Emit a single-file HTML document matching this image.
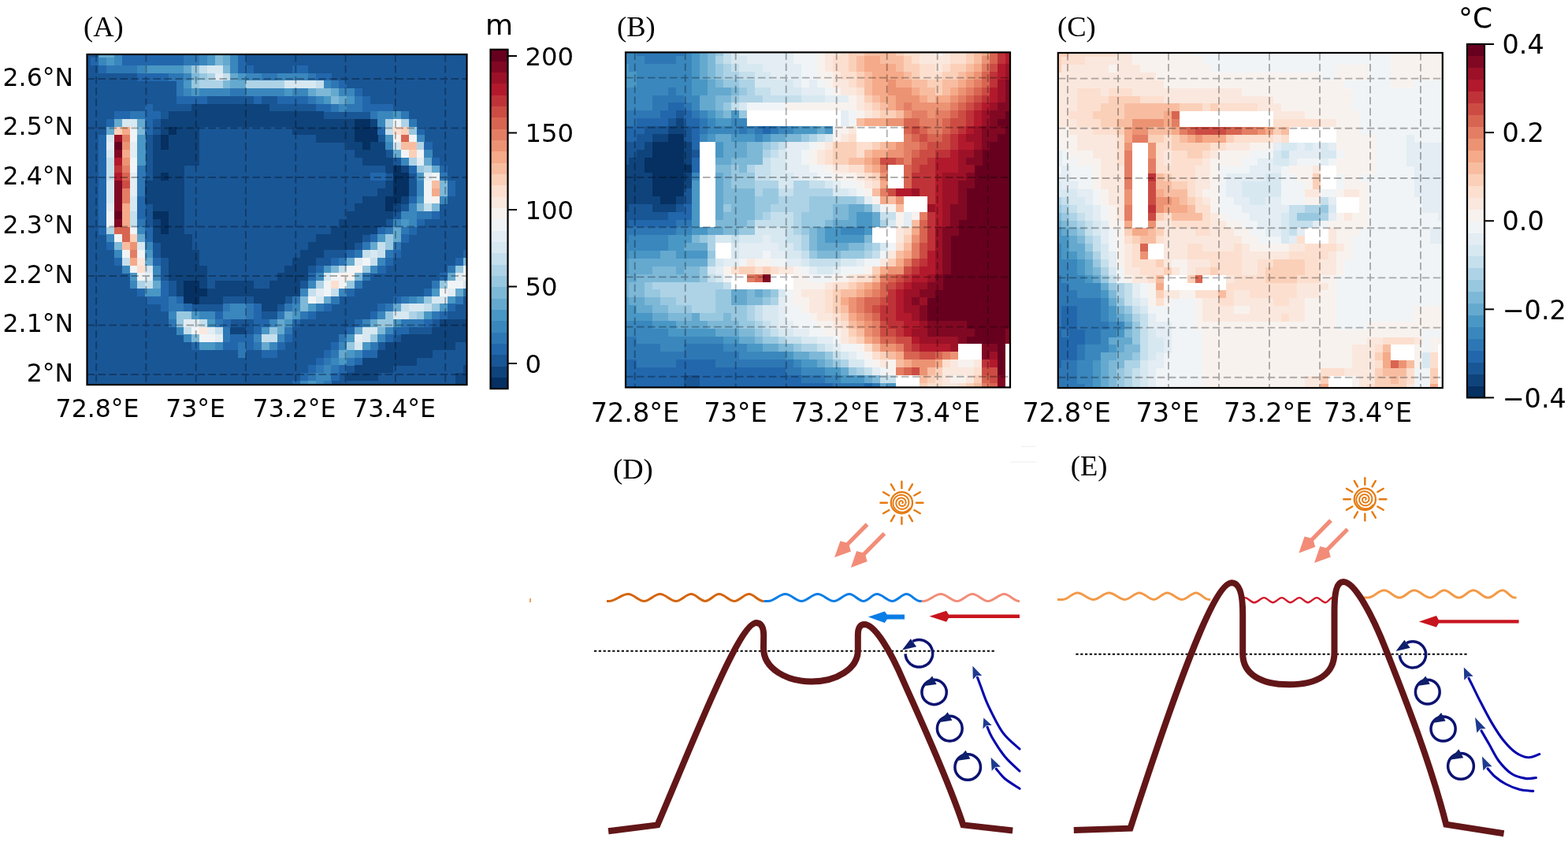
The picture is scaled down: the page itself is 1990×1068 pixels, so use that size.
<!DOCTYPE html><html><head><meta charset="utf-8"><title>Figure</title><style>html,body{margin:0;padding:0;background:#fff;}svg{display:block;}.t{font-family:"DejaVu Sans","Liberation Sans",sans-serif;font-size:31.5px;fill:#000;}.lab{font-family:"Liberation Serif",serif;font-size:36.5px;fill:#000;}</style></head><body>
<svg width="1990" height="1068" viewBox="0 0 1990 1068">
<rect width="1990" height="1068" fill="#fff"/>
<clipPath id="ca"><rect x="110.5" y="69" width="482" height="419"/></clipPath>
<g clip-path="url(#ca)" shape-rendering="crispEdges">
<rect x="110.5" y="69" width="482" height="419" fill="#195696"/>
<rect x="125.18" y="63.24" width="19.98" height="10.06" fill="#65a9cf"/>
<rect x="144.86" y="63.24" width="10.14" height="10.06" fill="#3a87bd"/>
<rect x="154.7" y="63.24" width="79.02" height="10.06" fill="#2267ac"/>
<rect x="233.42" y="63.24" width="19.98" height="10.06" fill="#2e77b5"/>
<rect x="253.1" y="63.24" width="10.14" height="10.06" fill="#3a87bd"/>
<rect x="262.94" y="63.24" width="10.14" height="10.06" fill="#4997c5"/>
<rect x="272.78" y="63.24" width="10.14" height="10.06" fill="#7eb8d7"/>
<rect x="282.62" y="63.24" width="10.14" height="10.06" fill="#65a9cf"/>
<rect x="292.46" y="63.24" width="10.14" height="10.06" fill="#3a87bd"/>
<rect x="302.3" y="63.24" width="10.14" height="10.06" fill="#2267ac"/>
<rect x="115.34" y="73" width="10.14" height="10.06" fill="#2267ac"/>
<rect x="125.18" y="73" width="10.14" height="10.06" fill="#3a87bd"/>
<rect x="135.02" y="73" width="10.14" height="10.06" fill="#4997c5"/>
<rect x="144.86" y="73" width="10.14" height="10.06" fill="#3a87bd"/>
<rect x="154.7" y="73" width="79.02" height="10.06" fill="#2267ac"/>
<rect x="233.42" y="73" width="19.98" height="10.06" fill="#2e77b5"/>
<rect x="253.1" y="73" width="10.14" height="10.06" fill="#3a87bd"/>
<rect x="262.94" y="73" width="10.14" height="10.06" fill="#4997c5"/>
<rect x="272.78" y="73" width="10.14" height="10.06" fill="#7eb8d7"/>
<rect x="282.62" y="73" width="10.14" height="10.06" fill="#65a9cf"/>
<rect x="292.46" y="73" width="10.14" height="10.06" fill="#3a87bd"/>
<rect x="302.3" y="73" width="10.14" height="10.06" fill="#2267ac"/>
<rect x="125.18" y="82.76" width="10.14" height="10.06" fill="#2267ac"/>
<rect x="135.02" y="82.76" width="39.66" height="10.06" fill="#2e77b5"/>
<rect x="174.38" y="82.76" width="10.14" height="10.06" fill="#3a87bd"/>
<rect x="184.22" y="82.76" width="49.5" height="10.06" fill="#4997c5"/>
<rect x="233.42" y="82.76" width="10.14" height="10.06" fill="#65a9cf"/>
<rect x="243.26" y="82.76" width="10.14" height="10.06" fill="#98c8e0"/>
<rect x="253.1" y="82.76" width="10.14" height="10.06" fill="#c5dfec"/>
<rect x="262.94" y="82.76" width="19.98" height="10.06" fill="#d7e8f1"/>
<rect x="282.62" y="82.76" width="10.14" height="10.06" fill="#7eb8d7"/>
<rect x="292.46" y="82.76" width="10.14" height="10.06" fill="#3a87bd"/>
<rect x="302.3" y="82.76" width="19.98" height="10.06" fill="#2267ac"/>
<rect x="371.18" y="82.76" width="19.98" height="10.06" fill="#2267ac"/>
<rect x="174.38" y="92.52" width="39.66" height="10.06" fill="#2267ac"/>
<rect x="213.74" y="92.52" width="19.98" height="10.06" fill="#2e77b5"/>
<rect x="233.42" y="92.52" width="10.14" height="10.06" fill="#3a87bd"/>
<rect x="243.26" y="92.52" width="10.14" height="10.06" fill="#7eb8d7"/>
<rect x="253.1" y="92.52" width="10.14" height="10.06" fill="#98c8e0"/>
<rect x="262.94" y="92.52" width="10.14" height="10.06" fill="#aed3e6"/>
<rect x="272.78" y="92.52" width="10.14" height="10.06" fill="#e3edf3"/>
<rect x="282.62" y="92.52" width="10.14" height="10.06" fill="#c5dfec"/>
<rect x="292.46" y="92.52" width="10.14" height="10.06" fill="#65a9cf"/>
<rect x="302.3" y="92.52" width="10.14" height="10.06" fill="#4997c5"/>
<rect x="312.14" y="92.52" width="19.98" height="10.06" fill="#3a87bd"/>
<rect x="331.82" y="92.52" width="19.98" height="10.06" fill="#2e77b5"/>
<rect x="351.5" y="92.52" width="39.66" height="10.06" fill="#3a87bd"/>
<rect x="390.86" y="92.52" width="10.14" height="10.06" fill="#2e77b5"/>
<rect x="400.7" y="92.52" width="19.98" height="10.06" fill="#2267ac"/>
<rect x="223.58" y="102.28" width="10.14" height="10.06" fill="#2e77b5"/>
<rect x="233.42" y="102.28" width="10.14" height="10.06" fill="#4997c5"/>
<rect x="243.26" y="102.28" width="10.14" height="10.06" fill="#98c8e0"/>
<rect x="253.1" y="102.28" width="29.82" height="10.06" fill="#aed3e6"/>
<rect x="282.62" y="102.28" width="10.14" height="10.06" fill="#7eb8d7"/>
<rect x="292.46" y="102.28" width="19.98" height="10.06" fill="#65a9cf"/>
<rect x="312.14" y="102.28" width="49.5" height="10.06" fill="#aed3e6"/>
<rect x="361.34" y="102.28" width="39.66" height="10.06" fill="#d7e8f1"/>
<rect x="400.7" y="102.28" width="10.14" height="10.06" fill="#c5dfec"/>
<rect x="410.54" y="102.28" width="10.14" height="10.06" fill="#3a87bd"/>
<rect x="420.38" y="102.28" width="10.14" height="10.06" fill="#2e77b5"/>
<rect x="430.22" y="102.28" width="10.14" height="10.06" fill="#2267ac"/>
<rect x="223.58" y="112.04" width="10.14" height="10.06" fill="#2e77b5"/>
<rect x="233.42" y="112.04" width="10.14" height="10.06" fill="#3a87bd"/>
<rect x="243.26" y="112.04" width="10.14" height="10.06" fill="#4997c5"/>
<rect x="253.1" y="112.04" width="39.66" height="10.06" fill="#3a87bd"/>
<rect x="292.46" y="112.04" width="19.98" height="10.06" fill="#2e77b5"/>
<rect x="312.14" y="112.04" width="49.5" height="10.06" fill="#3a87bd"/>
<rect x="361.34" y="112.04" width="10.14" height="10.06" fill="#4997c5"/>
<rect x="371.18" y="112.04" width="19.98" height="10.06" fill="#3a87bd"/>
<rect x="390.86" y="112.04" width="10.14" height="10.06" fill="#65a9cf"/>
<rect x="400.7" y="112.04" width="19.98" height="10.06" fill="#7eb8d7"/>
<rect x="420.38" y="112.04" width="10.14" height="10.06" fill="#65a9cf"/>
<rect x="430.22" y="112.04" width="19.98" height="10.06" fill="#3a87bd"/>
<rect x="449.9" y="112.04" width="10.14" height="10.06" fill="#2267ac"/>
<rect x="223.58" y="121.8" width="39.66" height="10.06" fill="#2267ac"/>
<rect x="321.98" y="121.8" width="10.14" height="10.06" fill="#2267ac"/>
<rect x="351.5" y="121.8" width="39.66" height="10.06" fill="#2267ac"/>
<rect x="390.86" y="121.8" width="10.14" height="10.06" fill="#2e77b5"/>
<rect x="400.7" y="121.8" width="10.14" height="10.06" fill="#3a87bd"/>
<rect x="410.54" y="121.8" width="10.14" height="10.06" fill="#4997c5"/>
<rect x="420.38" y="121.8" width="10.14" height="10.06" fill="#7eb8d7"/>
<rect x="430.22" y="121.8" width="10.14" height="10.06" fill="#65a9cf"/>
<rect x="440.06" y="121.8" width="10.14" height="10.06" fill="#4997c5"/>
<rect x="449.9" y="121.8" width="10.14" height="10.06" fill="#2e77b5"/>
<rect x="459.74" y="121.8" width="10.14" height="10.06" fill="#2267ac"/>
<rect x="184.22" y="131.56" width="10.14" height="10.06" fill="#2267ac"/>
<rect x="243.26" y="131.56" width="98.7" height="10.06" fill="#0f437b"/>
<rect x="400.7" y="131.56" width="19.98" height="10.06" fill="#2267ac"/>
<rect x="420.38" y="131.56" width="10.14" height="10.06" fill="#2e77b5"/>
<rect x="430.22" y="131.56" width="10.14" height="10.06" fill="#3a87bd"/>
<rect x="440.06" y="131.56" width="19.98" height="10.06" fill="#2e77b5"/>
<rect x="459.74" y="131.56" width="39.66" height="10.06" fill="#2267ac"/>
<rect x="144.86" y="141.32" width="19.98" height="10.06" fill="#2267ac"/>
<rect x="164.54" y="141.32" width="19.98" height="10.06" fill="#2e77b5"/>
<rect x="184.22" y="141.32" width="19.98" height="10.06" fill="#2267ac"/>
<rect x="213.74" y="141.32" width="197.1" height="10.06" fill="#0f437b"/>
<rect x="469.58" y="141.32" width="10.14" height="10.06" fill="#2e77b5"/>
<rect x="479.42" y="141.32" width="19.98" height="10.06" fill="#3a87bd"/>
<rect x="499.1" y="141.32" width="10.14" height="10.06" fill="#4997c5"/>
<rect x="508.94" y="141.32" width="10.14" height="10.06" fill="#2e77b5"/>
<rect x="135.02" y="151.08" width="10.14" height="10.06" fill="#2267ac"/>
<rect x="144.86" y="151.08" width="10.14" height="10.06" fill="#65a9cf"/>
<rect x="154.7" y="151.08" width="19.98" height="10.06" fill="#d7e8f1"/>
<rect x="174.38" y="151.08" width="10.14" height="10.06" fill="#65a9cf"/>
<rect x="184.22" y="151.08" width="10.14" height="10.06" fill="#2267ac"/>
<rect x="203.9" y="151.08" width="246.3" height="10.06" fill="#0f437b"/>
<rect x="449.9" y="151.08" width="19.98" height="10.06" fill="#053061"/>
<rect x="469.58" y="151.08" width="10.14" height="10.06" fill="#0f437b"/>
<rect x="479.42" y="151.08" width="10.14" height="10.06" fill="#3a87bd"/>
<rect x="489.26" y="151.08" width="10.14" height="10.06" fill="#aed3e6"/>
<rect x="499.1" y="151.08" width="10.14" height="10.06" fill="#f0f4f6"/>
<rect x="508.94" y="151.08" width="10.14" height="10.06" fill="#aed3e6"/>
<rect x="518.78" y="151.08" width="10.14" height="10.06" fill="#2e77b5"/>
<rect x="135.02" y="160.84" width="10.14" height="10.06" fill="#65a9cf"/>
<rect x="144.86" y="160.84" width="10.14" height="10.06" fill="#fbd0b9"/>
<rect x="154.7" y="160.84" width="10.14" height="10.06" fill="#f5aa89"/>
<rect x="164.54" y="160.84" width="10.14" height="10.06" fill="#f0f4f6"/>
<rect x="174.38" y="160.84" width="10.14" height="10.06" fill="#7eb8d7"/>
<rect x="184.22" y="160.84" width="10.14" height="10.06" fill="#2267ac"/>
<rect x="203.9" y="160.84" width="10.14" height="10.06" fill="#0f437b"/>
<rect x="213.74" y="160.84" width="10.14" height="10.06" fill="#053061"/>
<rect x="223.58" y="160.84" width="29.82" height="10.06" fill="#0f437b"/>
<rect x="371.18" y="160.84" width="79.02" height="10.06" fill="#0f437b"/>
<rect x="449.9" y="160.84" width="29.82" height="10.06" fill="#053061"/>
<rect x="479.42" y="160.84" width="10.14" height="10.06" fill="#2267ac"/>
<rect x="489.26" y="160.84" width="10.14" height="10.06" fill="#c5dfec"/>
<rect x="499.1" y="160.84" width="10.14" height="10.06" fill="#fcdfcf"/>
<rect x="508.94" y="160.84" width="10.14" height="10.06" fill="#fbd0b9"/>
<rect x="518.78" y="160.84" width="10.14" height="10.06" fill="#98c8e0"/>
<rect x="528.62" y="160.84" width="10.14" height="10.06" fill="#2267ac"/>
<rect x="125.18" y="170.6" width="10.14" height="10.06" fill="#2267ac"/>
<rect x="135.02" y="170.6" width="10.14" height="10.06" fill="#d7e8f1"/>
<rect x="144.86" y="170.6" width="10.14" height="10.06" fill="#9c1127"/>
<rect x="154.7" y="170.6" width="10.14" height="10.06" fill="#e37e64"/>
<rect x="164.54" y="170.6" width="10.14" height="10.06" fill="#f0f4f6"/>
<rect x="174.38" y="170.6" width="10.14" height="10.06" fill="#4997c5"/>
<rect x="194.06" y="170.6" width="10.14" height="10.06" fill="#0f437b"/>
<rect x="203.9" y="170.6" width="10.14" height="10.06" fill="#053061"/>
<rect x="213.74" y="170.6" width="39.66" height="10.06" fill="#0f437b"/>
<rect x="400.7" y="170.6" width="49.5" height="10.06" fill="#0f437b"/>
<rect x="449.9" y="170.6" width="29.82" height="10.06" fill="#053061"/>
<rect x="489.26" y="170.6" width="10.14" height="10.06" fill="#4997c5"/>
<rect x="499.1" y="170.6" width="10.14" height="10.06" fill="#f8f2ef"/>
<rect x="508.94" y="170.6" width="10.14" height="10.06" fill="#d86551"/>
<rect x="518.78" y="170.6" width="10.14" height="10.06" fill="#f0f4f6"/>
<rect x="528.62" y="170.6" width="10.14" height="10.06" fill="#3a87bd"/>
<rect x="125.18" y="180.36" width="10.14" height="10.06" fill="#2267ac"/>
<rect x="135.02" y="180.36" width="10.14" height="10.06" fill="#e3edf3"/>
<rect x="144.86" y="180.36" width="10.14" height="10.06" fill="#67001f"/>
<rect x="154.7" y="180.36" width="10.14" height="10.06" fill="#ec9374"/>
<rect x="164.54" y="180.36" width="10.14" height="10.06" fill="#e3edf3"/>
<rect x="174.38" y="180.36" width="10.14" height="10.06" fill="#4997c5"/>
<rect x="194.06" y="180.36" width="10.14" height="10.06" fill="#0f437b"/>
<rect x="203.9" y="180.36" width="10.14" height="10.06" fill="#053061"/>
<rect x="213.74" y="180.36" width="39.66" height="10.06" fill="#0f437b"/>
<rect x="440.06" y="180.36" width="19.98" height="10.06" fill="#0f437b"/>
<rect x="459.74" y="180.36" width="10.14" height="10.06" fill="#053061"/>
<rect x="469.58" y="180.36" width="19.98" height="10.06" fill="#0f437b"/>
<rect x="489.26" y="180.36" width="10.14" height="10.06" fill="#3a87bd"/>
<rect x="499.1" y="180.36" width="10.14" height="10.06" fill="#d7e8f1"/>
<rect x="508.94" y="180.36" width="19.98" height="10.06" fill="#f8bda1"/>
<rect x="528.62" y="180.36" width="10.14" height="10.06" fill="#aed3e6"/>
<rect x="538.46" y="180.36" width="10.14" height="10.06" fill="#2267ac"/>
<rect x="125.18" y="190.12" width="10.14" height="10.06" fill="#2267ac"/>
<rect x="135.02" y="190.12" width="10.14" height="10.06" fill="#d7e8f1"/>
<rect x="144.86" y="190.12" width="10.14" height="10.06" fill="#810823"/>
<rect x="154.7" y="190.12" width="10.14" height="10.06" fill="#f5aa89"/>
<rect x="164.54" y="190.12" width="10.14" height="10.06" fill="#e3edf3"/>
<rect x="174.38" y="190.12" width="10.14" height="10.06" fill="#4997c5"/>
<rect x="194.06" y="190.12" width="59.34" height="10.06" fill="#0f437b"/>
<rect x="449.9" y="190.12" width="39.66" height="10.06" fill="#0f437b"/>
<rect x="499.1" y="190.12" width="10.14" height="10.06" fill="#65a9cf"/>
<rect x="508.94" y="190.12" width="10.14" height="10.06" fill="#f0f4f6"/>
<rect x="518.78" y="190.12" width="10.14" height="10.06" fill="#fbd0b9"/>
<rect x="528.62" y="190.12" width="10.14" height="10.06" fill="#f0f4f6"/>
<rect x="538.46" y="190.12" width="10.14" height="10.06" fill="#3a87bd"/>
<rect x="125.18" y="199.88" width="10.14" height="10.06" fill="#2267ac"/>
<rect x="135.02" y="199.88" width="10.14" height="10.06" fill="#c5dfec"/>
<rect x="144.86" y="199.88" width="10.14" height="10.06" fill="#b3192c"/>
<rect x="154.7" y="199.88" width="10.14" height="10.06" fill="#ec9374"/>
<rect x="164.54" y="199.88" width="10.14" height="10.06" fill="#f0f4f6"/>
<rect x="174.38" y="199.88" width="10.14" height="10.06" fill="#4997c5"/>
<rect x="194.06" y="199.88" width="59.34" height="10.06" fill="#0f437b"/>
<rect x="459.74" y="199.88" width="39.66" height="10.06" fill="#0f437b"/>
<rect x="508.94" y="199.88" width="10.14" height="10.06" fill="#3a87bd"/>
<rect x="518.78" y="199.88" width="10.14" height="10.06" fill="#aed3e6"/>
<rect x="528.62" y="199.88" width="10.14" height="10.06" fill="#e3edf3"/>
<rect x="538.46" y="199.88" width="10.14" height="10.06" fill="#65a9cf"/>
<rect x="548.3" y="199.88" width="10.14" height="10.06" fill="#2267ac"/>
<rect x="125.18" y="209.64" width="10.14" height="10.06" fill="#2267ac"/>
<rect x="135.02" y="209.64" width="10.14" height="10.06" fill="#c5dfec"/>
<rect x="144.86" y="209.64" width="10.14" height="10.06" fill="#bf3338"/>
<rect x="154.7" y="209.64" width="10.14" height="10.06" fill="#e37e64"/>
<rect x="164.54" y="209.64" width="10.14" height="10.06" fill="#f0f4f6"/>
<rect x="174.38" y="209.64" width="10.14" height="10.06" fill="#2e77b5"/>
<rect x="194.06" y="209.64" width="39.66" height="10.06" fill="#0f437b"/>
<rect x="489.26" y="209.64" width="10.14" height="10.06" fill="#0f437b"/>
<rect x="499.1" y="209.64" width="10.14" height="10.06" fill="#053061"/>
<rect x="508.94" y="209.64" width="10.14" height="10.06" fill="#0f437b"/>
<rect x="518.78" y="209.64" width="10.14" height="10.06" fill="#2267ac"/>
<rect x="528.62" y="209.64" width="10.14" height="10.06" fill="#98c8e0"/>
<rect x="538.46" y="209.64" width="10.14" height="10.06" fill="#aed3e6"/>
<rect x="548.3" y="209.64" width="10.14" height="10.06" fill="#65a9cf"/>
<rect x="558.14" y="209.64" width="10.14" height="10.06" fill="#2267ac"/>
<rect x="125.18" y="219.4" width="10.14" height="10.06" fill="#2267ac"/>
<rect x="135.02" y="219.4" width="10.14" height="10.06" fill="#c5dfec"/>
<rect x="144.86" y="219.4" width="10.14" height="10.06" fill="#b3192c"/>
<rect x="154.7" y="219.4" width="10.14" height="10.06" fill="#d86551"/>
<rect x="164.54" y="219.4" width="10.14" height="10.06" fill="#e3edf3"/>
<rect x="174.38" y="219.4" width="10.14" height="10.06" fill="#2e77b5"/>
<rect x="194.06" y="219.4" width="10.14" height="10.06" fill="#0f437b"/>
<rect x="203.9" y="219.4" width="10.14" height="10.06" fill="#053061"/>
<rect x="213.74" y="219.4" width="19.98" height="10.06" fill="#0f437b"/>
<rect x="469.58" y="219.4" width="19.98" height="10.06" fill="#2267ac"/>
<rect x="499.1" y="219.4" width="19.98" height="10.06" fill="#053061"/>
<rect x="528.62" y="219.4" width="10.14" height="10.06" fill="#4997c5"/>
<rect x="538.46" y="219.4" width="10.14" height="10.06" fill="#e3edf3"/>
<rect x="548.3" y="219.4" width="10.14" height="10.06" fill="#f0f4f6"/>
<rect x="558.14" y="219.4" width="10.14" height="10.06" fill="#2e77b5"/>
<rect x="125.18" y="229.16" width="10.14" height="10.06" fill="#2267ac"/>
<rect x="135.02" y="229.16" width="10.14" height="10.06" fill="#d7e8f1"/>
<rect x="144.86" y="229.16" width="10.14" height="10.06" fill="#810823"/>
<rect x="154.7" y="229.16" width="10.14" height="10.06" fill="#cc4c44"/>
<rect x="164.54" y="229.16" width="10.14" height="10.06" fill="#e3edf3"/>
<rect x="174.38" y="229.16" width="10.14" height="10.06" fill="#2e77b5"/>
<rect x="184.22" y="229.16" width="49.5" height="10.06" fill="#0f437b"/>
<rect x="489.26" y="229.16" width="10.14" height="10.06" fill="#0f437b"/>
<rect x="499.1" y="229.16" width="19.98" height="10.06" fill="#053061"/>
<rect x="528.62" y="229.16" width="10.14" height="10.06" fill="#3a87bd"/>
<rect x="538.46" y="229.16" width="10.14" height="10.06" fill="#f0f4f6"/>
<rect x="548.3" y="229.16" width="10.14" height="10.06" fill="#f8bda1"/>
<rect x="558.14" y="229.16" width="10.14" height="10.06" fill="#7eb8d7"/>
<rect x="567.98" y="229.16" width="10.14" height="10.06" fill="#2267ac"/>
<rect x="125.18" y="238.92" width="10.14" height="10.06" fill="#2267ac"/>
<rect x="135.02" y="238.92" width="10.14" height="10.06" fill="#d7e8f1"/>
<rect x="144.86" y="238.92" width="10.14" height="10.06" fill="#810823"/>
<rect x="154.7" y="238.92" width="10.14" height="10.06" fill="#e37e64"/>
<rect x="164.54" y="238.92" width="10.14" height="10.06" fill="#e3edf3"/>
<rect x="174.38" y="238.92" width="10.14" height="10.06" fill="#2e77b5"/>
<rect x="184.22" y="238.92" width="49.5" height="10.06" fill="#0f437b"/>
<rect x="479.42" y="238.92" width="19.98" height="10.06" fill="#0f437b"/>
<rect x="499.1" y="238.92" width="19.98" height="10.06" fill="#053061"/>
<rect x="528.62" y="238.92" width="10.14" height="10.06" fill="#3a87bd"/>
<rect x="538.46" y="238.92" width="10.14" height="10.06" fill="#f0f4f6"/>
<rect x="548.3" y="238.92" width="10.14" height="10.06" fill="#f5aa89"/>
<rect x="558.14" y="238.92" width="10.14" height="10.06" fill="#7eb8d7"/>
<rect x="567.98" y="238.92" width="10.14" height="10.06" fill="#2267ac"/>
<rect x="125.18" y="248.68" width="10.14" height="10.06" fill="#2267ac"/>
<rect x="135.02" y="248.68" width="10.14" height="10.06" fill="#d7e8f1"/>
<rect x="144.86" y="248.68" width="10.14" height="10.06" fill="#810823"/>
<rect x="154.7" y="248.68" width="10.14" height="10.06" fill="#e37e64"/>
<rect x="164.54" y="248.68" width="10.14" height="10.06" fill="#d7e8f1"/>
<rect x="174.38" y="248.68" width="10.14" height="10.06" fill="#2267ac"/>
<rect x="184.22" y="248.68" width="49.5" height="10.06" fill="#0f437b"/>
<rect x="459.74" y="248.68" width="29.82" height="10.06" fill="#0f437b"/>
<rect x="489.26" y="248.68" width="19.98" height="10.06" fill="#053061"/>
<rect x="508.94" y="248.68" width="10.14" height="10.06" fill="#0f437b"/>
<rect x="518.78" y="248.68" width="10.14" height="10.06" fill="#2267ac"/>
<rect x="528.62" y="248.68" width="10.14" height="10.06" fill="#4997c5"/>
<rect x="538.46" y="248.68" width="10.14" height="10.06" fill="#f0f4f6"/>
<rect x="548.3" y="248.68" width="10.14" height="10.06" fill="#f8f2ef"/>
<rect x="558.14" y="248.68" width="10.14" height="10.06" fill="#3a87bd"/>
<rect x="125.18" y="258.44" width="10.14" height="10.06" fill="#2267ac"/>
<rect x="135.02" y="258.44" width="10.14" height="10.06" fill="#e3edf3"/>
<rect x="144.86" y="258.44" width="10.14" height="10.06" fill="#810823"/>
<rect x="154.7" y="258.44" width="10.14" height="10.06" fill="#f5aa89"/>
<rect x="164.54" y="258.44" width="10.14" height="10.06" fill="#d7e8f1"/>
<rect x="174.38" y="258.44" width="10.14" height="10.06" fill="#2267ac"/>
<rect x="194.06" y="258.44" width="39.66" height="10.06" fill="#0f437b"/>
<rect x="449.9" y="258.44" width="39.66" height="10.06" fill="#0f437b"/>
<rect x="489.26" y="258.44" width="10.14" height="10.06" fill="#053061"/>
<rect x="499.1" y="258.44" width="10.14" height="10.06" fill="#0f437b"/>
<rect x="518.78" y="258.44" width="10.14" height="10.06" fill="#3a87bd"/>
<rect x="528.62" y="258.44" width="10.14" height="10.06" fill="#7eb8d7"/>
<rect x="538.46" y="258.44" width="10.14" height="10.06" fill="#c5dfec"/>
<rect x="548.3" y="258.44" width="10.14" height="10.06" fill="#7eb8d7"/>
<rect x="125.18" y="268.2" width="10.14" height="10.06" fill="#2267ac"/>
<rect x="135.02" y="268.2" width="10.14" height="10.06" fill="#f0f4f6"/>
<rect x="144.86" y="268.2" width="10.14" height="10.06" fill="#67001f"/>
<rect x="154.7" y="268.2" width="10.14" height="10.06" fill="#f5aa89"/>
<rect x="164.54" y="268.2" width="10.14" height="10.06" fill="#c5dfec"/>
<rect x="174.38" y="268.2" width="10.14" height="10.06" fill="#2267ac"/>
<rect x="194.06" y="268.2" width="19.98" height="10.06" fill="#053061"/>
<rect x="213.74" y="268.2" width="19.98" height="10.06" fill="#0f437b"/>
<rect x="440.06" y="268.2" width="59.34" height="10.06" fill="#0f437b"/>
<rect x="508.94" y="268.2" width="19.98" height="10.06" fill="#3a87bd"/>
<rect x="528.62" y="268.2" width="19.98" height="10.06" fill="#2e77b5"/>
<rect x="548.3" y="268.2" width="10.14" height="10.06" fill="#2267ac"/>
<rect x="125.18" y="277.96" width="10.14" height="10.06" fill="#2267ac"/>
<rect x="135.02" y="277.96" width="10.14" height="10.06" fill="#f0f4f6"/>
<rect x="144.86" y="277.96" width="10.14" height="10.06" fill="#810823"/>
<rect x="154.7" y="277.96" width="10.14" height="10.06" fill="#f5aa89"/>
<rect x="164.54" y="277.96" width="10.14" height="10.06" fill="#c5dfec"/>
<rect x="174.38" y="277.96" width="10.14" height="10.06" fill="#2e77b5"/>
<rect x="194.06" y="277.96" width="10.14" height="10.06" fill="#0f437b"/>
<rect x="203.9" y="277.96" width="10.14" height="10.06" fill="#053061"/>
<rect x="213.74" y="277.96" width="19.98" height="10.06" fill="#0f437b"/>
<rect x="430.22" y="277.96" width="59.34" height="10.06" fill="#0f437b"/>
<rect x="499.1" y="277.96" width="10.14" height="10.06" fill="#3a87bd"/>
<rect x="508.94" y="277.96" width="10.14" height="10.06" fill="#4997c5"/>
<rect x="518.78" y="277.96" width="10.14" height="10.06" fill="#3a87bd"/>
<rect x="528.62" y="277.96" width="10.14" height="10.06" fill="#2267ac"/>
<rect x="125.18" y="287.72" width="10.14" height="10.06" fill="#2267ac"/>
<rect x="135.02" y="287.72" width="10.14" height="10.06" fill="#aed3e6"/>
<rect x="144.86" y="287.72" width="19.98" height="10.06" fill="#d86551"/>
<rect x="164.54" y="287.72" width="10.14" height="10.06" fill="#f0f4f6"/>
<rect x="174.38" y="287.72" width="10.14" height="10.06" fill="#3a87bd"/>
<rect x="184.22" y="287.72" width="10.14" height="10.06" fill="#2267ac"/>
<rect x="194.06" y="287.72" width="10.14" height="10.06" fill="#0f437b"/>
<rect x="203.9" y="287.72" width="10.14" height="10.06" fill="#053061"/>
<rect x="213.74" y="287.72" width="19.98" height="10.06" fill="#0f437b"/>
<rect x="420.38" y="287.72" width="59.34" height="10.06" fill="#0f437b"/>
<rect x="479.42" y="287.72" width="10.14" height="10.06" fill="#2267ac"/>
<rect x="489.26" y="287.72" width="10.14" height="10.06" fill="#2e77b5"/>
<rect x="499.1" y="287.72" width="10.14" height="10.06" fill="#65a9cf"/>
<rect x="508.94" y="287.72" width="10.14" height="10.06" fill="#2e77b5"/>
<rect x="518.78" y="287.72" width="10.14" height="10.06" fill="#2267ac"/>
<rect x="135.02" y="297.48" width="10.14" height="10.06" fill="#3a87bd"/>
<rect x="144.86" y="297.48" width="10.14" height="10.06" fill="#f0f4f6"/>
<rect x="154.7" y="297.48" width="10.14" height="10.06" fill="#d86551"/>
<rect x="164.54" y="297.48" width="10.14" height="10.06" fill="#fbd0b9"/>
<rect x="174.38" y="297.48" width="10.14" height="10.06" fill="#65a9cf"/>
<rect x="184.22" y="297.48" width="10.14" height="10.06" fill="#2267ac"/>
<rect x="194.06" y="297.48" width="49.5" height="10.06" fill="#0f437b"/>
<rect x="400.7" y="297.48" width="59.34" height="10.06" fill="#0f437b"/>
<rect x="469.58" y="297.48" width="10.14" height="10.06" fill="#2267ac"/>
<rect x="479.42" y="297.48" width="10.14" height="10.06" fill="#4997c5"/>
<rect x="489.26" y="297.48" width="10.14" height="10.06" fill="#98c8e0"/>
<rect x="499.1" y="297.48" width="10.14" height="10.06" fill="#65a9cf"/>
<rect x="508.94" y="297.48" width="10.14" height="10.06" fill="#2267ac"/>
<rect x="135.02" y="307.24" width="10.14" height="10.06" fill="#2267ac"/>
<rect x="144.86" y="307.24" width="10.14" height="10.06" fill="#7eb8d7"/>
<rect x="154.7" y="307.24" width="10.14" height="10.06" fill="#f8bda1"/>
<rect x="164.54" y="307.24" width="10.14" height="10.06" fill="#ec9374"/>
<rect x="174.38" y="307.24" width="10.14" height="10.06" fill="#d7e8f1"/>
<rect x="184.22" y="307.24" width="10.14" height="10.06" fill="#3a87bd"/>
<rect x="203.9" y="307.24" width="39.66" height="10.06" fill="#0f437b"/>
<rect x="390.86" y="307.24" width="59.34" height="10.06" fill="#0f437b"/>
<rect x="459.74" y="307.24" width="10.14" height="10.06" fill="#2e77b5"/>
<rect x="469.58" y="307.24" width="10.14" height="10.06" fill="#65a9cf"/>
<rect x="479.42" y="307.24" width="10.14" height="10.06" fill="#c5dfec"/>
<rect x="489.26" y="307.24" width="10.14" height="10.06" fill="#98c8e0"/>
<rect x="499.1" y="307.24" width="10.14" height="10.06" fill="#2e77b5"/>
<rect x="144.86" y="317" width="10.14" height="10.06" fill="#3a87bd"/>
<rect x="154.7" y="317" width="10.14" height="10.06" fill="#f0f4f6"/>
<rect x="164.54" y="317" width="10.14" height="10.06" fill="#e37e64"/>
<rect x="174.38" y="317" width="10.14" height="10.06" fill="#f0f4f6"/>
<rect x="184.22" y="317" width="10.14" height="10.06" fill="#4997c5"/>
<rect x="203.9" y="317" width="49.5" height="10.06" fill="#0f437b"/>
<rect x="381.02" y="317" width="29.82" height="10.06" fill="#0f437b"/>
<rect x="440.06" y="317" width="10.14" height="10.06" fill="#2267ac"/>
<rect x="449.9" y="317" width="10.14" height="10.06" fill="#2e77b5"/>
<rect x="459.74" y="317" width="10.14" height="10.06" fill="#c5dfec"/>
<rect x="469.58" y="317" width="10.14" height="10.06" fill="#d7e8f1"/>
<rect x="479.42" y="317" width="10.14" height="10.06" fill="#c5dfec"/>
<rect x="489.26" y="317" width="10.14" height="10.06" fill="#2e77b5"/>
<rect x="499.1" y="317" width="10.14" height="10.06" fill="#2267ac"/>
<rect x="587.66" y="317" width="10.14" height="10.06" fill="#2267ac"/>
<rect x="144.86" y="326.76" width="10.14" height="10.06" fill="#2267ac"/>
<rect x="154.7" y="326.76" width="10.14" height="10.06" fill="#c5dfec"/>
<rect x="164.54" y="326.76" width="10.14" height="10.06" fill="#f5aa89"/>
<rect x="174.38" y="326.76" width="10.14" height="10.06" fill="#fae8de"/>
<rect x="184.22" y="326.76" width="10.14" height="10.06" fill="#65a9cf"/>
<rect x="194.06" y="326.76" width="10.14" height="10.06" fill="#2267ac"/>
<rect x="213.74" y="326.76" width="39.66" height="10.06" fill="#0f437b"/>
<rect x="371.18" y="326.76" width="29.82" height="10.06" fill="#0f437b"/>
<rect x="420.38" y="326.76" width="10.14" height="10.06" fill="#2267ac"/>
<rect x="430.22" y="326.76" width="10.14" height="10.06" fill="#2e77b5"/>
<rect x="440.06" y="326.76" width="10.14" height="10.06" fill="#65a9cf"/>
<rect x="449.9" y="326.76" width="10.14" height="10.06" fill="#e3edf3"/>
<rect x="459.74" y="326.76" width="10.14" height="10.06" fill="#f0f4f6"/>
<rect x="469.58" y="326.76" width="10.14" height="10.06" fill="#c5dfec"/>
<rect x="479.42" y="326.76" width="10.14" height="10.06" fill="#3a87bd"/>
<rect x="489.26" y="326.76" width="10.14" height="10.06" fill="#2267ac"/>
<rect x="577.82" y="326.76" width="10.14" height="10.06" fill="#2267ac"/>
<rect x="587.66" y="326.76" width="10.14" height="10.06" fill="#7eb8d7"/>
<rect x="154.7" y="336.52" width="10.14" height="10.06" fill="#3a87bd"/>
<rect x="164.54" y="336.52" width="10.14" height="10.06" fill="#f0f4f6"/>
<rect x="174.38" y="336.52" width="10.14" height="10.06" fill="#fcdfcf"/>
<rect x="184.22" y="336.52" width="10.14" height="10.06" fill="#d7e8f1"/>
<rect x="194.06" y="336.52" width="10.14" height="10.06" fill="#3a87bd"/>
<rect x="213.74" y="336.52" width="49.5" height="10.06" fill="#0f437b"/>
<rect x="361.34" y="336.52" width="29.82" height="10.06" fill="#0f437b"/>
<rect x="400.7" y="336.52" width="10.14" height="10.06" fill="#2267ac"/>
<rect x="410.54" y="336.52" width="10.14" height="10.06" fill="#4997c5"/>
<rect x="420.38" y="336.52" width="10.14" height="10.06" fill="#7eb8d7"/>
<rect x="430.22" y="336.52" width="10.14" height="10.06" fill="#c5dfec"/>
<rect x="440.06" y="336.52" width="10.14" height="10.06" fill="#f0f4f6"/>
<rect x="449.9" y="336.52" width="10.14" height="10.06" fill="#f8f2ef"/>
<rect x="459.74" y="336.52" width="10.14" height="10.06" fill="#98c8e0"/>
<rect x="469.58" y="336.52" width="10.14" height="10.06" fill="#3a87bd"/>
<rect x="479.42" y="336.52" width="10.14" height="10.06" fill="#2267ac"/>
<rect x="567.98" y="336.52" width="10.14" height="10.06" fill="#2e77b5"/>
<rect x="577.82" y="336.52" width="10.14" height="10.06" fill="#98c8e0"/>
<rect x="587.66" y="336.52" width="10.14" height="10.06" fill="#f0f4f6"/>
<rect x="164.54" y="346.28" width="10.14" height="10.06" fill="#4997c5"/>
<rect x="174.38" y="346.28" width="10.14" height="10.06" fill="#f0f4f6"/>
<rect x="184.22" y="346.28" width="10.14" height="10.06" fill="#e3edf3"/>
<rect x="194.06" y="346.28" width="10.14" height="10.06" fill="#3a87bd"/>
<rect x="213.74" y="346.28" width="49.5" height="10.06" fill="#0f437b"/>
<rect x="351.5" y="346.28" width="39.66" height="10.06" fill="#0f437b"/>
<rect x="390.86" y="346.28" width="10.14" height="10.06" fill="#2267ac"/>
<rect x="400.7" y="346.28" width="10.14" height="10.06" fill="#3a87bd"/>
<rect x="410.54" y="346.28" width="10.14" height="10.06" fill="#d7e8f1"/>
<rect x="420.38" y="346.28" width="10.14" height="10.06" fill="#f0f4f6"/>
<rect x="430.22" y="346.28" width="19.98" height="10.06" fill="#f8f2ef"/>
<rect x="449.9" y="346.28" width="10.14" height="10.06" fill="#7eb8d7"/>
<rect x="459.74" y="346.28" width="10.14" height="10.06" fill="#2e77b5"/>
<rect x="558.14" y="346.28" width="10.14" height="10.06" fill="#2267ac"/>
<rect x="567.98" y="346.28" width="10.14" height="10.06" fill="#65a9cf"/>
<rect x="577.82" y="346.28" width="10.14" height="10.06" fill="#e3edf3"/>
<rect x="587.66" y="346.28" width="10.14" height="10.06" fill="#f8f2ef"/>
<rect x="164.54" y="356.04" width="10.14" height="10.06" fill="#3a87bd"/>
<rect x="174.38" y="356.04" width="10.14" height="10.06" fill="#aed3e6"/>
<rect x="184.22" y="356.04" width="10.14" height="10.06" fill="#c5dfec"/>
<rect x="194.06" y="356.04" width="10.14" height="10.06" fill="#65a9cf"/>
<rect x="203.9" y="356.04" width="10.14" height="10.06" fill="#2267ac"/>
<rect x="223.58" y="356.04" width="10.14" height="10.06" fill="#0f437b"/>
<rect x="233.42" y="356.04" width="19.98" height="10.06" fill="#053061"/>
<rect x="253.1" y="356.04" width="10.14" height="10.06" fill="#0f437b"/>
<rect x="272.78" y="356.04" width="49.5" height="10.06" fill="#0f437b"/>
<rect x="341.66" y="356.04" width="39.66" height="10.06" fill="#0f437b"/>
<rect x="390.86" y="356.04" width="10.14" height="10.06" fill="#3a87bd"/>
<rect x="400.7" y="356.04" width="10.14" height="10.06" fill="#aed3e6"/>
<rect x="410.54" y="356.04" width="10.14" height="10.06" fill="#f0f4f6"/>
<rect x="420.38" y="356.04" width="10.14" height="10.06" fill="#fcdfcf"/>
<rect x="430.22" y="356.04" width="10.14" height="10.06" fill="#f0f4f6"/>
<rect x="440.06" y="356.04" width="10.14" height="10.06" fill="#98c8e0"/>
<rect x="449.9" y="356.04" width="10.14" height="10.06" fill="#2e77b5"/>
<rect x="548.3" y="356.04" width="10.14" height="10.06" fill="#2e77b5"/>
<rect x="558.14" y="356.04" width="10.14" height="10.06" fill="#98c8e0"/>
<rect x="567.98" y="356.04" width="19.98" height="10.06" fill="#f0f4f6"/>
<rect x="587.66" y="356.04" width="10.14" height="10.06" fill="#d7e8f1"/>
<rect x="174.38" y="365.8" width="10.14" height="10.06" fill="#2267ac"/>
<rect x="184.22" y="365.8" width="19.98" height="10.06" fill="#4997c5"/>
<rect x="203.9" y="365.8" width="10.14" height="10.06" fill="#2267ac"/>
<rect x="223.58" y="365.8" width="10.14" height="10.06" fill="#0f437b"/>
<rect x="233.42" y="365.8" width="29.82" height="10.06" fill="#053061"/>
<rect x="262.94" y="365.8" width="118.38" height="10.06" fill="#0f437b"/>
<rect x="381.02" y="365.8" width="10.14" height="10.06" fill="#3a87bd"/>
<rect x="390.86" y="365.8" width="10.14" height="10.06" fill="#c5dfec"/>
<rect x="400.7" y="365.8" width="10.14" height="10.06" fill="#e3edf3"/>
<rect x="410.54" y="365.8" width="10.14" height="10.06" fill="#f0f4f6"/>
<rect x="420.38" y="365.8" width="10.14" height="10.06" fill="#c5dfec"/>
<rect x="430.22" y="365.8" width="10.14" height="10.06" fill="#3a87bd"/>
<rect x="440.06" y="365.8" width="10.14" height="10.06" fill="#2267ac"/>
<rect x="538.46" y="365.8" width="10.14" height="10.06" fill="#2267ac"/>
<rect x="548.3" y="365.8" width="10.14" height="10.06" fill="#4997c5"/>
<rect x="558.14" y="365.8" width="10.14" height="10.06" fill="#f0f4f6"/>
<rect x="567.98" y="365.8" width="10.14" height="10.06" fill="#e3edf3"/>
<rect x="577.82" y="365.8" width="10.14" height="10.06" fill="#65a9cf"/>
<rect x="587.66" y="365.8" width="10.14" height="10.06" fill="#2e77b5"/>
<rect x="184.22" y="375.56" width="29.82" height="10.06" fill="#2267ac"/>
<rect x="213.74" y="375.56" width="10.14" height="10.06" fill="#2e77b5"/>
<rect x="223.58" y="375.56" width="10.14" height="10.06" fill="#2267ac"/>
<rect x="233.42" y="375.56" width="19.98" height="10.06" fill="#053061"/>
<rect x="253.1" y="375.56" width="29.82" height="10.06" fill="#0f437b"/>
<rect x="321.98" y="375.56" width="39.66" height="10.06" fill="#0f437b"/>
<rect x="371.18" y="375.56" width="10.14" height="10.06" fill="#2e77b5"/>
<rect x="381.02" y="375.56" width="10.14" height="10.06" fill="#7eb8d7"/>
<rect x="390.86" y="375.56" width="10.14" height="10.06" fill="#f0f4f6"/>
<rect x="400.7" y="375.56" width="10.14" height="10.06" fill="#d7e8f1"/>
<rect x="410.54" y="375.56" width="10.14" height="10.06" fill="#65a9cf"/>
<rect x="420.38" y="375.56" width="10.14" height="10.06" fill="#2e77b5"/>
<rect x="499.1" y="375.56" width="10.14" height="10.06" fill="#2267ac"/>
<rect x="508.94" y="375.56" width="10.14" height="10.06" fill="#2e77b5"/>
<rect x="518.78" y="375.56" width="10.14" height="10.06" fill="#3a87bd"/>
<rect x="528.62" y="375.56" width="10.14" height="10.06" fill="#4997c5"/>
<rect x="538.46" y="375.56" width="10.14" height="10.06" fill="#98c8e0"/>
<rect x="548.3" y="375.56" width="19.98" height="10.06" fill="#d7e8f1"/>
<rect x="567.98" y="375.56" width="10.14" height="10.06" fill="#4997c5"/>
<rect x="577.82" y="375.56" width="10.14" height="10.06" fill="#2e77b5"/>
<rect x="203.9" y="385.32" width="10.14" height="10.06" fill="#2267ac"/>
<rect x="213.74" y="385.32" width="19.98" height="10.06" fill="#2e77b5"/>
<rect x="233.42" y="385.32" width="10.14" height="10.06" fill="#2267ac"/>
<rect x="282.62" y="385.32" width="10.14" height="10.06" fill="#2e77b5"/>
<rect x="292.46" y="385.32" width="19.98" height="10.06" fill="#3a87bd"/>
<rect x="312.14" y="385.32" width="10.14" height="10.06" fill="#2e77b5"/>
<rect x="321.98" y="385.32" width="10.14" height="10.06" fill="#2267ac"/>
<rect x="331.82" y="385.32" width="19.98" height="10.06" fill="#0f437b"/>
<rect x="361.34" y="385.32" width="10.14" height="10.06" fill="#2e77b5"/>
<rect x="371.18" y="385.32" width="10.14" height="10.06" fill="#3a87bd"/>
<rect x="381.02" y="385.32" width="10.14" height="10.06" fill="#7eb8d7"/>
<rect x="390.86" y="385.32" width="10.14" height="10.06" fill="#4997c5"/>
<rect x="400.7" y="385.32" width="10.14" height="10.06" fill="#2e77b5"/>
<rect x="410.54" y="385.32" width="10.14" height="10.06" fill="#2267ac"/>
<rect x="479.42" y="385.32" width="10.14" height="10.06" fill="#2267ac"/>
<rect x="489.26" y="385.32" width="10.14" height="10.06" fill="#2e77b5"/>
<rect x="499.1" y="385.32" width="10.14" height="10.06" fill="#65a9cf"/>
<rect x="508.94" y="385.32" width="10.14" height="10.06" fill="#c5dfec"/>
<rect x="518.78" y="385.32" width="19.98" height="10.06" fill="#d7e8f1"/>
<rect x="538.46" y="385.32" width="10.14" height="10.06" fill="#c5dfec"/>
<rect x="548.3" y="385.32" width="10.14" height="10.06" fill="#98c8e0"/>
<rect x="558.14" y="385.32" width="10.14" height="10.06" fill="#4997c5"/>
<rect x="567.98" y="385.32" width="10.14" height="10.06" fill="#2267ac"/>
<rect x="213.74" y="395.08" width="10.14" height="10.06" fill="#3a87bd"/>
<rect x="223.58" y="395.08" width="19.98" height="10.06" fill="#98c8e0"/>
<rect x="243.26" y="395.08" width="10.14" height="10.06" fill="#4997c5"/>
<rect x="253.1" y="395.08" width="19.98" height="10.06" fill="#3a87bd"/>
<rect x="272.78" y="395.08" width="10.14" height="10.06" fill="#2267ac"/>
<rect x="282.62" y="395.08" width="29.82" height="10.06" fill="#3a87bd"/>
<rect x="312.14" y="395.08" width="10.14" height="10.06" fill="#2e77b5"/>
<rect x="321.98" y="395.08" width="10.14" height="10.06" fill="#2267ac"/>
<rect x="351.5" y="395.08" width="10.14" height="10.06" fill="#2e77b5"/>
<rect x="361.34" y="395.08" width="10.14" height="10.06" fill="#65a9cf"/>
<rect x="371.18" y="395.08" width="10.14" height="10.06" fill="#4997c5"/>
<rect x="381.02" y="395.08" width="10.14" height="10.06" fill="#2e77b5"/>
<rect x="390.86" y="395.08" width="10.14" height="10.06" fill="#2267ac"/>
<rect x="469.58" y="395.08" width="10.14" height="10.06" fill="#2267ac"/>
<rect x="479.42" y="395.08" width="10.14" height="10.06" fill="#3a87bd"/>
<rect x="489.26" y="395.08" width="10.14" height="10.06" fill="#98c8e0"/>
<rect x="499.1" y="395.08" width="19.98" height="10.06" fill="#d7e8f1"/>
<rect x="518.78" y="395.08" width="10.14" height="10.06" fill="#aed3e6"/>
<rect x="528.62" y="395.08" width="10.14" height="10.06" fill="#98c8e0"/>
<rect x="538.46" y="395.08" width="10.14" height="10.06" fill="#4997c5"/>
<rect x="548.3" y="395.08" width="10.14" height="10.06" fill="#2e77b5"/>
<rect x="558.14" y="395.08" width="10.14" height="10.06" fill="#2267ac"/>
<rect x="213.74" y="404.84" width="10.14" height="10.06" fill="#2e77b5"/>
<rect x="223.58" y="404.84" width="10.14" height="10.06" fill="#98c8e0"/>
<rect x="233.42" y="404.84" width="19.98" height="10.06" fill="#e3edf3"/>
<rect x="253.1" y="404.84" width="10.14" height="10.06" fill="#c5dfec"/>
<rect x="262.94" y="404.84" width="10.14" height="10.06" fill="#4997c5"/>
<rect x="272.78" y="404.84" width="10.14" height="10.06" fill="#2e77b5"/>
<rect x="282.62" y="404.84" width="10.14" height="10.06" fill="#2267ac"/>
<rect x="321.98" y="404.84" width="19.98" height="10.06" fill="#2267ac"/>
<rect x="341.66" y="404.84" width="10.14" height="10.06" fill="#3a87bd"/>
<rect x="351.5" y="404.84" width="10.14" height="10.06" fill="#65a9cf"/>
<rect x="361.34" y="404.84" width="10.14" height="10.06" fill="#4997c5"/>
<rect x="371.18" y="404.84" width="10.14" height="10.06" fill="#2267ac"/>
<rect x="449.9" y="404.84" width="10.14" height="10.06" fill="#2267ac"/>
<rect x="459.74" y="404.84" width="10.14" height="10.06" fill="#3a87bd"/>
<rect x="469.58" y="404.84" width="10.14" height="10.06" fill="#65a9cf"/>
<rect x="479.42" y="404.84" width="19.98" height="10.06" fill="#98c8e0"/>
<rect x="499.1" y="404.84" width="10.14" height="10.06" fill="#4997c5"/>
<rect x="508.94" y="404.84" width="29.82" height="10.06" fill="#2e77b5"/>
<rect x="538.46" y="404.84" width="10.14" height="10.06" fill="#2267ac"/>
<rect x="558.14" y="404.84" width="39.66" height="10.06" fill="#0f437b"/>
<rect x="223.58" y="414.6" width="10.14" height="10.06" fill="#3a87bd"/>
<rect x="233.42" y="414.6" width="10.14" height="10.06" fill="#c5dfec"/>
<rect x="243.26" y="414.6" width="10.14" height="10.06" fill="#f0f4f6"/>
<rect x="253.1" y="414.6" width="10.14" height="10.06" fill="#fae8de"/>
<rect x="262.94" y="414.6" width="10.14" height="10.06" fill="#e3edf3"/>
<rect x="272.78" y="414.6" width="10.14" height="10.06" fill="#c5dfec"/>
<rect x="282.62" y="414.6" width="10.14" height="10.06" fill="#2e77b5"/>
<rect x="292.46" y="414.6" width="19.98" height="10.06" fill="#0f437b"/>
<rect x="321.98" y="414.6" width="10.14" height="10.06" fill="#2267ac"/>
<rect x="331.82" y="414.6" width="10.14" height="10.06" fill="#4997c5"/>
<rect x="341.66" y="414.6" width="10.14" height="10.06" fill="#98c8e0"/>
<rect x="351.5" y="414.6" width="10.14" height="10.06" fill="#65a9cf"/>
<rect x="361.34" y="414.6" width="10.14" height="10.06" fill="#2e77b5"/>
<rect x="440.06" y="414.6" width="10.14" height="10.06" fill="#2267ac"/>
<rect x="449.9" y="414.6" width="10.14" height="10.06" fill="#65a9cf"/>
<rect x="459.74" y="414.6" width="19.98" height="10.06" fill="#d7e8f1"/>
<rect x="479.42" y="414.6" width="10.14" height="10.06" fill="#7eb8d7"/>
<rect x="489.26" y="414.6" width="10.14" height="10.06" fill="#3a87bd"/>
<rect x="499.1" y="414.6" width="19.98" height="10.06" fill="#2267ac"/>
<rect x="548.3" y="414.6" width="49.5" height="10.06" fill="#0f437b"/>
<rect x="233.42" y="424.36" width="10.14" height="10.06" fill="#3a87bd"/>
<rect x="243.26" y="424.36" width="10.14" height="10.06" fill="#7eb8d7"/>
<rect x="253.1" y="424.36" width="19.98" height="10.06" fill="#f0f4f6"/>
<rect x="272.78" y="424.36" width="10.14" height="10.06" fill="#e3edf3"/>
<rect x="282.62" y="424.36" width="10.14" height="10.06" fill="#2e77b5"/>
<rect x="292.46" y="424.36" width="29.82" height="10.06" fill="#2267ac"/>
<rect x="321.98" y="424.36" width="10.14" height="10.06" fill="#3a87bd"/>
<rect x="331.82" y="424.36" width="19.98" height="10.06" fill="#c5dfec"/>
<rect x="351.5" y="424.36" width="10.14" height="10.06" fill="#3a87bd"/>
<rect x="361.34" y="424.36" width="10.14" height="10.06" fill="#2267ac"/>
<rect x="430.22" y="424.36" width="10.14" height="10.06" fill="#2e77b5"/>
<rect x="440.06" y="424.36" width="10.14" height="10.06" fill="#4997c5"/>
<rect x="449.9" y="424.36" width="10.14" height="10.06" fill="#e3edf3"/>
<rect x="459.74" y="424.36" width="10.14" height="10.06" fill="#d7e8f1"/>
<rect x="469.58" y="424.36" width="10.14" height="10.06" fill="#98c8e0"/>
<rect x="479.42" y="424.36" width="10.14" height="10.06" fill="#3a87bd"/>
<rect x="489.26" y="424.36" width="10.14" height="10.06" fill="#2267ac"/>
<rect x="508.94" y="424.36" width="88.86" height="10.06" fill="#0f437b"/>
<rect x="243.26" y="434.12" width="10.14" height="10.06" fill="#2267ac"/>
<rect x="253.1" y="434.12" width="19.98" height="10.06" fill="#4997c5"/>
<rect x="272.78" y="434.12" width="10.14" height="10.06" fill="#3a87bd"/>
<rect x="282.62" y="434.12" width="19.98" height="10.06" fill="#2267ac"/>
<rect x="302.3" y="434.12" width="10.14" height="10.06" fill="#2e77b5"/>
<rect x="312.14" y="434.12" width="10.14" height="10.06" fill="#2267ac"/>
<rect x="321.98" y="434.12" width="10.14" height="10.06" fill="#2e77b5"/>
<rect x="331.82" y="434.12" width="10.14" height="10.06" fill="#65a9cf"/>
<rect x="341.66" y="434.12" width="10.14" height="10.06" fill="#3a87bd"/>
<rect x="351.5" y="434.12" width="10.14" height="10.06" fill="#2267ac"/>
<rect x="420.38" y="434.12" width="10.14" height="10.06" fill="#2267ac"/>
<rect x="430.22" y="434.12" width="10.14" height="10.06" fill="#3a87bd"/>
<rect x="440.06" y="434.12" width="10.14" height="10.06" fill="#98c8e0"/>
<rect x="449.9" y="434.12" width="10.14" height="10.06" fill="#d7e8f1"/>
<rect x="459.74" y="434.12" width="10.14" height="10.06" fill="#4997c5"/>
<rect x="469.58" y="434.12" width="10.14" height="10.06" fill="#2e77b5"/>
<rect x="489.26" y="434.12" width="88.86" height="10.06" fill="#0f437b"/>
<rect x="302.3" y="443.88" width="10.14" height="10.06" fill="#2e77b5"/>
<rect x="331.82" y="443.88" width="19.98" height="10.06" fill="#2267ac"/>
<rect x="410.54" y="443.88" width="10.14" height="10.06" fill="#2267ac"/>
<rect x="420.38" y="443.88" width="10.14" height="10.06" fill="#2e77b5"/>
<rect x="430.22" y="443.88" width="10.14" height="10.06" fill="#65a9cf"/>
<rect x="440.06" y="443.88" width="10.14" height="10.06" fill="#4997c5"/>
<rect x="449.9" y="443.88" width="10.14" height="10.06" fill="#3a87bd"/>
<rect x="459.74" y="443.88" width="19.98" height="10.06" fill="#2267ac"/>
<rect x="479.42" y="443.88" width="69.18" height="10.06" fill="#0f437b"/>
<rect x="400.7" y="453.64" width="10.14" height="10.06" fill="#2267ac"/>
<rect x="410.54" y="453.64" width="10.14" height="10.06" fill="#2e77b5"/>
<rect x="420.38" y="453.64" width="10.14" height="10.06" fill="#3a87bd"/>
<rect x="430.22" y="453.64" width="10.14" height="10.06" fill="#4997c5"/>
<rect x="440.06" y="453.64" width="10.14" height="10.06" fill="#2e77b5"/>
<rect x="449.9" y="453.64" width="10.14" height="10.06" fill="#2267ac"/>
<rect x="459.74" y="453.64" width="69.18" height="10.06" fill="#0f437b"/>
<rect x="390.86" y="463.4" width="10.14" height="10.06" fill="#2267ac"/>
<rect x="400.7" y="463.4" width="10.14" height="10.06" fill="#2e77b5"/>
<rect x="410.54" y="463.4" width="10.14" height="10.06" fill="#3a87bd"/>
<rect x="420.38" y="463.4" width="10.14" height="10.06" fill="#2e77b5"/>
<rect x="430.22" y="463.4" width="10.14" height="10.06" fill="#2267ac"/>
<rect x="449.9" y="463.4" width="49.5" height="10.06" fill="#0f437b"/>
<rect x="587.66" y="463.4" width="10.14" height="10.06" fill="#0f437b"/>
<rect x="381.02" y="473.16" width="10.14" height="10.06" fill="#2267ac"/>
<rect x="390.86" y="473.16" width="10.14" height="10.06" fill="#2e77b5"/>
<rect x="400.7" y="473.16" width="19.98" height="10.06" fill="#3a87bd"/>
<rect x="420.38" y="473.16" width="10.14" height="10.06" fill="#2267ac"/>
<rect x="440.06" y="473.16" width="39.66" height="10.06" fill="#0f437b"/>
<rect x="577.82" y="473.16" width="19.98" height="10.06" fill="#0f437b"/>
<rect x="371.18" y="482.92" width="10.14" height="10.06" fill="#2267ac"/>
<rect x="381.02" y="482.92" width="10.14" height="10.06" fill="#3a87bd"/>
<rect x="390.86" y="482.92" width="10.14" height="10.06" fill="#4997c5"/>
<rect x="400.7" y="482.92" width="10.14" height="10.06" fill="#3a87bd"/>
<rect x="410.54" y="482.92" width="10.14" height="10.06" fill="#2e77b5"/>
<rect x="577.82" y="482.92" width="19.98" height="10.06" fill="#0f437b"/>
</g>
<g stroke="#000" stroke-width="1.9" stroke-dasharray="9.5,4.5" fill="none" opacity="0.3">
<line x1="122.1" y1="69" x2="122.1" y2="488"/>
<line x1="185.4" y1="69" x2="185.4" y2="488"/>
<line x1="248.7" y1="69" x2="248.7" y2="488"/>
<line x1="312" y1="69" x2="312" y2="488"/>
<line x1="375.3" y1="69" x2="375.3" y2="488"/>
<line x1="438.6" y1="69" x2="438.6" y2="488"/>
<line x1="501.9" y1="69" x2="501.9" y2="488"/>
<line x1="565.2" y1="69" x2="565.2" y2="488"/>
<line x1="110.5" y1="100" x2="592.5" y2="100"/>
<line x1="110.5" y1="162.5" x2="592.5" y2="162.5"/>
<line x1="110.5" y1="225" x2="592.5" y2="225"/>
<line x1="110.5" y1="287.5" x2="592.5" y2="287.5"/>
<line x1="110.5" y1="350" x2="592.5" y2="350"/>
<line x1="110.5" y1="412.5" x2="592.5" y2="412.5"/>
<line x1="110.5" y1="475" x2="592.5" y2="475"/>
</g>
<rect x="110.5" y="69" width="482" height="419" fill="none" stroke="#000" stroke-width="2.2"/>
<text class="t" x="93" y="108.5" text-anchor="end">2.6°N</text>
<text class="t" x="93" y="171" text-anchor="end">2.5°N</text>
<text class="t" x="93" y="233.5" text-anchor="end">2.4°N</text>
<text class="t" x="93" y="296" text-anchor="end">2.3°N</text>
<text class="t" x="93" y="358.5" text-anchor="end">2.2°N</text>
<text class="t" x="93" y="421" text-anchor="end">2.1°N</text>
<text class="t" x="93" y="483.5" text-anchor="end">2°N</text>
<text class="t" x="123.5" y="529" text-anchor="middle">72.8°E</text>
<text class="t" x="248" y="529" text-anchor="middle">73°E</text>
<text class="t" x="373.5" y="529" text-anchor="middle">73.2°E</text>
<text class="t" x="500" y="529" text-anchor="middle">73.4°E</text>
<g shape-rendering="crispEdges">
<rect x="622.5" y="478.66" width="22" height="14.74" fill="#053061"/>
<rect x="622.5" y="464.32" width="22" height="14.74" fill="#0f437b"/>
<rect x="622.5" y="449.98" width="22" height="14.74" fill="#195696"/>
<rect x="622.5" y="435.64" width="22" height="14.74" fill="#2267ac"/>
<rect x="622.5" y="421.3" width="22" height="14.74" fill="#2e77b5"/>
<rect x="622.5" y="406.96" width="22" height="14.74" fill="#3a87bd"/>
<rect x="622.5" y="392.62" width="22" height="14.74" fill="#4997c5"/>
<rect x="622.5" y="378.28" width="22" height="14.74" fill="#65a9cf"/>
<rect x="622.5" y="363.94" width="22" height="14.74" fill="#7eb8d7"/>
<rect x="622.5" y="349.6" width="22" height="14.74" fill="#98c8e0"/>
<rect x="622.5" y="335.26" width="22" height="14.74" fill="#aed3e6"/>
<rect x="622.5" y="320.92" width="22" height="14.74" fill="#c5dfec"/>
<rect x="622.5" y="306.58" width="22" height="14.74" fill="#d7e8f1"/>
<rect x="622.5" y="292.24" width="22" height="14.74" fill="#e3edf3"/>
<rect x="622.5" y="277.9" width="22" height="14.74" fill="#f0f4f6"/>
<rect x="622.5" y="263.56" width="22" height="14.74" fill="#f8f2ef"/>
<rect x="622.5" y="249.22" width="22" height="14.74" fill="#fae8de"/>
<rect x="622.5" y="234.88" width="22" height="14.74" fill="#fcdfcf"/>
<rect x="622.5" y="220.54" width="22" height="14.74" fill="#fbd0b9"/>
<rect x="622.5" y="206.2" width="22" height="14.74" fill="#f8bda1"/>
<rect x="622.5" y="191.86" width="22" height="14.74" fill="#f5aa89"/>
<rect x="622.5" y="177.52" width="22" height="14.74" fill="#ec9374"/>
<rect x="622.5" y="163.18" width="22" height="14.74" fill="#e37e64"/>
<rect x="622.5" y="148.84" width="22" height="14.74" fill="#d86551"/>
<rect x="622.5" y="134.5" width="22" height="14.74" fill="#cc4c44"/>
<rect x="622.5" y="120.16" width="22" height="14.74" fill="#bf3338"/>
<rect x="622.5" y="105.82" width="22" height="14.74" fill="#b3192c"/>
<rect x="622.5" y="91.48" width="22" height="14.74" fill="#9c1127"/>
<rect x="622.5" y="77.14" width="22" height="14.74" fill="#810823"/>
<rect x="622.5" y="62.8" width="22" height="14.74" fill="#67001f"/>
</g>
<rect x="622.5" y="62.8" width="22" height="430.2" fill="none" stroke="#000" stroke-width="2.2"/>
<line x1="645" y1="71" x2="656" y2="71" stroke="#000" stroke-width="2"/>
<text class="t" x="666.5" y="82.8" style="font-size:32.3px">200</text>
<line x1="645" y1="168.5" x2="656" y2="168.5" stroke="#000" stroke-width="2"/>
<text class="t" x="666.5" y="180.3" style="font-size:32.3px">150</text>
<line x1="645" y1="266" x2="656" y2="266" stroke="#000" stroke-width="2"/>
<text class="t" x="666.5" y="277.8" style="font-size:32.3px">100</text>
<line x1="645" y1="363.5" x2="656" y2="363.5" stroke="#000" stroke-width="2"/>
<text class="t" x="666.5" y="375.3" style="font-size:32.3px">50</text>
<line x1="645" y1="461" x2="656" y2="461" stroke="#000" stroke-width="2"/>
<text class="t" x="666.5" y="472.8" style="font-size:32.3px">0</text>
<text class="t" x="616" y="44" style="font-size:36px">m</text>
<text class="lab" x="106" y="46">(A)</text>
<clipPath id="cb"><rect x="794" y="66.4" width="488" height="425"/></clipPath>
<g clip-path="url(#cb)" shape-rendering="crispEdges">
<rect x="794" y="66.4" width="488" height="425" fill="#67001f"/>
<rect x="788.5" y="61.4" width="20.2" height="10.17" fill="#3a87bd"/>
<rect x="808.4" y="61.4" width="60" height="10.17" fill="#2e77b5"/>
<rect x="868.1" y="61.4" width="10.25" height="10.17" fill="#3a87bd"/>
<rect x="878.05" y="61.4" width="10.25" height="10.17" fill="#4997c5"/>
<rect x="888" y="61.4" width="10.25" height="10.17" fill="#65a9cf"/>
<rect x="897.95" y="61.4" width="10.25" height="10.17" fill="#7eb8d7"/>
<rect x="907.9" y="61.4" width="10.25" height="10.17" fill="#98c8e0"/>
<rect x="917.85" y="61.4" width="10.25" height="10.17" fill="#c5dfec"/>
<rect x="927.8" y="61.4" width="10.25" height="10.17" fill="#d7e8f1"/>
<rect x="937.75" y="61.4" width="69.95" height="10.17" fill="#e3edf3"/>
<rect x="1007.4" y="61.4" width="30.15" height="10.17" fill="#f0f4f6"/>
<rect x="1037.25" y="61.4" width="10.25" height="10.17" fill="#f8f2ef"/>
<rect x="1047.2" y="61.4" width="20.2" height="10.17" fill="#fae8de"/>
<rect x="1067.1" y="61.4" width="10.25" height="10.17" fill="#fcdfcf"/>
<rect x="1077.05" y="61.4" width="20.2" height="10.17" fill="#fbd0b9"/>
<rect x="1096.95" y="61.4" width="40.1" height="10.17" fill="#f8bda1"/>
<rect x="1136.75" y="61.4" width="10.25" height="10.17" fill="#fbd0b9"/>
<rect x="1146.7" y="61.4" width="20.2" height="10.17" fill="#fcdfcf"/>
<rect x="1166.6" y="61.4" width="20.2" height="10.17" fill="#fae8de"/>
<rect x="1186.5" y="61.4" width="10.25" height="10.17" fill="#f8f2ef"/>
<rect x="1196.45" y="61.4" width="10.25" height="10.17" fill="#fae8de"/>
<rect x="1206.4" y="61.4" width="20.2" height="10.17" fill="#fcdfcf"/>
<rect x="1226.3" y="61.4" width="10.25" height="10.17" fill="#fbd0b9"/>
<rect x="1236.25" y="61.4" width="10.25" height="10.17" fill="#f8bda1"/>
<rect x="1246.2" y="61.4" width="10.25" height="10.17" fill="#f5aa89"/>
<rect x="1256.15" y="61.4" width="10.25" height="10.17" fill="#d86551"/>
<rect x="1266.1" y="61.4" width="10.25" height="10.17" fill="#bf3338"/>
<rect x="1276.05" y="61.4" width="10.25" height="10.17" fill="#b3192c"/>
<rect x="788.5" y="71.27" width="30.15" height="10.17" fill="#3a87bd"/>
<rect x="818.35" y="71.27" width="40.1" height="10.17" fill="#2e77b5"/>
<rect x="858.15" y="71.27" width="20.2" height="10.17" fill="#3a87bd"/>
<rect x="878.05" y="71.27" width="10.25" height="10.17" fill="#4997c5"/>
<rect x="888" y="71.27" width="10.25" height="10.17" fill="#65a9cf"/>
<rect x="897.95" y="71.27" width="10.25" height="10.17" fill="#7eb8d7"/>
<rect x="907.9" y="71.27" width="10.25" height="10.17" fill="#aed3e6"/>
<rect x="917.85" y="71.27" width="10.25" height="10.17" fill="#c5dfec"/>
<rect x="927.8" y="71.27" width="20.2" height="10.17" fill="#d7e8f1"/>
<rect x="947.7" y="71.27" width="60" height="10.17" fill="#e3edf3"/>
<rect x="1007.4" y="71.27" width="30.15" height="10.17" fill="#f0f4f6"/>
<rect x="1037.25" y="71.27" width="10.25" height="10.17" fill="#f8f2ef"/>
<rect x="1047.2" y="71.27" width="10.25" height="10.17" fill="#fae8de"/>
<rect x="1057.15" y="71.27" width="20.2" height="10.17" fill="#fcdfcf"/>
<rect x="1077.05" y="71.27" width="10.25" height="10.17" fill="#fbd0b9"/>
<rect x="1087" y="71.27" width="10.25" height="10.17" fill="#f8bda1"/>
<rect x="1096.95" y="71.27" width="20.2" height="10.17" fill="#f5aa89"/>
<rect x="1116.85" y="71.27" width="30.15" height="10.17" fill="#f8bda1"/>
<rect x="1146.7" y="71.27" width="10.25" height="10.17" fill="#fbd0b9"/>
<rect x="1156.65" y="71.27" width="10.25" height="10.17" fill="#fcdfcf"/>
<rect x="1166.6" y="71.27" width="40.1" height="10.17" fill="#fae8de"/>
<rect x="1206.4" y="71.27" width="20.2" height="10.17" fill="#fcdfcf"/>
<rect x="1226.3" y="71.27" width="10.25" height="10.17" fill="#fbd0b9"/>
<rect x="1236.25" y="71.27" width="10.25" height="10.17" fill="#f8bda1"/>
<rect x="1246.2" y="71.27" width="10.25" height="10.17" fill="#ec9374"/>
<rect x="1256.15" y="71.27" width="10.25" height="10.17" fill="#d86551"/>
<rect x="1266.1" y="71.27" width="10.25" height="10.17" fill="#bf3338"/>
<rect x="1276.05" y="71.27" width="10.25" height="10.17" fill="#b3192c"/>
<rect x="788.5" y="81.14" width="10.25" height="10.17" fill="#4997c5"/>
<rect x="798.45" y="81.14" width="79.9" height="10.17" fill="#3a87bd"/>
<rect x="878.05" y="81.14" width="10.25" height="10.17" fill="#4997c5"/>
<rect x="888" y="81.14" width="10.25" height="10.17" fill="#65a9cf"/>
<rect x="897.95" y="81.14" width="10.25" height="10.17" fill="#7eb8d7"/>
<rect x="907.9" y="81.14" width="10.25" height="10.17" fill="#98c8e0"/>
<rect x="917.85" y="81.14" width="10.25" height="10.17" fill="#aed3e6"/>
<rect x="927.8" y="81.14" width="10.25" height="10.17" fill="#c5dfec"/>
<rect x="937.75" y="81.14" width="30.15" height="10.17" fill="#d7e8f1"/>
<rect x="967.6" y="81.14" width="50.05" height="10.17" fill="#e3edf3"/>
<rect x="1017.35" y="81.14" width="20.2" height="10.17" fill="#f0f4f6"/>
<rect x="1037.25" y="81.14" width="10.25" height="10.17" fill="#f8f2ef"/>
<rect x="1047.2" y="81.14" width="10.25" height="10.17" fill="#fae8de"/>
<rect x="1057.15" y="81.14" width="20.2" height="10.17" fill="#fcdfcf"/>
<rect x="1077.05" y="81.14" width="10.25" height="10.17" fill="#fbd0b9"/>
<rect x="1087" y="81.14" width="10.25" height="10.17" fill="#f8bda1"/>
<rect x="1096.95" y="81.14" width="40.1" height="10.17" fill="#f5aa89"/>
<rect x="1136.75" y="81.14" width="10.25" height="10.17" fill="#f8bda1"/>
<rect x="1146.7" y="81.14" width="20.2" height="10.17" fill="#fbd0b9"/>
<rect x="1166.6" y="81.14" width="20.2" height="10.17" fill="#fcdfcf"/>
<rect x="1186.5" y="81.14" width="10.25" height="10.17" fill="#fae8de"/>
<rect x="1196.45" y="81.14" width="10.25" height="10.17" fill="#fcdfcf"/>
<rect x="1206.4" y="81.14" width="20.2" height="10.17" fill="#fbd0b9"/>
<rect x="1226.3" y="81.14" width="10.25" height="10.17" fill="#f8bda1"/>
<rect x="1236.25" y="81.14" width="10.25" height="10.17" fill="#f5aa89"/>
<rect x="1246.2" y="81.14" width="10.25" height="10.17" fill="#e37e64"/>
<rect x="1256.15" y="81.14" width="10.25" height="10.17" fill="#cc4c44"/>
<rect x="1266.1" y="81.14" width="10.25" height="10.17" fill="#b3192c"/>
<rect x="1276.05" y="81.14" width="10.25" height="10.17" fill="#9c1127"/>
<rect x="788.5" y="91.01" width="20.2" height="10.17" fill="#4997c5"/>
<rect x="808.4" y="91.01" width="69.95" height="10.17" fill="#3a87bd"/>
<rect x="878.05" y="91.01" width="10.25" height="10.17" fill="#4997c5"/>
<rect x="888" y="91.01" width="10.25" height="10.17" fill="#65a9cf"/>
<rect x="897.95" y="91.01" width="10.25" height="10.17" fill="#7eb8d7"/>
<rect x="907.9" y="91.01" width="10.25" height="10.17" fill="#98c8e0"/>
<rect x="917.85" y="91.01" width="20.2" height="10.17" fill="#aed3e6"/>
<rect x="937.75" y="91.01" width="20.2" height="10.17" fill="#c5dfec"/>
<rect x="957.65" y="91.01" width="20.2" height="10.17" fill="#d7e8f1"/>
<rect x="977.55" y="91.01" width="40.1" height="10.17" fill="#e3edf3"/>
<rect x="1017.35" y="91.01" width="20.2" height="10.17" fill="#f0f4f6"/>
<rect x="1037.25" y="91.01" width="20.2" height="10.17" fill="#f8f2ef"/>
<rect x="1057.15" y="91.01" width="10.25" height="10.17" fill="#fae8de"/>
<rect x="1067.1" y="91.01" width="20.2" height="10.17" fill="#fcdfcf"/>
<rect x="1087" y="91.01" width="10.25" height="10.17" fill="#fbd0b9"/>
<rect x="1096.95" y="91.01" width="10.25" height="10.17" fill="#f8bda1"/>
<rect x="1106.9" y="91.01" width="40.1" height="10.17" fill="#f5aa89"/>
<rect x="1146.7" y="91.01" width="10.25" height="10.17" fill="#f8bda1"/>
<rect x="1156.65" y="91.01" width="10.25" height="10.17" fill="#fbd0b9"/>
<rect x="1166.6" y="91.01" width="30.15" height="10.17" fill="#fcdfcf"/>
<rect x="1196.45" y="91.01" width="20.2" height="10.17" fill="#fbd0b9"/>
<rect x="1216.35" y="91.01" width="10.25" height="10.17" fill="#f8bda1"/>
<rect x="1226.3" y="91.01" width="10.25" height="10.17" fill="#f5aa89"/>
<rect x="1236.25" y="91.01" width="10.25" height="10.17" fill="#ec9374"/>
<rect x="1246.2" y="91.01" width="10.25" height="10.17" fill="#d86551"/>
<rect x="1256.15" y="91.01" width="10.25" height="10.17" fill="#bf3338"/>
<rect x="1266.1" y="91.01" width="10.25" height="10.17" fill="#b3192c"/>
<rect x="1276.05" y="91.01" width="10.25" height="10.17" fill="#9c1127"/>
<rect x="788.5" y="100.88" width="20.2" height="10.17" fill="#4997c5"/>
<rect x="808.4" y="100.88" width="69.95" height="10.17" fill="#3a87bd"/>
<rect x="878.05" y="100.88" width="20.2" height="10.17" fill="#4997c5"/>
<rect x="897.95" y="100.88" width="10.25" height="10.17" fill="#65a9cf"/>
<rect x="907.9" y="100.88" width="10.25" height="10.17" fill="#7eb8d7"/>
<rect x="917.85" y="100.88" width="20.2" height="10.17" fill="#98c8e0"/>
<rect x="937.75" y="100.88" width="20.2" height="10.17" fill="#aed3e6"/>
<rect x="957.65" y="100.88" width="50.05" height="10.17" fill="#d7e8f1"/>
<rect x="1007.4" y="100.88" width="10.25" height="10.17" fill="#e3edf3"/>
<rect x="1017.35" y="100.88" width="10.25" height="10.17" fill="#f0f4f6"/>
<rect x="1027.3" y="100.88" width="10.25" height="10.17" fill="#e3edf3"/>
<rect x="1037.25" y="100.88" width="10.25" height="10.17" fill="#f0f4f6"/>
<rect x="1047.2" y="100.88" width="10.25" height="10.17" fill="#f8f2ef"/>
<rect x="1057.15" y="100.88" width="20.2" height="10.17" fill="#fae8de"/>
<rect x="1077.05" y="100.88" width="10.25" height="10.17" fill="#fcdfcf"/>
<rect x="1087" y="100.88" width="10.25" height="10.17" fill="#fbd0b9"/>
<rect x="1096.95" y="100.88" width="10.25" height="10.17" fill="#f8bda1"/>
<rect x="1106.9" y="100.88" width="20.2" height="10.17" fill="#f5aa89"/>
<rect x="1126.8" y="100.88" width="10.25" height="10.17" fill="#ec9374"/>
<rect x="1136.75" y="100.88" width="20.2" height="10.17" fill="#f5aa89"/>
<rect x="1156.65" y="100.88" width="20.2" height="10.17" fill="#f8bda1"/>
<rect x="1176.55" y="100.88" width="20.2" height="10.17" fill="#fbd0b9"/>
<rect x="1196.45" y="100.88" width="20.2" height="10.17" fill="#f8bda1"/>
<rect x="1216.35" y="100.88" width="10.25" height="10.17" fill="#f5aa89"/>
<rect x="1226.3" y="100.88" width="10.25" height="10.17" fill="#ec9374"/>
<rect x="1236.25" y="100.88" width="10.25" height="10.17" fill="#e37e64"/>
<rect x="1246.2" y="100.88" width="10.25" height="10.17" fill="#d86551"/>
<rect x="1256.15" y="100.88" width="10.25" height="10.17" fill="#bf3338"/>
<rect x="1266.1" y="100.88" width="10.25" height="10.17" fill="#9c1127"/>
<rect x="1276.05" y="100.88" width="10.25" height="10.17" fill="#810823"/>
<rect x="788.5" y="110.75" width="60" height="10.17" fill="#3a87bd"/>
<rect x="848.2" y="110.75" width="10.25" height="10.17" fill="#2e77b5"/>
<rect x="858.15" y="110.75" width="20.2" height="10.17" fill="#3a87bd"/>
<rect x="878.05" y="110.75" width="20.2" height="10.17" fill="#4997c5"/>
<rect x="897.95" y="110.75" width="30.15" height="10.17" fill="#65a9cf"/>
<rect x="927.8" y="110.75" width="10.25" height="10.17" fill="#7eb8d7"/>
<rect x="937.75" y="110.75" width="10.25" height="10.17" fill="#98c8e0"/>
<rect x="947.7" y="110.75" width="10.25" height="10.17" fill="#aed3e6"/>
<rect x="957.65" y="110.75" width="20.2" height="10.17" fill="#c5dfec"/>
<rect x="977.55" y="110.75" width="40.1" height="10.17" fill="#d7e8f1"/>
<rect x="1017.35" y="110.75" width="30.15" height="10.17" fill="#e3edf3"/>
<rect x="1047.2" y="110.75" width="10.25" height="10.17" fill="#f0f4f6"/>
<rect x="1057.15" y="110.75" width="10.25" height="10.17" fill="#f8f2ef"/>
<rect x="1067.1" y="110.75" width="20.2" height="10.17" fill="#fae8de"/>
<rect x="1087" y="110.75" width="10.25" height="10.17" fill="#fcdfcf"/>
<rect x="1096.95" y="110.75" width="10.25" height="10.17" fill="#f8bda1"/>
<rect x="1106.9" y="110.75" width="20.2" height="10.17" fill="#f5aa89"/>
<rect x="1126.8" y="110.75" width="30.15" height="10.17" fill="#ec9374"/>
<rect x="1156.65" y="110.75" width="10.25" height="10.17" fill="#f5aa89"/>
<rect x="1166.6" y="110.75" width="20.2" height="10.17" fill="#f8bda1"/>
<rect x="1186.5" y="110.75" width="10.25" height="10.17" fill="#fbd0b9"/>
<rect x="1196.45" y="110.75" width="10.25" height="10.17" fill="#f8bda1"/>
<rect x="1206.4" y="110.75" width="10.25" height="10.17" fill="#f5aa89"/>
<rect x="1216.35" y="110.75" width="10.25" height="10.17" fill="#ec9374"/>
<rect x="1226.3" y="110.75" width="10.25" height="10.17" fill="#e37e64"/>
<rect x="1236.25" y="110.75" width="10.25" height="10.17" fill="#d86551"/>
<rect x="1246.2" y="110.75" width="10.25" height="10.17" fill="#cc4c44"/>
<rect x="1256.15" y="110.75" width="10.25" height="10.17" fill="#b3192c"/>
<rect x="1266.1" y="110.75" width="10.25" height="10.17" fill="#9c1127"/>
<rect x="1276.05" y="110.75" width="10.25" height="10.17" fill="#810823"/>
<rect x="788.5" y="120.62" width="40.1" height="10.17" fill="#3a87bd"/>
<rect x="828.3" y="120.62" width="40.1" height="10.17" fill="#2e77b5"/>
<rect x="868.1" y="120.62" width="20.2" height="10.17" fill="#3a87bd"/>
<rect x="888" y="120.62" width="20.2" height="10.17" fill="#65a9cf"/>
<rect x="907.9" y="120.62" width="20.2" height="10.17" fill="#7eb8d7"/>
<rect x="927.8" y="120.62" width="10.25" height="10.17" fill="#98c8e0"/>
<rect x="937.75" y="120.62" width="30.15" height="10.17" fill="#aed3e6"/>
<rect x="967.6" y="120.62" width="50.05" height="10.17" fill="#c5dfec"/>
<rect x="1017.35" y="120.62" width="30.15" height="10.17" fill="#d7e8f1"/>
<rect x="1047.2" y="120.62" width="30.15" height="10.17" fill="#e3edf3"/>
<rect x="1077.05" y="120.62" width="10.25" height="10.17" fill="#f8f2ef"/>
<rect x="1087" y="120.62" width="10.25" height="10.17" fill="#fae8de"/>
<rect x="1096.95" y="120.62" width="10.25" height="10.17" fill="#fbd0b9"/>
<rect x="1106.9" y="120.62" width="10.25" height="10.17" fill="#f8bda1"/>
<rect x="1116.85" y="120.62" width="20.2" height="10.17" fill="#f5aa89"/>
<rect x="1136.75" y="120.62" width="30.15" height="10.17" fill="#ec9374"/>
<rect x="1166.6" y="120.62" width="10.25" height="10.17" fill="#f5aa89"/>
<rect x="1176.55" y="120.62" width="10.25" height="10.17" fill="#f8bda1"/>
<rect x="1186.5" y="120.62" width="20.2" height="10.17" fill="#f5aa89"/>
<rect x="1206.4" y="120.62" width="10.25" height="10.17" fill="#ec9374"/>
<rect x="1216.35" y="120.62" width="10.25" height="10.17" fill="#e37e64"/>
<rect x="1226.3" y="120.62" width="10.25" height="10.17" fill="#d86551"/>
<rect x="1236.25" y="120.62" width="10.25" height="10.17" fill="#cc4c44"/>
<rect x="1246.2" y="120.62" width="10.25" height="10.17" fill="#bf3338"/>
<rect x="1256.15" y="120.62" width="10.25" height="10.17" fill="#b3192c"/>
<rect x="1266.1" y="120.62" width="10.25" height="10.17" fill="#9c1127"/>
<rect x="1276.05" y="120.62" width="10.25" height="10.17" fill="#810823"/>
<rect x="788.5" y="130.49" width="40.1" height="10.17" fill="#3a87bd"/>
<rect x="828.3" y="130.49" width="20.2" height="10.17" fill="#2e77b5"/>
<rect x="848.2" y="130.49" width="20.2" height="10.17" fill="#2267ac"/>
<rect x="868.1" y="130.49" width="10.25" height="10.17" fill="#2e77b5"/>
<rect x="878.05" y="130.49" width="10.25" height="10.17" fill="#3a87bd"/>
<rect x="888" y="130.49" width="20.2" height="10.17" fill="#65a9cf"/>
<rect x="907.9" y="130.49" width="10.25" height="10.17" fill="#7eb8d7"/>
<rect x="917.85" y="130.49" width="10.25" height="10.17" fill="#98c8e0"/>
<rect x="927.8" y="130.49" width="10.25" height="10.17" fill="#c5dfec"/>
<rect x="937.75" y="130.49" width="10.25" height="10.17" fill="#d7e8f1"/>
<rect x="947.7" y="130.49" width="50.05" height="10.17" fill="#f0f4f6"/>
<rect x="997.45" y="130.49" width="89.85" height="10.17" fill="#f8f2ef"/>
<rect x="1087" y="130.49" width="10.25" height="10.17" fill="#fae8de"/>
<rect x="1096.95" y="130.49" width="10.25" height="10.17" fill="#fcdfcf"/>
<rect x="1106.9" y="130.49" width="10.25" height="10.17" fill="#fbd0b9"/>
<rect x="1116.85" y="130.49" width="10.25" height="10.17" fill="#f8bda1"/>
<rect x="1126.8" y="130.49" width="10.25" height="10.17" fill="#f5aa89"/>
<rect x="1136.75" y="130.49" width="10.25" height="10.17" fill="#ec9374"/>
<rect x="1146.7" y="130.49" width="10.25" height="10.17" fill="#e37e64"/>
<rect x="1156.65" y="130.49" width="50.05" height="10.17" fill="#ec9374"/>
<rect x="1206.4" y="130.49" width="10.25" height="10.17" fill="#e37e64"/>
<rect x="1216.35" y="130.49" width="10.25" height="10.17" fill="#d86551"/>
<rect x="1226.3" y="130.49" width="10.25" height="10.17" fill="#cc4c44"/>
<rect x="1236.25" y="130.49" width="10.25" height="10.17" fill="#bf3338"/>
<rect x="1246.2" y="130.49" width="10.25" height="10.17" fill="#b3192c"/>
<rect x="1256.15" y="130.49" width="10.25" height="10.17" fill="#9c1127"/>
<rect x="1266.1" y="130.49" width="20.2" height="10.17" fill="#810823"/>
<rect x="788.5" y="140.36" width="50.05" height="10.17" fill="#2e77b5"/>
<rect x="838.25" y="140.36" width="20.2" height="10.17" fill="#2267ac"/>
<rect x="858.15" y="140.36" width="10.25" height="10.17" fill="#195696"/>
<rect x="868.1" y="140.36" width="10.25" height="10.17" fill="#2267ac"/>
<rect x="878.05" y="140.36" width="10.25" height="10.17" fill="#2e77b5"/>
<rect x="888" y="140.36" width="10.25" height="10.17" fill="#3a87bd"/>
<rect x="897.95" y="140.36" width="10.25" height="10.17" fill="#4997c5"/>
<rect x="907.9" y="140.36" width="10.25" height="10.17" fill="#65a9cf"/>
<rect x="917.85" y="140.36" width="10.25" height="10.17" fill="#7eb8d7"/>
<rect x="927.8" y="140.36" width="10.25" height="10.17" fill="#4997c5"/>
<rect x="937.75" y="140.36" width="10.25" height="10.17" fill="#98c8e0"/>
<rect x="947.7" y="140.36" width="119.7" height="10.17" fill="#ffffff"/>
<rect x="1067.1" y="140.36" width="10.25" height="10.17" fill="#e3edf3"/>
<rect x="1077.05" y="140.36" width="10.25" height="10.17" fill="#f0f4f6"/>
<rect x="1087" y="140.36" width="10.25" height="10.17" fill="#f8f2ef"/>
<rect x="1096.95" y="140.36" width="10.25" height="10.17" fill="#fae8de"/>
<rect x="1106.9" y="140.36" width="10.25" height="10.17" fill="#fcdfcf"/>
<rect x="1116.85" y="140.36" width="20.2" height="10.17" fill="#fbd0b9"/>
<rect x="1136.75" y="140.36" width="10.25" height="10.17" fill="#f8bda1"/>
<rect x="1146.7" y="140.36" width="10.25" height="10.17" fill="#ec9374"/>
<rect x="1156.65" y="140.36" width="20.2" height="10.17" fill="#e37e64"/>
<rect x="1176.55" y="140.36" width="10.25" height="10.17" fill="#ec9374"/>
<rect x="1186.5" y="140.36" width="20.2" height="10.17" fill="#e37e64"/>
<rect x="1206.4" y="140.36" width="10.25" height="10.17" fill="#d86551"/>
<rect x="1216.35" y="140.36" width="10.25" height="10.17" fill="#cc4c44"/>
<rect x="1226.3" y="140.36" width="10.25" height="10.17" fill="#bf3338"/>
<rect x="1236.25" y="140.36" width="10.25" height="10.17" fill="#b3192c"/>
<rect x="1246.2" y="140.36" width="10.25" height="10.17" fill="#9c1127"/>
<rect x="1256.15" y="140.36" width="20.2" height="10.17" fill="#810823"/>
<rect x="788.5" y="150.23" width="20.2" height="10.17" fill="#2e77b5"/>
<rect x="808.4" y="150.23" width="40.1" height="10.17" fill="#2267ac"/>
<rect x="848.2" y="150.23" width="10.25" height="10.17" fill="#195696"/>
<rect x="858.15" y="150.23" width="10.25" height="10.17" fill="#0f437b"/>
<rect x="868.1" y="150.23" width="20.2" height="10.17" fill="#2267ac"/>
<rect x="888" y="150.23" width="10.25" height="10.17" fill="#2e77b5"/>
<rect x="897.95" y="150.23" width="10.25" height="10.17" fill="#3a87bd"/>
<rect x="907.9" y="150.23" width="20.2" height="10.17" fill="#4997c5"/>
<rect x="927.8" y="150.23" width="20.2" height="10.17" fill="#3a87bd"/>
<rect x="947.7" y="150.23" width="119.7" height="10.17" fill="#ffffff"/>
<rect x="1067.1" y="150.23" width="10.25" height="10.17" fill="#e3edf3"/>
<rect x="1077.05" y="150.23" width="10.25" height="10.17" fill="#f0f4f6"/>
<rect x="1087" y="150.23" width="10.25" height="10.17" fill="#f8bda1"/>
<rect x="1096.95" y="150.23" width="30.15" height="10.17" fill="#f5aa89"/>
<rect x="1126.8" y="150.23" width="20.2" height="10.17" fill="#ec9374"/>
<rect x="1146.7" y="150.23" width="20.2" height="10.17" fill="#d86551"/>
<rect x="1166.6" y="150.23" width="30.15" height="10.17" fill="#e37e64"/>
<rect x="1196.45" y="150.23" width="10.25" height="10.17" fill="#d86551"/>
<rect x="1206.4" y="150.23" width="20.2" height="10.17" fill="#cc4c44"/>
<rect x="1226.3" y="150.23" width="10.25" height="10.17" fill="#bf3338"/>
<rect x="1236.25" y="150.23" width="10.25" height="10.17" fill="#b3192c"/>
<rect x="1246.2" y="150.23" width="10.25" height="10.17" fill="#9c1127"/>
<rect x="1256.15" y="150.23" width="10.25" height="10.17" fill="#810823"/>
<rect x="788.5" y="160.1" width="30.15" height="10.17" fill="#2267ac"/>
<rect x="818.35" y="160.1" width="30.15" height="10.17" fill="#195696"/>
<rect x="848.2" y="160.1" width="20.2" height="10.17" fill="#0f437b"/>
<rect x="868.1" y="160.1" width="10.25" height="10.17" fill="#195696"/>
<rect x="878.05" y="160.1" width="10.25" height="10.17" fill="#2267ac"/>
<rect x="888" y="160.1" width="10.25" height="10.17" fill="#2e77b5"/>
<rect x="897.95" y="160.1" width="40.1" height="10.17" fill="#3a87bd"/>
<rect x="937.75" y="160.1" width="10.25" height="10.17" fill="#2e77b5"/>
<rect x="947.7" y="160.1" width="10.25" height="10.17" fill="#3a87bd"/>
<rect x="957.65" y="160.1" width="10.25" height="10.17" fill="#2e77b5"/>
<rect x="967.6" y="160.1" width="10.25" height="10.17" fill="#2267ac"/>
<rect x="977.55" y="160.1" width="10.25" height="10.17" fill="#2e77b5"/>
<rect x="987.5" y="160.1" width="20.2" height="10.17" fill="#3a87bd"/>
<rect x="1007.4" y="160.1" width="30.15" height="10.17" fill="#4997c5"/>
<rect x="1037.25" y="160.1" width="10.25" height="10.17" fill="#65a9cf"/>
<rect x="1047.2" y="160.1" width="10.25" height="10.17" fill="#4997c5"/>
<rect x="1057.15" y="160.1" width="20.2" height="10.17" fill="#f8f2ef"/>
<rect x="1077.05" y="160.1" width="10.25" height="10.17" fill="#fae8de"/>
<rect x="1087" y="160.1" width="60" height="10.17" fill="#ffffff"/>
<rect x="1146.7" y="160.1" width="10.25" height="10.17" fill="#d86551"/>
<rect x="1156.65" y="160.1" width="10.25" height="10.17" fill="#cc4c44"/>
<rect x="1166.6" y="160.1" width="10.25" height="10.17" fill="#d86551"/>
<rect x="1176.55" y="160.1" width="20.2" height="10.17" fill="#e37e64"/>
<rect x="1196.45" y="160.1" width="10.25" height="10.17" fill="#d86551"/>
<rect x="1206.4" y="160.1" width="10.25" height="10.17" fill="#cc4c44"/>
<rect x="1216.35" y="160.1" width="10.25" height="10.17" fill="#bf3338"/>
<rect x="1226.3" y="160.1" width="10.25" height="10.17" fill="#b3192c"/>
<rect x="1236.25" y="160.1" width="10.25" height="10.17" fill="#9c1127"/>
<rect x="1246.2" y="160.1" width="30.15" height="10.17" fill="#810823"/>
<rect x="788.5" y="169.97" width="20.2" height="10.17" fill="#2267ac"/>
<rect x="808.4" y="169.97" width="20.2" height="10.17" fill="#195696"/>
<rect x="828.3" y="169.97" width="20.2" height="10.17" fill="#0f437b"/>
<rect x="848.2" y="169.97" width="20.2" height="10.17" fill="#053061"/>
<rect x="868.1" y="169.97" width="10.25" height="10.17" fill="#195696"/>
<rect x="878.05" y="169.97" width="10.25" height="10.17" fill="#2267ac"/>
<rect x="888" y="169.97" width="10.25" height="10.17" fill="#3a87bd"/>
<rect x="897.95" y="169.97" width="10.25" height="10.17" fill="#4997c5"/>
<rect x="907.9" y="169.97" width="20.2" height="10.17" fill="#65a9cf"/>
<rect x="927.8" y="169.97" width="30.15" height="10.17" fill="#4997c5"/>
<rect x="957.65" y="169.97" width="10.25" height="10.17" fill="#3a87bd"/>
<rect x="967.6" y="169.97" width="10.25" height="10.17" fill="#4997c5"/>
<rect x="977.55" y="169.97" width="20.2" height="10.17" fill="#65a9cf"/>
<rect x="997.45" y="169.97" width="20.2" height="10.17" fill="#7eb8d7"/>
<rect x="1017.35" y="169.97" width="10.25" height="10.17" fill="#98c8e0"/>
<rect x="1027.3" y="169.97" width="10.25" height="10.17" fill="#aed3e6"/>
<rect x="1037.25" y="169.97" width="10.25" height="10.17" fill="#c5dfec"/>
<rect x="1047.2" y="169.97" width="10.25" height="10.17" fill="#d7e8f1"/>
<rect x="1057.15" y="169.97" width="10.25" height="10.17" fill="#f8f2ef"/>
<rect x="1067.1" y="169.97" width="10.25" height="10.17" fill="#fae8de"/>
<rect x="1077.05" y="169.97" width="10.25" height="10.17" fill="#fcdfcf"/>
<rect x="1087" y="169.97" width="60" height="10.17" fill="#ffffff"/>
<rect x="1146.7" y="169.97" width="10.25" height="10.17" fill="#e37e64"/>
<rect x="1156.65" y="169.97" width="10.25" height="10.17" fill="#d86551"/>
<rect x="1166.6" y="169.97" width="10.25" height="10.17" fill="#cc4c44"/>
<rect x="1176.55" y="169.97" width="20.2" height="10.17" fill="#d86551"/>
<rect x="1196.45" y="169.97" width="10.25" height="10.17" fill="#cc4c44"/>
<rect x="1206.4" y="169.97" width="10.25" height="10.17" fill="#bf3338"/>
<rect x="1216.35" y="169.97" width="10.25" height="10.17" fill="#b3192c"/>
<rect x="1226.3" y="169.97" width="20.2" height="10.17" fill="#9c1127"/>
<rect x="1246.2" y="169.97" width="20.2" height="10.17" fill="#810823"/>
<rect x="788.5" y="179.84" width="30.15" height="10.17" fill="#195696"/>
<rect x="818.35" y="179.84" width="10.25" height="10.17" fill="#0f437b"/>
<rect x="828.3" y="179.84" width="40.1" height="10.17" fill="#053061"/>
<rect x="868.1" y="179.84" width="10.25" height="10.17" fill="#0f437b"/>
<rect x="878.05" y="179.84" width="10.25" height="10.17" fill="#2267ac"/>
<rect x="888" y="179.84" width="20.2" height="10.17" fill="#ffffff"/>
<rect x="907.9" y="179.84" width="10.25" height="10.17" fill="#4997c5"/>
<rect x="917.85" y="179.84" width="30.15" height="10.17" fill="#65a9cf"/>
<rect x="947.7" y="179.84" width="20.2" height="10.17" fill="#7eb8d7"/>
<rect x="967.6" y="179.84" width="10.25" height="10.17" fill="#98c8e0"/>
<rect x="977.55" y="179.84" width="10.25" height="10.17" fill="#aed3e6"/>
<rect x="987.5" y="179.84" width="10.25" height="10.17" fill="#c5dfec"/>
<rect x="997.45" y="179.84" width="30.15" height="10.17" fill="#e3edf3"/>
<rect x="1027.3" y="179.84" width="10.25" height="10.17" fill="#f0f4f6"/>
<rect x="1037.25" y="179.84" width="10.25" height="10.17" fill="#f8f2ef"/>
<rect x="1047.2" y="179.84" width="10.25" height="10.17" fill="#fae8de"/>
<rect x="1057.15" y="179.84" width="30.15" height="10.17" fill="#fbd0b9"/>
<rect x="1087" y="179.84" width="20.2" height="10.17" fill="#fcdfcf"/>
<rect x="1106.9" y="179.84" width="10.25" height="10.17" fill="#fbd0b9"/>
<rect x="1116.85" y="179.84" width="10.25" height="10.17" fill="#f8bda1"/>
<rect x="1126.8" y="179.84" width="10.25" height="10.17" fill="#f5aa89"/>
<rect x="1136.75" y="179.84" width="10.25" height="10.17" fill="#ec9374"/>
<rect x="1146.7" y="179.84" width="20.2" height="10.17" fill="#e37e64"/>
<rect x="1166.6" y="179.84" width="10.25" height="10.17" fill="#d86551"/>
<rect x="1176.55" y="179.84" width="30.15" height="10.17" fill="#cc4c44"/>
<rect x="1206.4" y="179.84" width="10.25" height="10.17" fill="#bf3338"/>
<rect x="1216.35" y="179.84" width="20.2" height="10.17" fill="#b3192c"/>
<rect x="1236.25" y="179.84" width="10.25" height="10.17" fill="#9c1127"/>
<rect x="1246.2" y="179.84" width="10.25" height="10.17" fill="#810823"/>
<rect x="788.5" y="189.71" width="20.2" height="10.17" fill="#195696"/>
<rect x="808.4" y="189.71" width="20.2" height="10.17" fill="#0f437b"/>
<rect x="828.3" y="189.71" width="40.1" height="10.17" fill="#053061"/>
<rect x="868.1" y="189.71" width="10.25" height="10.17" fill="#0f437b"/>
<rect x="878.05" y="189.71" width="10.25" height="10.17" fill="#195696"/>
<rect x="888" y="189.71" width="20.2" height="10.17" fill="#ffffff"/>
<rect x="907.9" y="189.71" width="10.25" height="10.17" fill="#4997c5"/>
<rect x="917.85" y="189.71" width="30.15" height="10.17" fill="#65a9cf"/>
<rect x="947.7" y="189.71" width="20.2" height="10.17" fill="#7eb8d7"/>
<rect x="967.6" y="189.71" width="10.25" height="10.17" fill="#aed3e6"/>
<rect x="977.55" y="189.71" width="10.25" height="10.17" fill="#c5dfec"/>
<rect x="987.5" y="189.71" width="10.25" height="10.17" fill="#d7e8f1"/>
<rect x="997.45" y="189.71" width="20.2" height="10.17" fill="#e3edf3"/>
<rect x="1017.35" y="189.71" width="10.25" height="10.17" fill="#f0f4f6"/>
<rect x="1027.3" y="189.71" width="10.25" height="10.17" fill="#f8f2ef"/>
<rect x="1037.25" y="189.71" width="10.25" height="10.17" fill="#fae8de"/>
<rect x="1047.2" y="189.71" width="10.25" height="10.17" fill="#fcdfcf"/>
<rect x="1057.15" y="189.71" width="30.15" height="10.17" fill="#fbd0b9"/>
<rect x="1087" y="189.71" width="10.25" height="10.17" fill="#fcdfcf"/>
<rect x="1096.95" y="189.71" width="10.25" height="10.17" fill="#f8bda1"/>
<rect x="1106.9" y="189.71" width="20.2" height="10.17" fill="#f5aa89"/>
<rect x="1126.8" y="189.71" width="20.2" height="10.17" fill="#ec9374"/>
<rect x="1146.7" y="189.71" width="10.25" height="10.17" fill="#e37e64"/>
<rect x="1156.65" y="189.71" width="10.25" height="10.17" fill="#d86551"/>
<rect x="1166.6" y="189.71" width="20.2" height="10.17" fill="#cc4c44"/>
<rect x="1186.5" y="189.71" width="20.2" height="10.17" fill="#bf3338"/>
<rect x="1206.4" y="189.71" width="10.25" height="10.17" fill="#b3192c"/>
<rect x="1216.35" y="189.71" width="20.2" height="10.17" fill="#9c1127"/>
<rect x="1236.25" y="189.71" width="10.25" height="10.17" fill="#810823"/>
<rect x="788.5" y="199.58" width="10.25" height="10.17" fill="#195696"/>
<rect x="798.45" y="199.58" width="20.2" height="10.17" fill="#0f437b"/>
<rect x="818.35" y="199.58" width="50.05" height="10.17" fill="#053061"/>
<rect x="868.1" y="199.58" width="10.25" height="10.17" fill="#0f437b"/>
<rect x="878.05" y="199.58" width="10.25" height="10.17" fill="#2267ac"/>
<rect x="888" y="199.58" width="20.2" height="10.17" fill="#ffffff"/>
<rect x="907.9" y="199.58" width="20.2" height="10.17" fill="#65a9cf"/>
<rect x="927.8" y="199.58" width="40.1" height="10.17" fill="#7eb8d7"/>
<rect x="967.6" y="199.58" width="10.25" height="10.17" fill="#c5dfec"/>
<rect x="977.55" y="199.58" width="20.2" height="10.17" fill="#d7e8f1"/>
<rect x="997.45" y="199.58" width="20.2" height="10.17" fill="#e3edf3"/>
<rect x="1017.35" y="199.58" width="10.25" height="10.17" fill="#f0f4f6"/>
<rect x="1027.3" y="199.58" width="10.25" height="10.17" fill="#f8f2ef"/>
<rect x="1037.25" y="199.58" width="10.25" height="10.17" fill="#fae8de"/>
<rect x="1047.2" y="199.58" width="10.25" height="10.17" fill="#fcdfcf"/>
<rect x="1057.15" y="199.58" width="20.2" height="10.17" fill="#fbd0b9"/>
<rect x="1077.05" y="199.58" width="20.2" height="10.17" fill="#f8bda1"/>
<rect x="1096.95" y="199.58" width="10.25" height="10.17" fill="#f5aa89"/>
<rect x="1106.9" y="199.58" width="10.25" height="10.17" fill="#ec9374"/>
<rect x="1116.85" y="199.58" width="20.2" height="10.17" fill="#cc4c44"/>
<rect x="1136.75" y="199.58" width="10.25" height="10.17" fill="#d86551"/>
<rect x="1146.7" y="199.58" width="10.25" height="10.17" fill="#e37e64"/>
<rect x="1156.65" y="199.58" width="20.2" height="10.17" fill="#cc4c44"/>
<rect x="1176.55" y="199.58" width="10.25" height="10.17" fill="#bf3338"/>
<rect x="1186.5" y="199.58" width="30.15" height="10.17" fill="#b3192c"/>
<rect x="1216.35" y="199.58" width="10.25" height="10.17" fill="#9c1127"/>
<rect x="1226.3" y="199.58" width="20.2" height="10.17" fill="#810823"/>
<rect x="788.5" y="209.45" width="30.15" height="10.17" fill="#0f437b"/>
<rect x="818.35" y="209.45" width="60" height="10.17" fill="#053061"/>
<rect x="878.05" y="209.45" width="10.25" height="10.17" fill="#2267ac"/>
<rect x="888" y="209.45" width="20.2" height="10.17" fill="#ffffff"/>
<rect x="907.9" y="209.45" width="20.2" height="10.17" fill="#7eb8d7"/>
<rect x="927.8" y="209.45" width="10.25" height="10.17" fill="#98c8e0"/>
<rect x="937.75" y="209.45" width="10.25" height="10.17" fill="#7eb8d7"/>
<rect x="947.7" y="209.45" width="10.25" height="10.17" fill="#aed3e6"/>
<rect x="957.65" y="209.45" width="20.2" height="10.17" fill="#c5dfec"/>
<rect x="977.55" y="209.45" width="20.2" height="10.17" fill="#d7e8f1"/>
<rect x="997.45" y="209.45" width="30.15" height="10.17" fill="#e3edf3"/>
<rect x="1027.3" y="209.45" width="20.2" height="10.17" fill="#f0f4f6"/>
<rect x="1047.2" y="209.45" width="10.25" height="10.17" fill="#f8f2ef"/>
<rect x="1057.15" y="209.45" width="20.2" height="10.17" fill="#fae8de"/>
<rect x="1077.05" y="209.45" width="20.2" height="10.17" fill="#fcdfcf"/>
<rect x="1096.95" y="209.45" width="10.25" height="10.17" fill="#f8bda1"/>
<rect x="1106.9" y="209.45" width="10.25" height="10.17" fill="#f5aa89"/>
<rect x="1116.85" y="209.45" width="10.25" height="10.17" fill="#e37e64"/>
<rect x="1126.8" y="209.45" width="20.2" height="10.17" fill="#ffffff"/>
<rect x="1146.7" y="209.45" width="10.25" height="10.17" fill="#d86551"/>
<rect x="1156.65" y="209.45" width="10.25" height="10.17" fill="#cc4c44"/>
<rect x="1166.6" y="209.45" width="20.2" height="10.17" fill="#bf3338"/>
<rect x="1186.5" y="209.45" width="30.15" height="10.17" fill="#b3192c"/>
<rect x="1216.35" y="209.45" width="20.2" height="10.17" fill="#9c1127"/>
<rect x="788.5" y="219.32" width="40.1" height="10.17" fill="#0f437b"/>
<rect x="828.3" y="219.32" width="40.1" height="10.17" fill="#053061"/>
<rect x="868.1" y="219.32" width="10.25" height="10.17" fill="#0f437b"/>
<rect x="878.05" y="219.32" width="10.25" height="10.17" fill="#3a87bd"/>
<rect x="888" y="219.32" width="20.2" height="10.17" fill="#ffffff"/>
<rect x="907.9" y="219.32" width="10.25" height="10.17" fill="#65a9cf"/>
<rect x="917.85" y="219.32" width="10.25" height="10.17" fill="#7eb8d7"/>
<rect x="927.8" y="219.32" width="30.15" height="10.17" fill="#98c8e0"/>
<rect x="957.65" y="219.32" width="20.2" height="10.17" fill="#c5dfec"/>
<rect x="977.55" y="219.32" width="30.15" height="10.17" fill="#d7e8f1"/>
<rect x="1007.4" y="219.32" width="30.15" height="10.17" fill="#e3edf3"/>
<rect x="1037.25" y="219.32" width="20.2" height="10.17" fill="#f0f4f6"/>
<rect x="1057.15" y="219.32" width="30.15" height="10.17" fill="#f8f2ef"/>
<rect x="1087" y="219.32" width="10.25" height="10.17" fill="#fae8de"/>
<rect x="1096.95" y="219.32" width="10.25" height="10.17" fill="#fcdfcf"/>
<rect x="1106.9" y="219.32" width="10.25" height="10.17" fill="#fbd0b9"/>
<rect x="1116.85" y="219.32" width="10.25" height="10.17" fill="#ec9374"/>
<rect x="1126.8" y="219.32" width="20.2" height="10.17" fill="#ffffff"/>
<rect x="1146.7" y="219.32" width="10.25" height="10.17" fill="#d86551"/>
<rect x="1156.65" y="219.32" width="30.15" height="10.17" fill="#bf3338"/>
<rect x="1186.5" y="219.32" width="10.25" height="10.17" fill="#b3192c"/>
<rect x="1196.45" y="219.32" width="30.15" height="10.17" fill="#9c1127"/>
<rect x="1226.3" y="219.32" width="10.25" height="10.17" fill="#810823"/>
<rect x="788.5" y="229.19" width="40.1" height="10.17" fill="#0f437b"/>
<rect x="828.3" y="229.19" width="40.1" height="10.17" fill="#053061"/>
<rect x="868.1" y="229.19" width="10.25" height="10.17" fill="#0f437b"/>
<rect x="878.05" y="229.19" width="10.25" height="10.17" fill="#4997c5"/>
<rect x="888" y="229.19" width="20.2" height="10.17" fill="#ffffff"/>
<rect x="907.9" y="229.19" width="10.25" height="10.17" fill="#65a9cf"/>
<rect x="917.85" y="229.19" width="10.25" height="10.17" fill="#7eb8d7"/>
<rect x="927.8" y="229.19" width="30.15" height="10.17" fill="#98c8e0"/>
<rect x="957.65" y="229.19" width="30.15" height="10.17" fill="#aed3e6"/>
<rect x="987.5" y="229.19" width="20.2" height="10.17" fill="#d7e8f1"/>
<rect x="1007.4" y="229.19" width="20.2" height="10.17" fill="#aed3e6"/>
<rect x="1027.3" y="229.19" width="20.2" height="10.17" fill="#c5dfec"/>
<rect x="1047.2" y="229.19" width="10.25" height="10.17" fill="#d7e8f1"/>
<rect x="1057.15" y="229.19" width="10.25" height="10.17" fill="#e3edf3"/>
<rect x="1067.1" y="229.19" width="20.2" height="10.17" fill="#f0f4f6"/>
<rect x="1087" y="229.19" width="10.25" height="10.17" fill="#f8f2ef"/>
<rect x="1096.95" y="229.19" width="10.25" height="10.17" fill="#fae8de"/>
<rect x="1106.9" y="229.19" width="10.25" height="10.17" fill="#fcdfcf"/>
<rect x="1116.85" y="229.19" width="10.25" height="10.17" fill="#f5aa89"/>
<rect x="1126.8" y="229.19" width="20.2" height="10.17" fill="#ffffff"/>
<rect x="1146.7" y="229.19" width="10.25" height="10.17" fill="#d86551"/>
<rect x="1156.65" y="229.19" width="30.15" height="10.17" fill="#bf3338"/>
<rect x="1186.5" y="229.19" width="10.25" height="10.17" fill="#b3192c"/>
<rect x="1196.45" y="229.19" width="20.2" height="10.17" fill="#9c1127"/>
<rect x="1216.35" y="229.19" width="20.2" height="10.17" fill="#810823"/>
<rect x="788.5" y="239.06" width="40.1" height="10.17" fill="#0f437b"/>
<rect x="828.3" y="239.06" width="40.1" height="10.17" fill="#053061"/>
<rect x="868.1" y="239.06" width="10.25" height="10.17" fill="#195696"/>
<rect x="878.05" y="239.06" width="10.25" height="10.17" fill="#4997c5"/>
<rect x="888" y="239.06" width="20.2" height="10.17" fill="#ffffff"/>
<rect x="907.9" y="239.06" width="10.25" height="10.17" fill="#65a9cf"/>
<rect x="917.85" y="239.06" width="40.1" height="10.17" fill="#7eb8d7"/>
<rect x="957.65" y="239.06" width="10.25" height="10.17" fill="#aed3e6"/>
<rect x="967.6" y="239.06" width="20.2" height="10.17" fill="#98c8e0"/>
<rect x="987.5" y="239.06" width="20.2" height="10.17" fill="#c5dfec"/>
<rect x="1007.4" y="239.06" width="50.05" height="10.17" fill="#aed3e6"/>
<rect x="1057.15" y="239.06" width="20.2" height="10.17" fill="#d7e8f1"/>
<rect x="1077.05" y="239.06" width="10.25" height="10.17" fill="#e3edf3"/>
<rect x="1087" y="239.06" width="10.25" height="10.17" fill="#f0f4f6"/>
<rect x="1096.95" y="239.06" width="10.25" height="10.17" fill="#f8f2ef"/>
<rect x="1106.9" y="239.06" width="10.25" height="10.17" fill="#f8bda1"/>
<rect x="1116.85" y="239.06" width="10.25" height="10.17" fill="#e37e64"/>
<rect x="1126.8" y="239.06" width="10.25" height="10.17" fill="#cc4c44"/>
<rect x="1136.75" y="239.06" width="20.2" height="10.17" fill="#b3192c"/>
<rect x="1156.65" y="239.06" width="10.25" height="10.17" fill="#9c1127"/>
<rect x="1166.6" y="239.06" width="20.2" height="10.17" fill="#bf3338"/>
<rect x="1186.5" y="239.06" width="10.25" height="10.17" fill="#b3192c"/>
<rect x="1196.45" y="239.06" width="20.2" height="10.17" fill="#9c1127"/>
<rect x="1216.35" y="239.06" width="10.25" height="10.17" fill="#810823"/>
<rect x="788.5" y="248.93" width="50.05" height="10.17" fill="#0f437b"/>
<rect x="838.25" y="248.93" width="20.2" height="10.17" fill="#053061"/>
<rect x="858.15" y="248.93" width="10.25" height="10.17" fill="#0f437b"/>
<rect x="868.1" y="248.93" width="10.25" height="10.17" fill="#195696"/>
<rect x="878.05" y="248.93" width="10.25" height="10.17" fill="#4997c5"/>
<rect x="888" y="248.93" width="20.2" height="10.17" fill="#ffffff"/>
<rect x="907.9" y="248.93" width="10.25" height="10.17" fill="#65a9cf"/>
<rect x="917.85" y="248.93" width="40.1" height="10.17" fill="#7eb8d7"/>
<rect x="957.65" y="248.93" width="30.15" height="10.17" fill="#98c8e0"/>
<rect x="987.5" y="248.93" width="40.1" height="10.17" fill="#aed3e6"/>
<rect x="1027.3" y="248.93" width="60" height="10.17" fill="#98c8e0"/>
<rect x="1087" y="248.93" width="10.25" height="10.17" fill="#aed3e6"/>
<rect x="1096.95" y="248.93" width="10.25" height="10.17" fill="#e3edf3"/>
<rect x="1106.9" y="248.93" width="10.25" height="10.17" fill="#f8f2ef"/>
<rect x="1116.85" y="248.93" width="10.25" height="10.17" fill="#f5aa89"/>
<rect x="1126.8" y="248.93" width="10.25" height="10.17" fill="#f8bda1"/>
<rect x="1136.75" y="248.93" width="10.25" height="10.17" fill="#ec9374"/>
<rect x="1146.7" y="248.93" width="30.15" height="10.17" fill="#ffffff"/>
<rect x="1176.55" y="248.93" width="10.25" height="10.17" fill="#bf3338"/>
<rect x="1186.5" y="248.93" width="10.25" height="10.17" fill="#b3192c"/>
<rect x="1196.45" y="248.93" width="20.2" height="10.17" fill="#9c1127"/>
<rect x="1216.35" y="248.93" width="10.25" height="10.17" fill="#810823"/>
<rect x="788.5" y="258.8" width="10.25" height="10.17" fill="#0f437b"/>
<rect x="798.45" y="258.8" width="30.15" height="10.17" fill="#195696"/>
<rect x="828.3" y="258.8" width="30.15" height="10.17" fill="#0f437b"/>
<rect x="858.15" y="258.8" width="10.25" height="10.17" fill="#195696"/>
<rect x="868.1" y="258.8" width="10.25" height="10.17" fill="#2267ac"/>
<rect x="878.05" y="258.8" width="10.25" height="10.17" fill="#4997c5"/>
<rect x="888" y="258.8" width="20.2" height="10.17" fill="#ffffff"/>
<rect x="907.9" y="258.8" width="10.25" height="10.17" fill="#65a9cf"/>
<rect x="917.85" y="258.8" width="10.25" height="10.17" fill="#98c8e0"/>
<rect x="927.8" y="258.8" width="30.15" height="10.17" fill="#7eb8d7"/>
<rect x="957.65" y="258.8" width="20.2" height="10.17" fill="#98c8e0"/>
<rect x="977.55" y="258.8" width="50.05" height="10.17" fill="#aed3e6"/>
<rect x="1027.3" y="258.8" width="30.15" height="10.17" fill="#98c8e0"/>
<rect x="1057.15" y="258.8" width="20.2" height="10.17" fill="#7eb8d7"/>
<rect x="1077.05" y="258.8" width="20.2" height="10.17" fill="#65a9cf"/>
<rect x="1096.95" y="258.8" width="10.25" height="10.17" fill="#7eb8d7"/>
<rect x="1106.9" y="258.8" width="10.25" height="10.17" fill="#c5dfec"/>
<rect x="1116.85" y="258.8" width="10.25" height="10.17" fill="#f0f4f6"/>
<rect x="1126.8" y="258.8" width="10.25" height="10.17" fill="#f8f2ef"/>
<rect x="1136.75" y="258.8" width="10.25" height="10.17" fill="#f8bda1"/>
<rect x="1146.7" y="258.8" width="30.15" height="10.17" fill="#ffffff"/>
<rect x="1176.55" y="258.8" width="10.25" height="10.17" fill="#9c1127"/>
<rect x="1186.5" y="258.8" width="10.25" height="10.17" fill="#b3192c"/>
<rect x="1196.45" y="258.8" width="10.25" height="10.17" fill="#9c1127"/>
<rect x="1206.4" y="258.8" width="20.2" height="10.17" fill="#810823"/>
<rect x="788.5" y="268.67" width="60" height="10.17" fill="#195696"/>
<rect x="848.2" y="268.67" width="30.15" height="10.17" fill="#2267ac"/>
<rect x="878.05" y="268.67" width="10.25" height="10.17" fill="#4997c5"/>
<rect x="888" y="268.67" width="20.2" height="10.17" fill="#ffffff"/>
<rect x="907.9" y="268.67" width="10.25" height="10.17" fill="#65a9cf"/>
<rect x="917.85" y="268.67" width="40.1" height="10.17" fill="#7eb8d7"/>
<rect x="957.65" y="268.67" width="10.25" height="10.17" fill="#98c8e0"/>
<rect x="967.6" y="268.67" width="10.25" height="10.17" fill="#aed3e6"/>
<rect x="977.55" y="268.67" width="30.15" height="10.17" fill="#c5dfec"/>
<rect x="1007.4" y="268.67" width="10.25" height="10.17" fill="#aed3e6"/>
<rect x="1017.35" y="268.67" width="40.1" height="10.17" fill="#98c8e0"/>
<rect x="1057.15" y="268.67" width="20.2" height="10.17" fill="#7eb8d7"/>
<rect x="1077.05" y="268.67" width="10.25" height="10.17" fill="#65a9cf"/>
<rect x="1087" y="268.67" width="20.2" height="10.17" fill="#4997c5"/>
<rect x="1106.9" y="268.67" width="10.25" height="10.17" fill="#65a9cf"/>
<rect x="1116.85" y="268.67" width="20.2" height="10.17" fill="#c5dfec"/>
<rect x="1136.75" y="268.67" width="10.25" height="10.17" fill="#f8f2ef"/>
<rect x="1146.7" y="268.67" width="10.25" height="10.17" fill="#e3edf3"/>
<rect x="1156.65" y="268.67" width="10.25" height="10.17" fill="#f8f2ef"/>
<rect x="1166.6" y="268.67" width="10.25" height="10.17" fill="#e37e64"/>
<rect x="1176.55" y="268.67" width="10.25" height="10.17" fill="#bf3338"/>
<rect x="1186.5" y="268.67" width="10.25" height="10.17" fill="#b3192c"/>
<rect x="1196.45" y="268.67" width="10.25" height="10.17" fill="#9c1127"/>
<rect x="1206.4" y="268.67" width="20.2" height="10.17" fill="#810823"/>
<rect x="788.5" y="278.54" width="10.25" height="10.17" fill="#195696"/>
<rect x="798.45" y="278.54" width="60" height="10.17" fill="#2267ac"/>
<rect x="858.15" y="278.54" width="20.2" height="10.17" fill="#2e77b5"/>
<rect x="878.05" y="278.54" width="10.25" height="10.17" fill="#4997c5"/>
<rect x="888" y="278.54" width="20.2" height="10.17" fill="#ffffff"/>
<rect x="907.9" y="278.54" width="40.1" height="10.17" fill="#7eb8d7"/>
<rect x="947.7" y="278.54" width="10.25" height="10.17" fill="#98c8e0"/>
<rect x="957.65" y="278.54" width="50.05" height="10.17" fill="#c5dfec"/>
<rect x="1007.4" y="278.54" width="10.25" height="10.17" fill="#aed3e6"/>
<rect x="1017.35" y="278.54" width="30.15" height="10.17" fill="#98c8e0"/>
<rect x="1047.2" y="278.54" width="10.25" height="10.17" fill="#7eb8d7"/>
<rect x="1057.15" y="278.54" width="30.15" height="10.17" fill="#65a9cf"/>
<rect x="1087" y="278.54" width="20.2" height="10.17" fill="#4997c5"/>
<rect x="1106.9" y="278.54" width="10.25" height="10.17" fill="#65a9cf"/>
<rect x="1116.85" y="278.54" width="10.25" height="10.17" fill="#aed3e6"/>
<rect x="1126.8" y="278.54" width="10.25" height="10.17" fill="#d7e8f1"/>
<rect x="1136.75" y="278.54" width="10.25" height="10.17" fill="#f8f2ef"/>
<rect x="1146.7" y="278.54" width="10.25" height="10.17" fill="#e3edf3"/>
<rect x="1156.65" y="278.54" width="10.25" height="10.17" fill="#f8bda1"/>
<rect x="1166.6" y="278.54" width="10.25" height="10.17" fill="#d86551"/>
<rect x="1176.55" y="278.54" width="10.25" height="10.17" fill="#bf3338"/>
<rect x="1186.5" y="278.54" width="10.25" height="10.17" fill="#b3192c"/>
<rect x="1196.45" y="278.54" width="10.25" height="10.17" fill="#9c1127"/>
<rect x="1206.4" y="278.54" width="10.25" height="10.17" fill="#810823"/>
<rect x="788.5" y="288.41" width="69.95" height="10.17" fill="#2e77b5"/>
<rect x="858.15" y="288.41" width="20.2" height="10.17" fill="#3a87bd"/>
<rect x="878.05" y="288.41" width="20.2" height="10.17" fill="#4997c5"/>
<rect x="897.95" y="288.41" width="20.2" height="10.17" fill="#65a9cf"/>
<rect x="917.85" y="288.41" width="20.2" height="10.17" fill="#7eb8d7"/>
<rect x="937.75" y="288.41" width="20.2" height="10.17" fill="#98c8e0"/>
<rect x="957.65" y="288.41" width="40.1" height="10.17" fill="#d7e8f1"/>
<rect x="997.45" y="288.41" width="10.25" height="10.17" fill="#c5dfec"/>
<rect x="1007.4" y="288.41" width="10.25" height="10.17" fill="#aed3e6"/>
<rect x="1017.35" y="288.41" width="10.25" height="10.17" fill="#98c8e0"/>
<rect x="1027.3" y="288.41" width="10.25" height="10.17" fill="#7eb8d7"/>
<rect x="1037.25" y="288.41" width="10.25" height="10.17" fill="#65a9cf"/>
<rect x="1047.2" y="288.41" width="20.2" height="10.17" fill="#4997c5"/>
<rect x="1067.1" y="288.41" width="30.15" height="10.17" fill="#3a87bd"/>
<rect x="1096.95" y="288.41" width="10.25" height="10.17" fill="#4997c5"/>
<rect x="1106.9" y="288.41" width="30.15" height="10.17" fill="#ffffff"/>
<rect x="1136.75" y="288.41" width="10.25" height="10.17" fill="#fae8de"/>
<rect x="1146.7" y="288.41" width="10.25" height="10.17" fill="#fcdfcf"/>
<rect x="1156.65" y="288.41" width="10.25" height="10.17" fill="#f5aa89"/>
<rect x="1166.6" y="288.41" width="10.25" height="10.17" fill="#d86551"/>
<rect x="1176.55" y="288.41" width="10.25" height="10.17" fill="#bf3338"/>
<rect x="1186.5" y="288.41" width="10.25" height="10.17" fill="#9c1127"/>
<rect x="1196.45" y="288.41" width="20.2" height="10.17" fill="#810823"/>
<rect x="788.5" y="298.28" width="10.25" height="10.17" fill="#2e77b5"/>
<rect x="798.45" y="298.28" width="50.05" height="10.17" fill="#3a87bd"/>
<rect x="848.2" y="298.28" width="30.15" height="10.17" fill="#4997c5"/>
<rect x="878.05" y="298.28" width="10.25" height="10.17" fill="#7eb8d7"/>
<rect x="888" y="298.28" width="10.25" height="10.17" fill="#98c8e0"/>
<rect x="897.95" y="298.28" width="10.25" height="10.17" fill="#aed3e6"/>
<rect x="907.9" y="298.28" width="20.2" height="10.17" fill="#d7e8f1"/>
<rect x="927.8" y="298.28" width="10.25" height="10.17" fill="#c5dfec"/>
<rect x="937.75" y="298.28" width="30.15" height="10.17" fill="#d7e8f1"/>
<rect x="967.6" y="298.28" width="10.25" height="10.17" fill="#e3edf3"/>
<rect x="977.55" y="298.28" width="20.2" height="10.17" fill="#d7e8f1"/>
<rect x="997.45" y="298.28" width="20.2" height="10.17" fill="#c5dfec"/>
<rect x="1017.35" y="298.28" width="10.25" height="10.17" fill="#aed3e6"/>
<rect x="1027.3" y="298.28" width="10.25" height="10.17" fill="#7eb8d7"/>
<rect x="1037.25" y="298.28" width="10.25" height="10.17" fill="#65a9cf"/>
<rect x="1047.2" y="298.28" width="50.05" height="10.17" fill="#4997c5"/>
<rect x="1096.95" y="298.28" width="10.25" height="10.17" fill="#7eb8d7"/>
<rect x="1106.9" y="298.28" width="30.15" height="10.17" fill="#ffffff"/>
<rect x="1136.75" y="298.28" width="10.25" height="10.17" fill="#fae8de"/>
<rect x="1146.7" y="298.28" width="10.25" height="10.17" fill="#fbd0b9"/>
<rect x="1156.65" y="298.28" width="10.25" height="10.17" fill="#ec9374"/>
<rect x="1166.6" y="298.28" width="10.25" height="10.17" fill="#d86551"/>
<rect x="1176.55" y="298.28" width="10.25" height="10.17" fill="#bf3338"/>
<rect x="1186.5" y="298.28" width="10.25" height="10.17" fill="#9c1127"/>
<rect x="1196.45" y="298.28" width="10.25" height="10.17" fill="#810823"/>
<rect x="788.5" y="308.15" width="60" height="10.17" fill="#3a87bd"/>
<rect x="848.2" y="308.15" width="20.2" height="10.17" fill="#4997c5"/>
<rect x="868.1" y="308.15" width="30.15" height="10.17" fill="#65a9cf"/>
<rect x="897.95" y="308.15" width="10.25" height="10.17" fill="#aed3e6"/>
<rect x="907.9" y="308.15" width="20.2" height="10.17" fill="#ffffff"/>
<rect x="927.8" y="308.15" width="10.25" height="10.17" fill="#d7e8f1"/>
<rect x="937.75" y="308.15" width="50.05" height="10.17" fill="#e3edf3"/>
<rect x="987.5" y="308.15" width="20.2" height="10.17" fill="#d7e8f1"/>
<rect x="1007.4" y="308.15" width="10.25" height="10.17" fill="#c5dfec"/>
<rect x="1017.35" y="308.15" width="10.25" height="10.17" fill="#aed3e6"/>
<rect x="1027.3" y="308.15" width="10.25" height="10.17" fill="#7eb8d7"/>
<rect x="1037.25" y="308.15" width="40.1" height="10.17" fill="#65a9cf"/>
<rect x="1077.05" y="308.15" width="20.2" height="10.17" fill="#7eb8d7"/>
<rect x="1096.95" y="308.15" width="10.25" height="10.17" fill="#98c8e0"/>
<rect x="1106.9" y="308.15" width="10.25" height="10.17" fill="#aed3e6"/>
<rect x="1116.85" y="308.15" width="10.25" height="10.17" fill="#d7e8f1"/>
<rect x="1126.8" y="308.15" width="10.25" height="10.17" fill="#f0f4f6"/>
<rect x="1136.75" y="308.15" width="10.25" height="10.17" fill="#fcdfcf"/>
<rect x="1146.7" y="308.15" width="10.25" height="10.17" fill="#f8bda1"/>
<rect x="1156.65" y="308.15" width="10.25" height="10.17" fill="#e37e64"/>
<rect x="1166.6" y="308.15" width="10.25" height="10.17" fill="#cc4c44"/>
<rect x="1176.55" y="308.15" width="10.25" height="10.17" fill="#bf3338"/>
<rect x="1186.5" y="308.15" width="10.25" height="10.17" fill="#9c1127"/>
<rect x="1196.45" y="308.15" width="10.25" height="10.17" fill="#810823"/>
<rect x="788.5" y="318.02" width="10.25" height="10.17" fill="#3a87bd"/>
<rect x="798.45" y="318.02" width="40.1" height="10.17" fill="#4997c5"/>
<rect x="838.25" y="318.02" width="20.2" height="10.17" fill="#65a9cf"/>
<rect x="858.15" y="318.02" width="40.1" height="10.17" fill="#4997c5"/>
<rect x="897.95" y="318.02" width="10.25" height="10.17" fill="#98c8e0"/>
<rect x="907.9" y="318.02" width="20.2" height="10.17" fill="#ffffff"/>
<rect x="927.8" y="318.02" width="10.25" height="10.17" fill="#d7e8f1"/>
<rect x="937.75" y="318.02" width="30.15" height="10.17" fill="#e3edf3"/>
<rect x="967.6" y="318.02" width="10.25" height="10.17" fill="#f0f4f6"/>
<rect x="977.55" y="318.02" width="20.2" height="10.17" fill="#e3edf3"/>
<rect x="997.45" y="318.02" width="20.2" height="10.17" fill="#d7e8f1"/>
<rect x="1017.35" y="318.02" width="10.25" height="10.17" fill="#c5dfec"/>
<rect x="1027.3" y="318.02" width="10.25" height="10.17" fill="#98c8e0"/>
<rect x="1037.25" y="318.02" width="30.15" height="10.17" fill="#7eb8d7"/>
<rect x="1067.1" y="318.02" width="30.15" height="10.17" fill="#98c8e0"/>
<rect x="1096.95" y="318.02" width="10.25" height="10.17" fill="#aed3e6"/>
<rect x="1106.9" y="318.02" width="10.25" height="10.17" fill="#c5dfec"/>
<rect x="1116.85" y="318.02" width="10.25" height="10.17" fill="#f0f4f6"/>
<rect x="1126.8" y="318.02" width="10.25" height="10.17" fill="#fae8de"/>
<rect x="1136.75" y="318.02" width="10.25" height="10.17" fill="#f8bda1"/>
<rect x="1146.7" y="318.02" width="10.25" height="10.17" fill="#f5aa89"/>
<rect x="1156.65" y="318.02" width="10.25" height="10.17" fill="#e37e64"/>
<rect x="1166.6" y="318.02" width="10.25" height="10.17" fill="#cc4c44"/>
<rect x="1176.55" y="318.02" width="10.25" height="10.17" fill="#b3192c"/>
<rect x="1186.5" y="318.02" width="10.25" height="10.17" fill="#9c1127"/>
<rect x="1196.45" y="318.02" width="10.25" height="10.17" fill="#810823"/>
<rect x="788.5" y="327.89" width="10.25" height="10.17" fill="#4997c5"/>
<rect x="798.45" y="327.89" width="99.8" height="10.17" fill="#65a9cf"/>
<rect x="897.95" y="327.89" width="10.25" height="10.17" fill="#aed3e6"/>
<rect x="907.9" y="327.89" width="10.25" height="10.17" fill="#d7e8f1"/>
<rect x="917.85" y="327.89" width="20.2" height="10.17" fill="#e3edf3"/>
<rect x="937.75" y="327.89" width="10.25" height="10.17" fill="#f0f4f6"/>
<rect x="947.7" y="327.89" width="10.25" height="10.17" fill="#fae8de"/>
<rect x="957.65" y="327.89" width="20.2" height="10.17" fill="#f8f2ef"/>
<rect x="977.55" y="327.89" width="20.2" height="10.17" fill="#f0f4f6"/>
<rect x="997.45" y="327.89" width="20.2" height="10.17" fill="#e3edf3"/>
<rect x="1017.35" y="327.89" width="10.25" height="10.17" fill="#d7e8f1"/>
<rect x="1027.3" y="327.89" width="40.1" height="10.17" fill="#c5dfec"/>
<rect x="1067.1" y="327.89" width="20.2" height="10.17" fill="#d7e8f1"/>
<rect x="1087" y="327.89" width="10.25" height="10.17" fill="#e3edf3"/>
<rect x="1096.95" y="327.89" width="20.2" height="10.17" fill="#f0f4f6"/>
<rect x="1116.85" y="327.89" width="10.25" height="10.17" fill="#fae8de"/>
<rect x="1126.8" y="327.89" width="10.25" height="10.17" fill="#fbd0b9"/>
<rect x="1136.75" y="327.89" width="10.25" height="10.17" fill="#f5aa89"/>
<rect x="1146.7" y="327.89" width="10.25" height="10.17" fill="#e37e64"/>
<rect x="1156.65" y="327.89" width="10.25" height="10.17" fill="#cc4c44"/>
<rect x="1166.6" y="327.89" width="10.25" height="10.17" fill="#bf3338"/>
<rect x="1176.55" y="327.89" width="10.25" height="10.17" fill="#b3192c"/>
<rect x="1186.5" y="327.89" width="10.25" height="10.17" fill="#9c1127"/>
<rect x="1196.45" y="327.89" width="10.25" height="10.17" fill="#810823"/>
<rect x="788.5" y="337.76" width="10.25" height="10.17" fill="#4997c5"/>
<rect x="798.45" y="337.76" width="30.15" height="10.17" fill="#65a9cf"/>
<rect x="828.3" y="337.76" width="30.15" height="10.17" fill="#7eb8d7"/>
<rect x="858.15" y="337.76" width="10.25" height="10.17" fill="#65a9cf"/>
<rect x="868.1" y="337.76" width="20.2" height="10.17" fill="#7eb8d7"/>
<rect x="888" y="337.76" width="10.25" height="10.17" fill="#98c8e0"/>
<rect x="897.95" y="337.76" width="10.25" height="10.17" fill="#d7e8f1"/>
<rect x="907.9" y="337.76" width="10.25" height="10.17" fill="#e3edf3"/>
<rect x="917.85" y="337.76" width="10.25" height="10.17" fill="#f8f2ef"/>
<rect x="927.8" y="337.76" width="10.25" height="10.17" fill="#fcdfcf"/>
<rect x="937.75" y="337.76" width="20.2" height="10.17" fill="#fbd0b9"/>
<rect x="957.65" y="337.76" width="10.25" height="10.17" fill="#fcdfcf"/>
<rect x="967.6" y="337.76" width="10.25" height="10.17" fill="#fbd0b9"/>
<rect x="977.55" y="337.76" width="10.25" height="10.17" fill="#fcdfcf"/>
<rect x="987.5" y="337.76" width="20.2" height="10.17" fill="#fae8de"/>
<rect x="1007.4" y="337.76" width="10.25" height="10.17" fill="#f8f2ef"/>
<rect x="1017.35" y="337.76" width="10.25" height="10.17" fill="#f0f4f6"/>
<rect x="1027.3" y="337.76" width="10.25" height="10.17" fill="#e3edf3"/>
<rect x="1037.25" y="337.76" width="20.2" height="10.17" fill="#d7e8f1"/>
<rect x="1057.15" y="337.76" width="10.25" height="10.17" fill="#e3edf3"/>
<rect x="1067.1" y="337.76" width="30.15" height="10.17" fill="#f0f4f6"/>
<rect x="1096.95" y="337.76" width="10.25" height="10.17" fill="#f8f2ef"/>
<rect x="1106.9" y="337.76" width="10.25" height="10.17" fill="#fbd0b9"/>
<rect x="1116.85" y="337.76" width="10.25" height="10.17" fill="#f5aa89"/>
<rect x="1126.8" y="337.76" width="20.2" height="10.17" fill="#ec9374"/>
<rect x="1146.7" y="337.76" width="10.25" height="10.17" fill="#cc4c44"/>
<rect x="1156.65" y="337.76" width="10.25" height="10.17" fill="#bf3338"/>
<rect x="1166.6" y="337.76" width="20.2" height="10.17" fill="#b3192c"/>
<rect x="1186.5" y="337.76" width="10.25" height="10.17" fill="#9c1127"/>
<rect x="1196.45" y="337.76" width="10.25" height="10.17" fill="#810823"/>
<rect x="788.5" y="347.63" width="20.2" height="10.17" fill="#65a9cf"/>
<rect x="808.4" y="347.63" width="79.9" height="10.17" fill="#7eb8d7"/>
<rect x="888" y="347.63" width="10.25" height="10.17" fill="#98c8e0"/>
<rect x="897.95" y="347.63" width="10.25" height="10.17" fill="#c5dfec"/>
<rect x="907.9" y="347.63" width="10.25" height="10.17" fill="#d7e8f1"/>
<rect x="917.85" y="347.63" width="10.25" height="10.17" fill="#f0f4f6"/>
<rect x="927.8" y="347.63" width="20.2" height="10.17" fill="#ffffff"/>
<rect x="947.7" y="347.63" width="10.25" height="10.17" fill="#e37e64"/>
<rect x="957.65" y="347.63" width="10.25" height="10.17" fill="#d86551"/>
<rect x="967.6" y="347.63" width="10.25" height="10.17" fill="#810823"/>
<rect x="977.55" y="347.63" width="30.15" height="10.17" fill="#ffffff"/>
<rect x="1007.4" y="347.63" width="20.2" height="10.17" fill="#f8f2ef"/>
<rect x="1027.3" y="347.63" width="30.15" height="10.17" fill="#f0f4f6"/>
<rect x="1057.15" y="347.63" width="20.2" height="10.17" fill="#f8f2ef"/>
<rect x="1077.05" y="347.63" width="10.25" height="10.17" fill="#fae8de"/>
<rect x="1087" y="347.63" width="20.2" height="10.17" fill="#fcdfcf"/>
<rect x="1106.9" y="347.63" width="10.25" height="10.17" fill="#f8bda1"/>
<rect x="1116.85" y="347.63" width="10.25" height="10.17" fill="#e37e64"/>
<rect x="1126.8" y="347.63" width="10.25" height="10.17" fill="#d86551"/>
<rect x="1136.75" y="347.63" width="10.25" height="10.17" fill="#cc4c44"/>
<rect x="1146.7" y="347.63" width="10.25" height="10.17" fill="#bf3338"/>
<rect x="1156.65" y="347.63" width="20.2" height="10.17" fill="#b3192c"/>
<rect x="1176.55" y="347.63" width="10.25" height="10.17" fill="#9c1127"/>
<rect x="1186.5" y="347.63" width="10.25" height="10.17" fill="#810823"/>
<rect x="788.5" y="357.5" width="10.25" height="10.17" fill="#65a9cf"/>
<rect x="798.45" y="357.5" width="20.2" height="10.17" fill="#7eb8d7"/>
<rect x="818.35" y="357.5" width="10.25" height="10.17" fill="#98c8e0"/>
<rect x="828.3" y="357.5" width="89.85" height="10.17" fill="#aed3e6"/>
<rect x="917.85" y="357.5" width="10.25" height="10.17" fill="#c5dfec"/>
<rect x="927.8" y="357.5" width="79.9" height="10.17" fill="#ffffff"/>
<rect x="1007.4" y="357.5" width="40.1" height="10.17" fill="#f8f2ef"/>
<rect x="1047.2" y="357.5" width="10.25" height="10.17" fill="#fae8de"/>
<rect x="1057.15" y="357.5" width="20.2" height="10.17" fill="#fcdfcf"/>
<rect x="1077.05" y="357.5" width="10.25" height="10.17" fill="#fbd0b9"/>
<rect x="1087" y="357.5" width="10.25" height="10.17" fill="#f8bda1"/>
<rect x="1096.95" y="357.5" width="10.25" height="10.17" fill="#f5aa89"/>
<rect x="1106.9" y="357.5" width="10.25" height="10.17" fill="#ec9374"/>
<rect x="1116.85" y="357.5" width="10.25" height="10.17" fill="#d86551"/>
<rect x="1126.8" y="357.5" width="10.25" height="10.17" fill="#cc4c44"/>
<rect x="1136.75" y="357.5" width="10.25" height="10.17" fill="#bf3338"/>
<rect x="1146.7" y="357.5" width="10.25" height="10.17" fill="#b3192c"/>
<rect x="1156.65" y="357.5" width="20.2" height="10.17" fill="#9c1127"/>
<rect x="1176.55" y="357.5" width="20.2" height="10.17" fill="#810823"/>
<rect x="788.5" y="367.37" width="10.25" height="10.17" fill="#65a9cf"/>
<rect x="798.45" y="367.37" width="20.2" height="10.17" fill="#7eb8d7"/>
<rect x="818.35" y="367.37" width="20.2" height="10.17" fill="#98c8e0"/>
<rect x="838.25" y="367.37" width="69.95" height="10.17" fill="#aed3e6"/>
<rect x="907.9" y="367.37" width="20.2" height="10.17" fill="#98c8e0"/>
<rect x="927.8" y="367.37" width="20.2" height="10.17" fill="#65a9cf"/>
<rect x="947.7" y="367.37" width="10.25" height="10.17" fill="#7eb8d7"/>
<rect x="957.65" y="367.37" width="10.25" height="10.17" fill="#65a9cf"/>
<rect x="967.6" y="367.37" width="10.25" height="10.17" fill="#7eb8d7"/>
<rect x="977.55" y="367.37" width="10.25" height="10.17" fill="#98c8e0"/>
<rect x="987.5" y="367.37" width="10.25" height="10.17" fill="#d7e8f1"/>
<rect x="997.45" y="367.37" width="10.25" height="10.17" fill="#f0f4f6"/>
<rect x="1007.4" y="367.37" width="10.25" height="10.17" fill="#f8f2ef"/>
<rect x="1017.35" y="367.37" width="30.15" height="10.17" fill="#fae8de"/>
<rect x="1047.2" y="367.37" width="10.25" height="10.17" fill="#fcdfcf"/>
<rect x="1057.15" y="367.37" width="10.25" height="10.17" fill="#fbd0b9"/>
<rect x="1067.1" y="367.37" width="20.2" height="10.17" fill="#f8bda1"/>
<rect x="1087" y="367.37" width="10.25" height="10.17" fill="#f5aa89"/>
<rect x="1096.95" y="367.37" width="10.25" height="10.17" fill="#ec9374"/>
<rect x="1106.9" y="367.37" width="10.25" height="10.17" fill="#e37e64"/>
<rect x="1116.85" y="367.37" width="10.25" height="10.17" fill="#d86551"/>
<rect x="1126.8" y="367.37" width="10.25" height="10.17" fill="#bf3338"/>
<rect x="1136.75" y="367.37" width="10.25" height="10.17" fill="#b3192c"/>
<rect x="1146.7" y="367.37" width="20.2" height="10.17" fill="#9c1127"/>
<rect x="1166.6" y="367.37" width="20.2" height="10.17" fill="#810823"/>
<rect x="788.5" y="377.24" width="10.25" height="10.17" fill="#4997c5"/>
<rect x="798.45" y="377.24" width="20.2" height="10.17" fill="#65a9cf"/>
<rect x="818.35" y="377.24" width="20.2" height="10.17" fill="#7eb8d7"/>
<rect x="838.25" y="377.24" width="20.2" height="10.17" fill="#98c8e0"/>
<rect x="858.15" y="377.24" width="50.05" height="10.17" fill="#aed3e6"/>
<rect x="907.9" y="377.24" width="20.2" height="10.17" fill="#98c8e0"/>
<rect x="927.8" y="377.24" width="20.2" height="10.17" fill="#65a9cf"/>
<rect x="947.7" y="377.24" width="20.2" height="10.17" fill="#7eb8d7"/>
<rect x="967.6" y="377.24" width="10.25" height="10.17" fill="#98c8e0"/>
<rect x="977.55" y="377.24" width="10.25" height="10.17" fill="#aed3e6"/>
<rect x="987.5" y="377.24" width="10.25" height="10.17" fill="#e3edf3"/>
<rect x="997.45" y="377.24" width="10.25" height="10.17" fill="#f0f4f6"/>
<rect x="1007.4" y="377.24" width="20.2" height="10.17" fill="#f8f2ef"/>
<rect x="1027.3" y="377.24" width="20.2" height="10.17" fill="#fae8de"/>
<rect x="1047.2" y="377.24" width="10.25" height="10.17" fill="#fcdfcf"/>
<rect x="1057.15" y="377.24" width="10.25" height="10.17" fill="#fbd0b9"/>
<rect x="1067.1" y="377.24" width="10.25" height="10.17" fill="#f5aa89"/>
<rect x="1077.05" y="377.24" width="10.25" height="10.17" fill="#ec9374"/>
<rect x="1087" y="377.24" width="10.25" height="10.17" fill="#e37e64"/>
<rect x="1096.95" y="377.24" width="20.2" height="10.17" fill="#d86551"/>
<rect x="1116.85" y="377.24" width="10.25" height="10.17" fill="#cc4c44"/>
<rect x="1126.8" y="377.24" width="10.25" height="10.17" fill="#bf3338"/>
<rect x="1136.75" y="377.24" width="10.25" height="10.17" fill="#b3192c"/>
<rect x="1146.7" y="377.24" width="10.25" height="10.17" fill="#9c1127"/>
<rect x="1156.65" y="377.24" width="10.25" height="10.17" fill="#810823"/>
<rect x="1166.6" y="377.24" width="10.25" height="10.17" fill="#9c1127"/>
<rect x="788.5" y="387.11" width="20.2" height="10.17" fill="#4997c5"/>
<rect x="808.4" y="387.11" width="20.2" height="10.17" fill="#65a9cf"/>
<rect x="828.3" y="387.11" width="20.2" height="10.17" fill="#7eb8d7"/>
<rect x="848.2" y="387.11" width="30.15" height="10.17" fill="#98c8e0"/>
<rect x="878.05" y="387.11" width="30.15" height="10.17" fill="#aed3e6"/>
<rect x="907.9" y="387.11" width="40.1" height="10.17" fill="#98c8e0"/>
<rect x="947.7" y="387.11" width="10.25" height="10.17" fill="#aed3e6"/>
<rect x="957.65" y="387.11" width="10.25" height="10.17" fill="#c5dfec"/>
<rect x="967.6" y="387.11" width="20.2" height="10.17" fill="#d7e8f1"/>
<rect x="987.5" y="387.11" width="10.25" height="10.17" fill="#e3edf3"/>
<rect x="997.45" y="387.11" width="20.2" height="10.17" fill="#f0f4f6"/>
<rect x="1017.35" y="387.11" width="10.25" height="10.17" fill="#f8f2ef"/>
<rect x="1027.3" y="387.11" width="20.2" height="10.17" fill="#fae8de"/>
<rect x="1047.2" y="387.11" width="10.25" height="10.17" fill="#fcdfcf"/>
<rect x="1057.15" y="387.11" width="10.25" height="10.17" fill="#fbd0b9"/>
<rect x="1067.1" y="387.11" width="10.25" height="10.17" fill="#f8bda1"/>
<rect x="1077.05" y="387.11" width="10.25" height="10.17" fill="#ec9374"/>
<rect x="1087" y="387.11" width="10.25" height="10.17" fill="#e37e64"/>
<rect x="1096.95" y="387.11" width="10.25" height="10.17" fill="#d86551"/>
<rect x="1106.9" y="387.11" width="10.25" height="10.17" fill="#cc4c44"/>
<rect x="1116.85" y="387.11" width="20.2" height="10.17" fill="#bf3338"/>
<rect x="1136.75" y="387.11" width="10.25" height="10.17" fill="#b3192c"/>
<rect x="1146.7" y="387.11" width="20.2" height="10.17" fill="#9c1127"/>
<rect x="1166.6" y="387.11" width="10.25" height="10.17" fill="#810823"/>
<rect x="788.5" y="396.98" width="40.1" height="10.17" fill="#4997c5"/>
<rect x="828.3" y="396.98" width="20.2" height="10.17" fill="#65a9cf"/>
<rect x="848.2" y="396.98" width="30.15" height="10.17" fill="#7eb8d7"/>
<rect x="878.05" y="396.98" width="10.25" height="10.17" fill="#65a9cf"/>
<rect x="888" y="396.98" width="30.15" height="10.17" fill="#98c8e0"/>
<rect x="917.85" y="396.98" width="10.25" height="10.17" fill="#7eb8d7"/>
<rect x="927.8" y="396.98" width="20.2" height="10.17" fill="#98c8e0"/>
<rect x="947.7" y="396.98" width="10.25" height="10.17" fill="#aed3e6"/>
<rect x="957.65" y="396.98" width="10.25" height="10.17" fill="#c5dfec"/>
<rect x="967.6" y="396.98" width="20.2" height="10.17" fill="#d7e8f1"/>
<rect x="987.5" y="396.98" width="10.25" height="10.17" fill="#e3edf3"/>
<rect x="997.45" y="396.98" width="30.15" height="10.17" fill="#f0f4f6"/>
<rect x="1027.3" y="396.98" width="10.25" height="10.17" fill="#f8f2ef"/>
<rect x="1037.25" y="396.98" width="20.2" height="10.17" fill="#fae8de"/>
<rect x="1057.15" y="396.98" width="10.25" height="10.17" fill="#fcdfcf"/>
<rect x="1067.1" y="396.98" width="10.25" height="10.17" fill="#fbd0b9"/>
<rect x="1077.05" y="396.98" width="10.25" height="10.17" fill="#f5aa89"/>
<rect x="1087" y="396.98" width="10.25" height="10.17" fill="#ec9374"/>
<rect x="1096.95" y="396.98" width="10.25" height="10.17" fill="#e37e64"/>
<rect x="1106.9" y="396.98" width="10.25" height="10.17" fill="#d86551"/>
<rect x="1116.85" y="396.98" width="20.2" height="10.17" fill="#bf3338"/>
<rect x="1136.75" y="396.98" width="20.2" height="10.17" fill="#b3192c"/>
<rect x="1156.65" y="396.98" width="10.25" height="10.17" fill="#9c1127"/>
<rect x="1166.6" y="396.98" width="10.25" height="10.17" fill="#810823"/>
<rect x="788.5" y="406.85" width="40.1" height="10.17" fill="#3a87bd"/>
<rect x="828.3" y="406.85" width="30.15" height="10.17" fill="#4997c5"/>
<rect x="858.15" y="406.85" width="40.1" height="10.17" fill="#65a9cf"/>
<rect x="897.95" y="406.85" width="40.1" height="10.17" fill="#7eb8d7"/>
<rect x="937.75" y="406.85" width="20.2" height="10.17" fill="#98c8e0"/>
<rect x="957.65" y="406.85" width="10.25" height="10.17" fill="#aed3e6"/>
<rect x="967.6" y="406.85" width="10.25" height="10.17" fill="#c5dfec"/>
<rect x="977.55" y="406.85" width="10.25" height="10.17" fill="#d7e8f1"/>
<rect x="987.5" y="406.85" width="20.2" height="10.17" fill="#e3edf3"/>
<rect x="1007.4" y="406.85" width="30.15" height="10.17" fill="#f0f4f6"/>
<rect x="1037.25" y="406.85" width="20.2" height="10.17" fill="#f8f2ef"/>
<rect x="1057.15" y="406.85" width="10.25" height="10.17" fill="#fae8de"/>
<rect x="1067.1" y="406.85" width="10.25" height="10.17" fill="#fcdfcf"/>
<rect x="1077.05" y="406.85" width="10.25" height="10.17" fill="#f8bda1"/>
<rect x="1087" y="406.85" width="10.25" height="10.17" fill="#f5aa89"/>
<rect x="1096.95" y="406.85" width="10.25" height="10.17" fill="#ec9374"/>
<rect x="1106.9" y="406.85" width="10.25" height="10.17" fill="#e37e64"/>
<rect x="1116.85" y="406.85" width="10.25" height="10.17" fill="#cc4c44"/>
<rect x="1126.8" y="406.85" width="20.2" height="10.17" fill="#bf3338"/>
<rect x="1146.7" y="406.85" width="20.2" height="10.17" fill="#b3192c"/>
<rect x="1166.6" y="406.85" width="10.25" height="10.17" fill="#9c1127"/>
<rect x="1176.55" y="406.85" width="50.05" height="10.17" fill="#810823"/>
<rect x="788.5" y="416.72" width="60" height="10.17" fill="#3a87bd"/>
<rect x="848.2" y="416.72" width="60" height="10.17" fill="#4997c5"/>
<rect x="907.9" y="416.72" width="30.15" height="10.17" fill="#65a9cf"/>
<rect x="937.75" y="416.72" width="20.2" height="10.17" fill="#7eb8d7"/>
<rect x="957.65" y="416.72" width="10.25" height="10.17" fill="#98c8e0"/>
<rect x="967.6" y="416.72" width="10.25" height="10.17" fill="#aed3e6"/>
<rect x="977.55" y="416.72" width="10.25" height="10.17" fill="#c5dfec"/>
<rect x="987.5" y="416.72" width="20.2" height="10.17" fill="#d7e8f1"/>
<rect x="1007.4" y="416.72" width="20.2" height="10.17" fill="#e3edf3"/>
<rect x="1027.3" y="416.72" width="20.2" height="10.17" fill="#f0f4f6"/>
<rect x="1047.2" y="416.72" width="20.2" height="10.17" fill="#f8f2ef"/>
<rect x="1067.1" y="416.72" width="10.25" height="10.17" fill="#fae8de"/>
<rect x="1077.05" y="416.72" width="10.25" height="10.17" fill="#fbd0b9"/>
<rect x="1087" y="416.72" width="10.25" height="10.17" fill="#f8bda1"/>
<rect x="1096.95" y="416.72" width="10.25" height="10.17" fill="#ec9374"/>
<rect x="1106.9" y="416.72" width="10.25" height="10.17" fill="#e37e64"/>
<rect x="1116.85" y="416.72" width="20.2" height="10.17" fill="#cc4c44"/>
<rect x="1136.75" y="416.72" width="10.25" height="10.17" fill="#bf3338"/>
<rect x="1146.7" y="416.72" width="10.25" height="10.17" fill="#b3192c"/>
<rect x="1156.65" y="416.72" width="20.2" height="10.17" fill="#9c1127"/>
<rect x="1176.55" y="416.72" width="60" height="10.17" fill="#810823"/>
<rect x="1276.05" y="416.72" width="10.25" height="10.17" fill="#810823"/>
<rect x="788.5" y="426.59" width="20.2" height="10.17" fill="#2e77b5"/>
<rect x="808.4" y="426.59" width="109.75" height="10.17" fill="#3a87bd"/>
<rect x="917.85" y="426.59" width="20.2" height="10.17" fill="#4997c5"/>
<rect x="937.75" y="426.59" width="20.2" height="10.17" fill="#65a9cf"/>
<rect x="957.65" y="426.59" width="10.25" height="10.17" fill="#7eb8d7"/>
<rect x="967.6" y="426.59" width="20.2" height="10.17" fill="#98c8e0"/>
<rect x="987.5" y="426.59" width="10.25" height="10.17" fill="#aed3e6"/>
<rect x="997.45" y="426.59" width="20.2" height="10.17" fill="#c5dfec"/>
<rect x="1017.35" y="426.59" width="20.2" height="10.17" fill="#d7e8f1"/>
<rect x="1037.25" y="426.59" width="20.2" height="10.17" fill="#e3edf3"/>
<rect x="1057.15" y="426.59" width="10.25" height="10.17" fill="#f0f4f6"/>
<rect x="1067.1" y="426.59" width="10.25" height="10.17" fill="#fae8de"/>
<rect x="1077.05" y="426.59" width="10.25" height="10.17" fill="#fcdfcf"/>
<rect x="1087" y="426.59" width="10.25" height="10.17" fill="#fbd0b9"/>
<rect x="1096.95" y="426.59" width="10.25" height="10.17" fill="#f5aa89"/>
<rect x="1106.9" y="426.59" width="10.25" height="10.17" fill="#ec9374"/>
<rect x="1116.85" y="426.59" width="20.2" height="10.17" fill="#d86551"/>
<rect x="1136.75" y="426.59" width="20.2" height="10.17" fill="#cc4c44"/>
<rect x="1156.65" y="426.59" width="10.25" height="10.17" fill="#b3192c"/>
<rect x="1166.6" y="426.59" width="50.05" height="10.17" fill="#9c1127"/>
<rect x="1216.35" y="426.59" width="10.25" height="10.17" fill="#810823"/>
<rect x="1276.05" y="426.59" width="10.25" height="10.17" fill="#810823"/>
<rect x="788.5" y="436.46" width="50.05" height="10.17" fill="#2e77b5"/>
<rect x="838.25" y="436.46" width="30.15" height="10.17" fill="#3a87bd"/>
<rect x="868.1" y="436.46" width="50.05" height="10.17" fill="#2e77b5"/>
<rect x="917.85" y="436.46" width="30.15" height="10.17" fill="#3a87bd"/>
<rect x="947.7" y="436.46" width="20.2" height="10.17" fill="#4997c5"/>
<rect x="967.6" y="436.46" width="20.2" height="10.17" fill="#65a9cf"/>
<rect x="987.5" y="436.46" width="20.2" height="10.17" fill="#7eb8d7"/>
<rect x="1007.4" y="436.46" width="10.25" height="10.17" fill="#98c8e0"/>
<rect x="1017.35" y="436.46" width="20.2" height="10.17" fill="#aed3e6"/>
<rect x="1037.25" y="436.46" width="10.25" height="10.17" fill="#c5dfec"/>
<rect x="1047.2" y="436.46" width="10.25" height="10.17" fill="#d7e8f1"/>
<rect x="1057.15" y="436.46" width="10.25" height="10.17" fill="#e3edf3"/>
<rect x="1067.1" y="436.46" width="20.2" height="10.17" fill="#f0f4f6"/>
<rect x="1087" y="436.46" width="10.25" height="10.17" fill="#f8f2ef"/>
<rect x="1096.95" y="436.46" width="10.25" height="10.17" fill="#fcdfcf"/>
<rect x="1106.9" y="436.46" width="10.25" height="10.17" fill="#f8bda1"/>
<rect x="1116.85" y="436.46" width="20.2" height="10.17" fill="#ec9374"/>
<rect x="1136.75" y="436.46" width="10.25" height="10.17" fill="#e37e64"/>
<rect x="1146.7" y="436.46" width="10.25" height="10.17" fill="#cc4c44"/>
<rect x="1156.65" y="436.46" width="10.25" height="10.17" fill="#bf3338"/>
<rect x="1166.6" y="436.46" width="40.1" height="10.17" fill="#b3192c"/>
<rect x="1206.4" y="436.46" width="10.25" height="10.17" fill="#9c1127"/>
<rect x="1216.35" y="436.46" width="30.15" height="10.17" fill="#ffffff"/>
<rect x="1246.2" y="436.46" width="20.2" height="10.17" fill="#810823"/>
<rect x="1276.05" y="436.46" width="10.25" height="10.17" fill="#ffffff"/>
<rect x="788.5" y="446.33" width="149.55" height="10.17" fill="#2e77b5"/>
<rect x="937.75" y="446.33" width="60" height="10.17" fill="#3a87bd"/>
<rect x="997.45" y="446.33" width="10.25" height="10.17" fill="#4997c5"/>
<rect x="1007.4" y="446.33" width="20.2" height="10.17" fill="#65a9cf"/>
<rect x="1027.3" y="446.33" width="20.2" height="10.17" fill="#7eb8d7"/>
<rect x="1047.2" y="446.33" width="10.25" height="10.17" fill="#98c8e0"/>
<rect x="1057.15" y="446.33" width="10.25" height="10.17" fill="#c5dfec"/>
<rect x="1067.1" y="446.33" width="10.25" height="10.17" fill="#d7e8f1"/>
<rect x="1077.05" y="446.33" width="10.25" height="10.17" fill="#e3edf3"/>
<rect x="1087" y="446.33" width="10.25" height="10.17" fill="#f0f4f6"/>
<rect x="1096.95" y="446.33" width="10.25" height="10.17" fill="#f8f2ef"/>
<rect x="1106.9" y="446.33" width="10.25" height="10.17" fill="#fcdfcf"/>
<rect x="1116.85" y="446.33" width="10.25" height="10.17" fill="#fbd0b9"/>
<rect x="1126.8" y="446.33" width="10.25" height="10.17" fill="#f8bda1"/>
<rect x="1136.75" y="446.33" width="10.25" height="10.17" fill="#f5aa89"/>
<rect x="1146.7" y="446.33" width="20.2" height="10.17" fill="#d86551"/>
<rect x="1166.6" y="446.33" width="20.2" height="10.17" fill="#cc4c44"/>
<rect x="1186.5" y="446.33" width="10.25" height="10.17" fill="#d86551"/>
<rect x="1196.45" y="446.33" width="10.25" height="10.17" fill="#e37e64"/>
<rect x="1206.4" y="446.33" width="10.25" height="10.17" fill="#ec9374"/>
<rect x="1216.35" y="446.33" width="30.15" height="10.17" fill="#ffffff"/>
<rect x="1246.2" y="446.33" width="10.25" height="10.17" fill="#810823"/>
<rect x="1256.15" y="446.33" width="10.25" height="10.17" fill="#9c1127"/>
<rect x="1276.05" y="446.33" width="10.25" height="10.17" fill="#ffffff"/>
<rect x="788.5" y="456.2" width="20.2" height="10.17" fill="#2267ac"/>
<rect x="808.4" y="456.2" width="50.05" height="10.17" fill="#2e77b5"/>
<rect x="858.15" y="456.2" width="50.05" height="10.17" fill="#2267ac"/>
<rect x="907.9" y="456.2" width="99.8" height="10.17" fill="#2e77b5"/>
<rect x="1007.4" y="456.2" width="10.25" height="10.17" fill="#3a87bd"/>
<rect x="1017.35" y="456.2" width="20.2" height="10.17" fill="#4997c5"/>
<rect x="1037.25" y="456.2" width="10.25" height="10.17" fill="#65a9cf"/>
<rect x="1047.2" y="456.2" width="10.25" height="10.17" fill="#7eb8d7"/>
<rect x="1057.15" y="456.2" width="10.25" height="10.17" fill="#98c8e0"/>
<rect x="1067.1" y="456.2" width="10.25" height="10.17" fill="#aed3e6"/>
<rect x="1077.05" y="456.2" width="20.2" height="10.17" fill="#d7e8f1"/>
<rect x="1096.95" y="456.2" width="10.25" height="10.17" fill="#f0f4f6"/>
<rect x="1106.9" y="456.2" width="10.25" height="10.17" fill="#f8f2ef"/>
<rect x="1116.85" y="456.2" width="10.25" height="10.17" fill="#fae8de"/>
<rect x="1126.8" y="456.2" width="10.25" height="10.17" fill="#f8f2ef"/>
<rect x="1136.75" y="456.2" width="10.25" height="10.17" fill="#f8bda1"/>
<rect x="1146.7" y="456.2" width="10.25" height="10.17" fill="#f5aa89"/>
<rect x="1156.65" y="456.2" width="30.15" height="10.17" fill="#ec9374"/>
<rect x="1186.5" y="456.2" width="10.25" height="10.17" fill="#f5aa89"/>
<rect x="1196.45" y="456.2" width="10.25" height="10.17" fill="#fcdfcf"/>
<rect x="1206.4" y="456.2" width="10.25" height="10.17" fill="#fae8de"/>
<rect x="1216.35" y="456.2" width="20.2" height="10.17" fill="#f8f2ef"/>
<rect x="1236.25" y="456.2" width="10.25" height="10.17" fill="#fae8de"/>
<rect x="1246.2" y="456.2" width="10.25" height="10.17" fill="#bf3338"/>
<rect x="1256.15" y="456.2" width="10.25" height="10.17" fill="#b3192c"/>
<rect x="1276.05" y="456.2" width="10.25" height="10.17" fill="#ffffff"/>
<rect x="788.5" y="466.07" width="209.25" height="10.17" fill="#2267ac"/>
<rect x="997.45" y="466.07" width="20.2" height="10.17" fill="#2e77b5"/>
<rect x="1017.35" y="466.07" width="30.15" height="10.17" fill="#3a87bd"/>
<rect x="1047.2" y="466.07" width="20.2" height="10.17" fill="#4997c5"/>
<rect x="1067.1" y="466.07" width="10.25" height="10.17" fill="#65a9cf"/>
<rect x="1077.05" y="466.07" width="10.25" height="10.17" fill="#98c8e0"/>
<rect x="1087" y="466.07" width="10.25" height="10.17" fill="#aed3e6"/>
<rect x="1096.95" y="466.07" width="10.25" height="10.17" fill="#c5dfec"/>
<rect x="1106.9" y="466.07" width="10.25" height="10.17" fill="#e3edf3"/>
<rect x="1116.85" y="466.07" width="10.25" height="10.17" fill="#f0f4f6"/>
<rect x="1126.8" y="466.07" width="10.25" height="10.17" fill="#f8f2ef"/>
<rect x="1136.75" y="466.07" width="10.25" height="10.17" fill="#e37e64"/>
<rect x="1146.7" y="466.07" width="10.25" height="10.17" fill="#d86551"/>
<rect x="1156.65" y="466.07" width="10.25" height="10.17" fill="#cc4c44"/>
<rect x="1166.6" y="466.07" width="10.25" height="10.17" fill="#ec9374"/>
<rect x="1176.55" y="466.07" width="10.25" height="10.17" fill="#f8bda1"/>
<rect x="1186.5" y="466.07" width="10.25" height="10.17" fill="#fbd0b9"/>
<rect x="1196.45" y="466.07" width="40.1" height="10.17" fill="#fae8de"/>
<rect x="1236.25" y="466.07" width="10.25" height="10.17" fill="#fcdfcf"/>
<rect x="1246.2" y="466.07" width="20.2" height="10.17" fill="#cc4c44"/>
<rect x="1276.05" y="466.07" width="10.25" height="10.17" fill="#ffffff"/>
<rect x="788.5" y="475.94" width="79.9" height="10.17" fill="#2267ac"/>
<rect x="868.1" y="475.94" width="20.2" height="10.17" fill="#195696"/>
<rect x="888" y="475.94" width="129.65" height="10.17" fill="#2267ac"/>
<rect x="1017.35" y="475.94" width="30.15" height="10.17" fill="#2e77b5"/>
<rect x="1047.2" y="475.94" width="20.2" height="10.17" fill="#3a87bd"/>
<rect x="1067.1" y="475.94" width="30.15" height="10.17" fill="#4997c5"/>
<rect x="1096.95" y="475.94" width="10.25" height="10.17" fill="#65a9cf"/>
<rect x="1106.9" y="475.94" width="10.25" height="10.17" fill="#7eb8d7"/>
<rect x="1116.85" y="475.94" width="20.2" height="10.17" fill="#c5dfec"/>
<rect x="1136.75" y="475.94" width="30.15" height="10.17" fill="#ffffff"/>
<rect x="1166.6" y="475.94" width="10.25" height="10.17" fill="#f8bda1"/>
<rect x="1176.55" y="475.94" width="10.25" height="10.17" fill="#fbd0b9"/>
<rect x="1186.5" y="475.94" width="10.25" height="10.17" fill="#fcdfcf"/>
<rect x="1196.45" y="475.94" width="10.25" height="10.17" fill="#fae8de"/>
<rect x="1206.4" y="475.94" width="20.2" height="10.17" fill="#f8f2ef"/>
<rect x="1226.3" y="475.94" width="10.25" height="10.17" fill="#fae8de"/>
<rect x="1236.25" y="475.94" width="10.25" height="10.17" fill="#fbd0b9"/>
<rect x="1246.2" y="475.94" width="10.25" height="10.17" fill="#d86551"/>
<rect x="1256.15" y="475.94" width="10.25" height="10.17" fill="#cc4c44"/>
<rect x="1266.1" y="475.94" width="10.25" height="10.17" fill="#810823"/>
<rect x="1276.05" y="475.94" width="10.25" height="10.17" fill="#ffffff"/>
<rect x="788.5" y="485.81" width="79.9" height="10.17" fill="#2267ac"/>
<rect x="868.1" y="485.81" width="20.2" height="10.17" fill="#195696"/>
<rect x="888" y="485.81" width="169.45" height="10.17" fill="#2267ac"/>
<rect x="1057.15" y="485.81" width="40.1" height="10.17" fill="#2e77b5"/>
<rect x="1096.95" y="485.81" width="10.25" height="10.17" fill="#2267ac"/>
<rect x="1106.9" y="485.81" width="10.25" height="10.17" fill="#2e77b5"/>
<rect x="1116.85" y="485.81" width="10.25" height="10.17" fill="#65a9cf"/>
<rect x="1126.8" y="485.81" width="10.25" height="10.17" fill="#4997c5"/>
<rect x="1136.75" y="485.81" width="30.15" height="10.17" fill="#ffffff"/>
<rect x="1166.6" y="485.81" width="10.25" height="10.17" fill="#fbd0b9"/>
<rect x="1176.55" y="485.81" width="20.2" height="10.17" fill="#fcdfcf"/>
<rect x="1196.45" y="485.81" width="20.2" height="10.17" fill="#fae8de"/>
<rect x="1216.35" y="485.81" width="10.25" height="10.17" fill="#fcdfcf"/>
<rect x="1226.3" y="485.81" width="10.25" height="10.17" fill="#fbd0b9"/>
<rect x="1236.25" y="485.81" width="10.25" height="10.17" fill="#f8bda1"/>
<rect x="1246.2" y="485.81" width="10.25" height="10.17" fill="#e37e64"/>
<rect x="1256.15" y="485.81" width="10.25" height="10.17" fill="#d86551"/>
<rect x="1266.1" y="485.81" width="10.25" height="10.17" fill="#810823"/>
<rect x="1276.05" y="485.81" width="10.25" height="10.17" fill="#ffffff"/>
</g>
<g stroke="#000" stroke-width="1.9" stroke-dasharray="9.5,4.5" fill="none" opacity="0.3">
<line x1="805.7" y1="66.4" x2="805.7" y2="491.4"/>
<line x1="869.7" y1="66.4" x2="869.7" y2="491.4"/>
<line x1="933.7" y1="66.4" x2="933.7" y2="491.4"/>
<line x1="997.7" y1="66.4" x2="997.7" y2="491.4"/>
<line x1="1061.7" y1="66.4" x2="1061.7" y2="491.4"/>
<line x1="1125.7" y1="66.4" x2="1125.7" y2="491.4"/>
<line x1="1189.7" y1="66.4" x2="1189.7" y2="491.4"/>
<line x1="1253.7" y1="66.4" x2="1253.7" y2="491.4"/>
<line x1="794" y1="98.6" x2="1282" y2="98.6"/>
<line x1="794" y1="161.8" x2="1282" y2="161.8"/>
<line x1="794" y1="225" x2="1282" y2="225"/>
<line x1="794" y1="288.2" x2="1282" y2="288.2"/>
<line x1="794" y1="351.4" x2="1282" y2="351.4"/>
<line x1="794" y1="414.6" x2="1282" y2="414.6"/>
<line x1="794" y1="477.8" x2="1282" y2="477.8"/>
</g>
<rect x="794" y="66.4" width="488" height="425" fill="none" stroke="#000" stroke-width="2.2"/>
<text class="t" x="806" y="534.5" text-anchor="middle" style="font-size:33.5px">72.8°E</text>
<text class="t" x="933.4" y="534.5" text-anchor="middle" style="font-size:33.5px">73°E</text>
<text class="t" x="1060.3" y="534.5" text-anchor="middle" style="font-size:33.5px">73.2°E</text>
<text class="t" x="1187.7" y="534.5" text-anchor="middle" style="font-size:33.5px">73.4°E</text>
<text class="lab" x="783" y="46">(B)</text>
<clipPath id="cc"><rect x="1342.8" y="67" width="488" height="425"/></clipPath>
<g clip-path="url(#cc)" shape-rendering="crispEdges">
<rect x="1342.8" y="67" width="488" height="425" fill="#f0f4f6"/>
<rect x="1337.4" y="62.4" width="20.2" height="10.17" fill="#fbd0b9"/>
<rect x="1357.3" y="62.4" width="60" height="10.17" fill="#fcdfcf"/>
<rect x="1417" y="62.4" width="20.2" height="10.17" fill="#fae8de"/>
<rect x="1436.9" y="62.4" width="79.9" height="10.17" fill="#f8f2ef"/>
<rect x="1765.25" y="62.4" width="69.95" height="10.17" fill="#f8f2ef"/>
<rect x="1337.4" y="72.27" width="10.25" height="10.17" fill="#fbd0b9"/>
<rect x="1347.35" y="72.27" width="30.15" height="10.17" fill="#fcdfcf"/>
<rect x="1377.2" y="72.27" width="60" height="10.17" fill="#fae8de"/>
<rect x="1436.9" y="72.27" width="89.85" height="10.17" fill="#f8f2ef"/>
<rect x="1765.25" y="72.27" width="69.95" height="10.17" fill="#f8f2ef"/>
<rect x="1337.4" y="82.14" width="10.25" height="10.17" fill="#fbd0b9"/>
<rect x="1347.35" y="82.14" width="60" height="10.17" fill="#fae8de"/>
<rect x="1407.05" y="82.14" width="10.25" height="10.17" fill="#f8f2ef"/>
<rect x="1417" y="82.14" width="30.15" height="10.17" fill="#fae8de"/>
<rect x="1446.85" y="82.14" width="89.85" height="10.17" fill="#f8f2ef"/>
<rect x="1695.6" y="82.14" width="40.1" height="10.17" fill="#f8f2ef"/>
<rect x="1765.25" y="82.14" width="69.95" height="10.17" fill="#f8f2ef"/>
<rect x="1337.4" y="92.01" width="129.65" height="10.17" fill="#fae8de"/>
<rect x="1466.75" y="92.01" width="209.25" height="10.17" fill="#f8f2ef"/>
<rect x="1695.6" y="92.01" width="40.1" height="10.17" fill="#f8f2ef"/>
<rect x="1765.25" y="92.01" width="69.95" height="10.17" fill="#f8f2ef"/>
<rect x="1337.4" y="101.88" width="139.6" height="10.17" fill="#fae8de"/>
<rect x="1476.7" y="101.88" width="229.15" height="10.17" fill="#f8f2ef"/>
<rect x="1765.25" y="101.88" width="30.15" height="10.17" fill="#f8f2ef"/>
<rect x="1337.4" y="111.75" width="30.15" height="10.17" fill="#fae8de"/>
<rect x="1367.25" y="111.75" width="30.15" height="10.17" fill="#fcdfcf"/>
<rect x="1397.1" y="111.75" width="10.25" height="10.17" fill="#fae8de"/>
<rect x="1407.05" y="111.75" width="30.15" height="10.17" fill="#fcdfcf"/>
<rect x="1436.9" y="111.75" width="139.6" height="10.17" fill="#fae8de"/>
<rect x="1576.2" y="111.75" width="139.6" height="10.17" fill="#f8f2ef"/>
<rect x="1337.4" y="121.62" width="30.15" height="10.17" fill="#fae8de"/>
<rect x="1367.25" y="121.62" width="40.1" height="10.17" fill="#fcdfcf"/>
<rect x="1407.05" y="121.62" width="40.1" height="10.17" fill="#fbd0b9"/>
<rect x="1446.85" y="121.62" width="30.15" height="10.17" fill="#fcdfcf"/>
<rect x="1476.7" y="121.62" width="139.6" height="10.17" fill="#fae8de"/>
<rect x="1616" y="121.62" width="99.8" height="10.17" fill="#f8f2ef"/>
<rect x="1337.4" y="131.49" width="30.15" height="10.17" fill="#fae8de"/>
<rect x="1367.25" y="131.49" width="30.15" height="10.17" fill="#fcdfcf"/>
<rect x="1397.1" y="131.49" width="30.15" height="10.17" fill="#fbd0b9"/>
<rect x="1426.95" y="131.49" width="69.95" height="10.17" fill="#f8bda1"/>
<rect x="1496.6" y="131.49" width="30.15" height="10.17" fill="#fbd0b9"/>
<rect x="1526.45" y="131.49" width="10.25" height="10.17" fill="#fcdfcf"/>
<rect x="1536.4" y="131.49" width="10.25" height="10.17" fill="#fbd0b9"/>
<rect x="1546.35" y="131.49" width="50.05" height="10.17" fill="#fcdfcf"/>
<rect x="1596.1" y="131.49" width="30.15" height="10.17" fill="#fae8de"/>
<rect x="1625.95" y="131.49" width="89.85" height="10.17" fill="#f8f2ef"/>
<rect x="1337.4" y="141.36" width="20.2" height="10.17" fill="#fae8de"/>
<rect x="1357.3" y="141.36" width="30.15" height="10.17" fill="#fcdfcf"/>
<rect x="1387.15" y="141.36" width="40.1" height="10.17" fill="#fbd0b9"/>
<rect x="1426.95" y="141.36" width="50.05" height="10.17" fill="#f8bda1"/>
<rect x="1476.7" y="141.36" width="10.25" height="10.17" fill="#f5aa89"/>
<rect x="1486.65" y="141.36" width="10.25" height="10.17" fill="#d86551"/>
<rect x="1496.6" y="141.36" width="119.7" height="10.17" fill="#ffffff"/>
<rect x="1616" y="141.36" width="40.1" height="10.17" fill="#fae8de"/>
<rect x="1655.8" y="141.36" width="69.95" height="10.17" fill="#f8f2ef"/>
<rect x="1337.4" y="151.23" width="30.15" height="10.17" fill="#fae8de"/>
<rect x="1367.25" y="151.23" width="30.15" height="10.17" fill="#fcdfcf"/>
<rect x="1397.1" y="151.23" width="20.2" height="10.17" fill="#fbd0b9"/>
<rect x="1417" y="151.23" width="20.2" height="10.17" fill="#f8bda1"/>
<rect x="1436.9" y="151.23" width="40.1" height="10.17" fill="#ec9374"/>
<rect x="1476.7" y="151.23" width="10.25" height="10.17" fill="#f5aa89"/>
<rect x="1486.65" y="151.23" width="10.25" height="10.17" fill="#e37e64"/>
<rect x="1496.6" y="151.23" width="119.7" height="10.17" fill="#ffffff"/>
<rect x="1616" y="151.23" width="60" height="10.17" fill="#fcdfcf"/>
<rect x="1675.7" y="151.23" width="20.2" height="10.17" fill="#fae8de"/>
<rect x="1695.6" y="151.23" width="30.15" height="10.17" fill="#f8f2ef"/>
<rect x="1337.4" y="161.1" width="20.2" height="10.17" fill="#f8f2ef"/>
<rect x="1357.3" y="161.1" width="30.15" height="10.17" fill="#fae8de"/>
<rect x="1387.15" y="161.1" width="30.15" height="10.17" fill="#fcdfcf"/>
<rect x="1417" y="161.1" width="10.25" height="10.17" fill="#fbd0b9"/>
<rect x="1426.95" y="161.1" width="10.25" height="10.17" fill="#f5aa89"/>
<rect x="1436.9" y="161.1" width="20.2" height="10.17" fill="#ec9374"/>
<rect x="1456.8" y="161.1" width="30.15" height="10.17" fill="#f8bda1"/>
<rect x="1486.65" y="161.1" width="10.25" height="10.17" fill="#f5aa89"/>
<rect x="1496.6" y="161.1" width="10.25" height="10.17" fill="#e37e64"/>
<rect x="1506.55" y="161.1" width="10.25" height="10.17" fill="#d86551"/>
<rect x="1516.5" y="161.1" width="40.1" height="10.17" fill="#cc4c44"/>
<rect x="1556.3" y="161.1" width="20.2" height="10.17" fill="#d86551"/>
<rect x="1576.2" y="161.1" width="20.2" height="10.17" fill="#e37e64"/>
<rect x="1596.1" y="161.1" width="10.25" height="10.17" fill="#ec9374"/>
<rect x="1606.05" y="161.1" width="10.25" height="10.17" fill="#f5aa89"/>
<rect x="1616" y="161.1" width="10.25" height="10.17" fill="#fbd0b9"/>
<rect x="1625.95" y="161.1" width="10.25" height="10.17" fill="#f8bda1"/>
<rect x="1635.9" y="161.1" width="60" height="10.17" fill="#ffffff"/>
<rect x="1695.6" y="161.1" width="30.15" height="10.17" fill="#f8f2ef"/>
<rect x="1337.4" y="170.97" width="30.15" height="10.17" fill="#f8f2ef"/>
<rect x="1367.25" y="170.97" width="50.05" height="10.17" fill="#fae8de"/>
<rect x="1417" y="170.97" width="10.25" height="10.17" fill="#fcdfcf"/>
<rect x="1426.95" y="170.97" width="10.25" height="10.17" fill="#f5aa89"/>
<rect x="1436.9" y="170.97" width="20.2" height="10.17" fill="#e37e64"/>
<rect x="1456.8" y="170.97" width="20.2" height="10.17" fill="#fbd0b9"/>
<rect x="1476.7" y="170.97" width="10.25" height="10.17" fill="#fcdfcf"/>
<rect x="1486.65" y="170.97" width="10.25" height="10.17" fill="#fbd0b9"/>
<rect x="1496.6" y="170.97" width="10.25" height="10.17" fill="#f8bda1"/>
<rect x="1506.55" y="170.97" width="10.25" height="10.17" fill="#f5aa89"/>
<rect x="1516.5" y="170.97" width="10.25" height="10.17" fill="#ec9374"/>
<rect x="1526.45" y="170.97" width="30.15" height="10.17" fill="#f5aa89"/>
<rect x="1556.3" y="170.97" width="10.25" height="10.17" fill="#fbd0b9"/>
<rect x="1566.25" y="170.97" width="50.05" height="10.17" fill="#fcdfcf"/>
<rect x="1616" y="170.97" width="10.25" height="10.17" fill="#fae8de"/>
<rect x="1625.95" y="170.97" width="10.25" height="10.17" fill="#fcdfcf"/>
<rect x="1635.9" y="170.97" width="60" height="10.17" fill="#ffffff"/>
<rect x="1695.6" y="170.97" width="50.05" height="10.17" fill="#f8f2ef"/>
<rect x="1785.15" y="170.97" width="10.25" height="10.17" fill="#e3edf3"/>
<rect x="1347.35" y="180.84" width="20.2" height="10.17" fill="#f8f2ef"/>
<rect x="1367.25" y="180.84" width="50.05" height="10.17" fill="#fae8de"/>
<rect x="1417" y="180.84" width="10.25" height="10.17" fill="#fcdfcf"/>
<rect x="1426.95" y="180.84" width="10.25" height="10.17" fill="#ec9374"/>
<rect x="1436.9" y="180.84" width="20.2" height="10.17" fill="#ffffff"/>
<rect x="1456.8" y="180.84" width="10.25" height="10.17" fill="#ec9374"/>
<rect x="1466.75" y="180.84" width="20.2" height="10.17" fill="#fcdfcf"/>
<rect x="1486.65" y="180.84" width="50.05" height="10.17" fill="#fbd0b9"/>
<rect x="1536.4" y="180.84" width="20.2" height="10.17" fill="#fcdfcf"/>
<rect x="1556.3" y="180.84" width="30.15" height="10.17" fill="#fae8de"/>
<rect x="1586.15" y="180.84" width="30.15" height="10.17" fill="#f8f2ef"/>
<rect x="1616" y="180.84" width="10.25" height="10.17" fill="#e3edf3"/>
<rect x="1625.95" y="180.84" width="20.2" height="10.17" fill="#d7e8f1"/>
<rect x="1645.85" y="180.84" width="10.25" height="10.17" fill="#e3edf3"/>
<rect x="1655.8" y="180.84" width="10.25" height="10.17" fill="#d7e8f1"/>
<rect x="1665.75" y="180.84" width="10.25" height="10.17" fill="#e3edf3"/>
<rect x="1675.7" y="180.84" width="10.25" height="10.17" fill="#d7e8f1"/>
<rect x="1685.65" y="180.84" width="10.25" height="10.17" fill="#e3edf3"/>
<rect x="1695.6" y="180.84" width="50.05" height="10.17" fill="#f8f2ef"/>
<rect x="1785.15" y="180.84" width="50.05" height="10.17" fill="#e3edf3"/>
<rect x="1337.4" y="190.71" width="10.25" height="10.17" fill="#e3edf3"/>
<rect x="1357.3" y="190.71" width="30.15" height="10.17" fill="#f8f2ef"/>
<rect x="1387.15" y="190.71" width="30.15" height="10.17" fill="#fae8de"/>
<rect x="1417" y="190.71" width="10.25" height="10.17" fill="#fcdfcf"/>
<rect x="1426.95" y="190.71" width="10.25" height="10.17" fill="#e37e64"/>
<rect x="1436.9" y="190.71" width="20.2" height="10.17" fill="#ffffff"/>
<rect x="1456.8" y="190.71" width="10.25" height="10.17" fill="#ec9374"/>
<rect x="1466.75" y="190.71" width="10.25" height="10.17" fill="#fcdfcf"/>
<rect x="1476.7" y="190.71" width="10.25" height="10.17" fill="#fae8de"/>
<rect x="1486.65" y="190.71" width="20.2" height="10.17" fill="#fcdfcf"/>
<rect x="1506.55" y="190.71" width="20.2" height="10.17" fill="#fbd0b9"/>
<rect x="1526.45" y="190.71" width="10.25" height="10.17" fill="#fcdfcf"/>
<rect x="1536.4" y="190.71" width="10.25" height="10.17" fill="#fae8de"/>
<rect x="1546.35" y="190.71" width="40.1" height="10.17" fill="#f8f2ef"/>
<rect x="1616" y="190.71" width="10.25" height="10.17" fill="#d7e8f1"/>
<rect x="1625.95" y="190.71" width="10.25" height="10.17" fill="#c5dfec"/>
<rect x="1635.9" y="190.71" width="40.1" height="10.17" fill="#e3edf3"/>
<rect x="1675.7" y="190.71" width="20.2" height="10.17" fill="#d7e8f1"/>
<rect x="1705.55" y="190.71" width="40.1" height="10.17" fill="#f8f2ef"/>
<rect x="1785.15" y="190.71" width="50.05" height="10.17" fill="#e3edf3"/>
<rect x="1337.4" y="200.58" width="10.25" height="10.17" fill="#e3edf3"/>
<rect x="1367.25" y="200.58" width="30.15" height="10.17" fill="#f8f2ef"/>
<rect x="1397.1" y="200.58" width="20.2" height="10.17" fill="#fae8de"/>
<rect x="1417" y="200.58" width="10.25" height="10.17" fill="#fcdfcf"/>
<rect x="1426.95" y="200.58" width="10.25" height="10.17" fill="#e37e64"/>
<rect x="1436.9" y="200.58" width="20.2" height="10.17" fill="#ffffff"/>
<rect x="1456.8" y="200.58" width="10.25" height="10.17" fill="#e37e64"/>
<rect x="1466.75" y="200.58" width="10.25" height="10.17" fill="#fcdfcf"/>
<rect x="1476.7" y="200.58" width="10.25" height="10.17" fill="#fae8de"/>
<rect x="1486.65" y="200.58" width="40.1" height="10.17" fill="#fcdfcf"/>
<rect x="1526.45" y="200.58" width="10.25" height="10.17" fill="#fae8de"/>
<rect x="1536.4" y="200.58" width="40.1" height="10.17" fill="#f8f2ef"/>
<rect x="1596.1" y="200.58" width="20.2" height="10.17" fill="#e3edf3"/>
<rect x="1616" y="200.58" width="20.2" height="10.17" fill="#d7e8f1"/>
<rect x="1635.9" y="200.58" width="10.25" height="10.17" fill="#e3edf3"/>
<rect x="1675.7" y="200.58" width="10.25" height="10.17" fill="#e3edf3"/>
<rect x="1695.6" y="200.58" width="50.05" height="10.17" fill="#f8f2ef"/>
<rect x="1785.15" y="200.58" width="50.05" height="10.17" fill="#e3edf3"/>
<rect x="1347.35" y="210.45" width="10.25" height="10.17" fill="#e3edf3"/>
<rect x="1387.15" y="210.45" width="10.25" height="10.17" fill="#f8f2ef"/>
<rect x="1397.1" y="210.45" width="30.15" height="10.17" fill="#fae8de"/>
<rect x="1426.95" y="210.45" width="10.25" height="10.17" fill="#e37e64"/>
<rect x="1436.9" y="210.45" width="20.2" height="10.17" fill="#ffffff"/>
<rect x="1456.8" y="210.45" width="10.25" height="10.17" fill="#e37e64"/>
<rect x="1466.75" y="210.45" width="50.05" height="10.17" fill="#fcdfcf"/>
<rect x="1516.5" y="210.45" width="20.2" height="10.17" fill="#fae8de"/>
<rect x="1536.4" y="210.45" width="10.25" height="10.17" fill="#f8f2ef"/>
<rect x="1586.15" y="210.45" width="40.1" height="10.17" fill="#e3edf3"/>
<rect x="1635.9" y="210.45" width="30.15" height="10.17" fill="#f8f2ef"/>
<rect x="1665.75" y="210.45" width="10.25" height="10.17" fill="#fae8de"/>
<rect x="1675.7" y="210.45" width="20.2" height="10.17" fill="#ffffff"/>
<rect x="1695.6" y="210.45" width="50.05" height="10.17" fill="#f8f2ef"/>
<rect x="1795.1" y="210.45" width="40.1" height="10.17" fill="#e3edf3"/>
<rect x="1337.4" y="220.32" width="20.2" height="10.17" fill="#e3edf3"/>
<rect x="1387.15" y="220.32" width="10.25" height="10.17" fill="#f8f2ef"/>
<rect x="1397.1" y="220.32" width="30.15" height="10.17" fill="#fae8de"/>
<rect x="1426.95" y="220.32" width="10.25" height="10.17" fill="#e37e64"/>
<rect x="1436.9" y="220.32" width="20.2" height="10.17" fill="#ffffff"/>
<rect x="1456.8" y="220.32" width="10.25" height="10.17" fill="#bf3338"/>
<rect x="1466.75" y="220.32" width="10.25" height="10.17" fill="#f8bda1"/>
<rect x="1476.7" y="220.32" width="10.25" height="10.17" fill="#fbd0b9"/>
<rect x="1486.65" y="220.32" width="30.15" height="10.17" fill="#fcdfcf"/>
<rect x="1516.5" y="220.32" width="20.2" height="10.17" fill="#fae8de"/>
<rect x="1536.4" y="220.32" width="10.25" height="10.17" fill="#f8f2ef"/>
<rect x="1556.3" y="220.32" width="50.05" height="10.17" fill="#e3edf3"/>
<rect x="1606.05" y="220.32" width="20.2" height="10.17" fill="#d7e8f1"/>
<rect x="1645.85" y="220.32" width="20.2" height="10.17" fill="#f8f2ef"/>
<rect x="1665.75" y="220.32" width="10.25" height="10.17" fill="#fbd0b9"/>
<rect x="1675.7" y="220.32" width="20.2" height="10.17" fill="#ffffff"/>
<rect x="1705.55" y="220.32" width="20.2" height="10.17" fill="#f8f2ef"/>
<rect x="1795.1" y="220.32" width="40.1" height="10.17" fill="#e3edf3"/>
<rect x="1337.4" y="230.19" width="10.25" height="10.17" fill="#d7e8f1"/>
<rect x="1347.35" y="230.19" width="20.2" height="10.17" fill="#e3edf3"/>
<rect x="1387.15" y="230.19" width="10.25" height="10.17" fill="#f8f2ef"/>
<rect x="1397.1" y="230.19" width="30.15" height="10.17" fill="#fae8de"/>
<rect x="1426.95" y="230.19" width="10.25" height="10.17" fill="#e37e64"/>
<rect x="1436.9" y="230.19" width="20.2" height="10.17" fill="#ffffff"/>
<rect x="1456.8" y="230.19" width="10.25" height="10.17" fill="#cc4c44"/>
<rect x="1466.75" y="230.19" width="20.2" height="10.17" fill="#f8bda1"/>
<rect x="1486.65" y="230.19" width="20.2" height="10.17" fill="#fbd0b9"/>
<rect x="1506.55" y="230.19" width="10.25" height="10.17" fill="#fcdfcf"/>
<rect x="1516.5" y="230.19" width="20.2" height="10.17" fill="#fae8de"/>
<rect x="1536.4" y="230.19" width="10.25" height="10.17" fill="#f8f2ef"/>
<rect x="1556.3" y="230.19" width="20.2" height="10.17" fill="#e3edf3"/>
<rect x="1576.2" y="230.19" width="50.05" height="10.17" fill="#d7e8f1"/>
<rect x="1655.8" y="230.19" width="10.25" height="10.17" fill="#f8f2ef"/>
<rect x="1665.75" y="230.19" width="10.25" height="10.17" fill="#fbd0b9"/>
<rect x="1675.7" y="230.19" width="20.2" height="10.17" fill="#ffffff"/>
<rect x="1705.55" y="230.19" width="30.15" height="10.17" fill="#f8f2ef"/>
<rect x="1795.1" y="230.19" width="40.1" height="10.17" fill="#e3edf3"/>
<rect x="1337.4" y="240.06" width="30.15" height="10.17" fill="#d7e8f1"/>
<rect x="1367.25" y="240.06" width="20.2" height="10.17" fill="#e3edf3"/>
<rect x="1397.1" y="240.06" width="10.25" height="10.17" fill="#f8f2ef"/>
<rect x="1407.05" y="240.06" width="20.2" height="10.17" fill="#fae8de"/>
<rect x="1426.95" y="240.06" width="10.25" height="10.17" fill="#ec9374"/>
<rect x="1436.9" y="240.06" width="20.2" height="10.17" fill="#ffffff"/>
<rect x="1456.8" y="240.06" width="10.25" height="10.17" fill="#cc4c44"/>
<rect x="1466.75" y="240.06" width="10.25" height="10.17" fill="#f5aa89"/>
<rect x="1476.7" y="240.06" width="30.15" height="10.17" fill="#f8bda1"/>
<rect x="1506.55" y="240.06" width="10.25" height="10.17" fill="#fcdfcf"/>
<rect x="1516.5" y="240.06" width="10.25" height="10.17" fill="#fae8de"/>
<rect x="1526.45" y="240.06" width="20.2" height="10.17" fill="#f8f2ef"/>
<rect x="1556.3" y="240.06" width="20.2" height="10.17" fill="#e3edf3"/>
<rect x="1576.2" y="240.06" width="50.05" height="10.17" fill="#d7e8f1"/>
<rect x="1655.8" y="240.06" width="20.2" height="10.17" fill="#fae8de"/>
<rect x="1695.6" y="240.06" width="10.25" height="10.17" fill="#f8f2ef"/>
<rect x="1705.55" y="240.06" width="20.2" height="10.17" fill="#fae8de"/>
<rect x="1725.45" y="240.06" width="10.25" height="10.17" fill="#f8f2ef"/>
<rect x="1795.1" y="240.06" width="40.1" height="10.17" fill="#e3edf3"/>
<rect x="1337.4" y="249.93" width="10.25" height="10.17" fill="#aed3e6"/>
<rect x="1347.35" y="249.93" width="10.25" height="10.17" fill="#c5dfec"/>
<rect x="1357.3" y="249.93" width="20.2" height="10.17" fill="#d7e8f1"/>
<rect x="1377.2" y="249.93" width="10.25" height="10.17" fill="#e3edf3"/>
<rect x="1397.1" y="249.93" width="10.25" height="10.17" fill="#f8f2ef"/>
<rect x="1407.05" y="249.93" width="20.2" height="10.17" fill="#fae8de"/>
<rect x="1426.95" y="249.93" width="10.25" height="10.17" fill="#ec9374"/>
<rect x="1436.9" y="249.93" width="20.2" height="10.17" fill="#ffffff"/>
<rect x="1456.8" y="249.93" width="10.25" height="10.17" fill="#cc4c44"/>
<rect x="1466.75" y="249.93" width="20.2" height="10.17" fill="#ec9374"/>
<rect x="1486.65" y="249.93" width="10.25" height="10.17" fill="#f5aa89"/>
<rect x="1496.6" y="249.93" width="10.25" height="10.17" fill="#f8bda1"/>
<rect x="1506.55" y="249.93" width="10.25" height="10.17" fill="#fbd0b9"/>
<rect x="1516.5" y="249.93" width="10.25" height="10.17" fill="#fcdfcf"/>
<rect x="1526.45" y="249.93" width="10.25" height="10.17" fill="#fae8de"/>
<rect x="1536.4" y="249.93" width="10.25" height="10.17" fill="#f8f2ef"/>
<rect x="1566.25" y="249.93" width="20.2" height="10.17" fill="#e3edf3"/>
<rect x="1586.15" y="249.93" width="20.2" height="10.17" fill="#d7e8f1"/>
<rect x="1606.05" y="249.93" width="20.2" height="10.17" fill="#e3edf3"/>
<rect x="1655.8" y="249.93" width="20.2" height="10.17" fill="#f8f2ef"/>
<rect x="1675.7" y="249.93" width="10.25" height="10.17" fill="#c5dfec"/>
<rect x="1685.65" y="249.93" width="10.25" height="10.17" fill="#e3edf3"/>
<rect x="1695.6" y="249.93" width="30.15" height="10.17" fill="#ffffff"/>
<rect x="1725.45" y="249.93" width="10.25" height="10.17" fill="#f8f2ef"/>
<rect x="1805.05" y="249.93" width="30.15" height="10.17" fill="#e3edf3"/>
<rect x="1337.4" y="259.8" width="10.25" height="10.17" fill="#98c8e0"/>
<rect x="1347.35" y="259.8" width="10.25" height="10.17" fill="#aed3e6"/>
<rect x="1357.3" y="259.8" width="10.25" height="10.17" fill="#c5dfec"/>
<rect x="1367.25" y="259.8" width="20.2" height="10.17" fill="#d7e8f1"/>
<rect x="1387.15" y="259.8" width="10.25" height="10.17" fill="#e3edf3"/>
<rect x="1407.05" y="259.8" width="10.25" height="10.17" fill="#f8f2ef"/>
<rect x="1417" y="259.8" width="10.25" height="10.17" fill="#fae8de"/>
<rect x="1426.95" y="259.8" width="10.25" height="10.17" fill="#e37e64"/>
<rect x="1436.9" y="259.8" width="20.2" height="10.17" fill="#ffffff"/>
<rect x="1456.8" y="259.8" width="10.25" height="10.17" fill="#bf3338"/>
<rect x="1466.75" y="259.8" width="10.25" height="10.17" fill="#ec9374"/>
<rect x="1476.7" y="259.8" width="30.15" height="10.17" fill="#f5aa89"/>
<rect x="1506.55" y="259.8" width="10.25" height="10.17" fill="#f8bda1"/>
<rect x="1516.5" y="259.8" width="20.2" height="10.17" fill="#fcdfcf"/>
<rect x="1536.4" y="259.8" width="10.25" height="10.17" fill="#f8f2ef"/>
<rect x="1576.2" y="259.8" width="60" height="10.17" fill="#e3edf3"/>
<rect x="1635.9" y="259.8" width="20.2" height="10.17" fill="#c5dfec"/>
<rect x="1655.8" y="259.8" width="20.2" height="10.17" fill="#aed3e6"/>
<rect x="1675.7" y="259.8" width="10.25" height="10.17" fill="#98c8e0"/>
<rect x="1685.65" y="259.8" width="10.25" height="10.17" fill="#d7e8f1"/>
<rect x="1695.6" y="259.8" width="30.15" height="10.17" fill="#ffffff"/>
<rect x="1725.45" y="259.8" width="10.25" height="10.17" fill="#f8f2ef"/>
<rect x="1805.05" y="259.8" width="30.15" height="10.17" fill="#e3edf3"/>
<rect x="1337.4" y="269.67" width="10.25" height="10.17" fill="#7eb8d7"/>
<rect x="1347.35" y="269.67" width="10.25" height="10.17" fill="#98c8e0"/>
<rect x="1357.3" y="269.67" width="10.25" height="10.17" fill="#aed3e6"/>
<rect x="1367.25" y="269.67" width="10.25" height="10.17" fill="#c5dfec"/>
<rect x="1377.2" y="269.67" width="10.25" height="10.17" fill="#d7e8f1"/>
<rect x="1387.15" y="269.67" width="10.25" height="10.17" fill="#e3edf3"/>
<rect x="1407.05" y="269.67" width="10.25" height="10.17" fill="#f8f2ef"/>
<rect x="1417" y="269.67" width="10.25" height="10.17" fill="#fae8de"/>
<rect x="1426.95" y="269.67" width="10.25" height="10.17" fill="#e37e64"/>
<rect x="1436.9" y="269.67" width="20.2" height="10.17" fill="#ffffff"/>
<rect x="1456.8" y="269.67" width="10.25" height="10.17" fill="#cc4c44"/>
<rect x="1466.75" y="269.67" width="10.25" height="10.17" fill="#fbd0b9"/>
<rect x="1476.7" y="269.67" width="10.25" height="10.17" fill="#fcdfcf"/>
<rect x="1486.65" y="269.67" width="40.1" height="10.17" fill="#f8bda1"/>
<rect x="1526.45" y="269.67" width="10.25" height="10.17" fill="#fcdfcf"/>
<rect x="1536.4" y="269.67" width="10.25" height="10.17" fill="#fae8de"/>
<rect x="1546.35" y="269.67" width="10.25" height="10.17" fill="#f8f2ef"/>
<rect x="1586.15" y="269.67" width="40.1" height="10.17" fill="#e3edf3"/>
<rect x="1625.95" y="269.67" width="10.25" height="10.17" fill="#d7e8f1"/>
<rect x="1635.9" y="269.67" width="10.25" height="10.17" fill="#c5dfec"/>
<rect x="1645.85" y="269.67" width="30.15" height="10.17" fill="#98c8e0"/>
<rect x="1675.7" y="269.67" width="10.25" height="10.17" fill="#aed3e6"/>
<rect x="1685.65" y="269.67" width="10.25" height="10.17" fill="#e3edf3"/>
<rect x="1695.6" y="269.67" width="10.25" height="10.17" fill="#f8f2ef"/>
<rect x="1705.55" y="269.67" width="10.25" height="10.17" fill="#fae8de"/>
<rect x="1715.5" y="269.67" width="20.2" height="10.17" fill="#f8f2ef"/>
<rect x="1824.95" y="269.67" width="10.25" height="10.17" fill="#e3edf3"/>
<rect x="1337.4" y="279.54" width="10.25" height="10.17" fill="#65a9cf"/>
<rect x="1347.35" y="279.54" width="10.25" height="10.17" fill="#7eb8d7"/>
<rect x="1357.3" y="279.54" width="10.25" height="10.17" fill="#98c8e0"/>
<rect x="1367.25" y="279.54" width="10.25" height="10.17" fill="#aed3e6"/>
<rect x="1377.2" y="279.54" width="10.25" height="10.17" fill="#c5dfec"/>
<rect x="1387.15" y="279.54" width="10.25" height="10.17" fill="#d7e8f1"/>
<rect x="1397.1" y="279.54" width="10.25" height="10.17" fill="#e3edf3"/>
<rect x="1407.05" y="279.54" width="20.2" height="10.17" fill="#f8f2ef"/>
<rect x="1426.95" y="279.54" width="10.25" height="10.17" fill="#f5aa89"/>
<rect x="1436.9" y="279.54" width="20.2" height="10.17" fill="#ffffff"/>
<rect x="1456.8" y="279.54" width="10.25" height="10.17" fill="#ec9374"/>
<rect x="1466.75" y="279.54" width="20.2" height="10.17" fill="#fae8de"/>
<rect x="1486.65" y="279.54" width="50.05" height="10.17" fill="#fcdfcf"/>
<rect x="1536.4" y="279.54" width="20.2" height="10.17" fill="#fae8de"/>
<rect x="1556.3" y="279.54" width="20.2" height="10.17" fill="#f8f2ef"/>
<rect x="1596.1" y="279.54" width="30.15" height="10.17" fill="#e3edf3"/>
<rect x="1625.95" y="279.54" width="10.25" height="10.17" fill="#d7e8f1"/>
<rect x="1635.9" y="279.54" width="30.15" height="10.17" fill="#c5dfec"/>
<rect x="1665.75" y="279.54" width="10.25" height="10.17" fill="#e3edf3"/>
<rect x="1685.65" y="279.54" width="50.05" height="10.17" fill="#f8f2ef"/>
<rect x="1337.4" y="289.41" width="10.25" height="10.17" fill="#4997c5"/>
<rect x="1347.35" y="289.41" width="10.25" height="10.17" fill="#65a9cf"/>
<rect x="1357.3" y="289.41" width="10.25" height="10.17" fill="#7eb8d7"/>
<rect x="1367.25" y="289.41" width="10.25" height="10.17" fill="#98c8e0"/>
<rect x="1377.2" y="289.41" width="10.25" height="10.17" fill="#c5dfec"/>
<rect x="1387.15" y="289.41" width="10.25" height="10.17" fill="#d7e8f1"/>
<rect x="1397.1" y="289.41" width="10.25" height="10.17" fill="#e3edf3"/>
<rect x="1417" y="289.41" width="10.25" height="10.17" fill="#f8f2ef"/>
<rect x="1426.95" y="289.41" width="10.25" height="10.17" fill="#fbd0b9"/>
<rect x="1436.9" y="289.41" width="20.2" height="10.17" fill="#f5aa89"/>
<rect x="1456.8" y="289.41" width="10.25" height="10.17" fill="#f8bda1"/>
<rect x="1466.75" y="289.41" width="10.25" height="10.17" fill="#fbd0b9"/>
<rect x="1476.7" y="289.41" width="40.1" height="10.17" fill="#fae8de"/>
<rect x="1516.5" y="289.41" width="20.2" height="10.17" fill="#fcdfcf"/>
<rect x="1536.4" y="289.41" width="30.15" height="10.17" fill="#fae8de"/>
<rect x="1566.25" y="289.41" width="20.2" height="10.17" fill="#f8f2ef"/>
<rect x="1606.05" y="289.41" width="20.2" height="10.17" fill="#e3edf3"/>
<rect x="1625.95" y="289.41" width="10.25" height="10.17" fill="#d7e8f1"/>
<rect x="1635.9" y="289.41" width="10.25" height="10.17" fill="#c5dfec"/>
<rect x="1645.85" y="289.41" width="10.25" height="10.17" fill="#e3edf3"/>
<rect x="1655.8" y="289.41" width="30.15" height="10.17" fill="#ffffff"/>
<rect x="1685.65" y="289.41" width="10.25" height="10.17" fill="#fae8de"/>
<rect x="1695.6" y="289.41" width="30.15" height="10.17" fill="#f8f2ef"/>
<rect x="1815" y="289.41" width="20.2" height="10.17" fill="#e3edf3"/>
<rect x="1337.4" y="299.28" width="20.2" height="10.17" fill="#4997c5"/>
<rect x="1357.3" y="299.28" width="10.25" height="10.17" fill="#65a9cf"/>
<rect x="1367.25" y="299.28" width="10.25" height="10.17" fill="#7eb8d7"/>
<rect x="1377.2" y="299.28" width="10.25" height="10.17" fill="#aed3e6"/>
<rect x="1387.15" y="299.28" width="10.25" height="10.17" fill="#c5dfec"/>
<rect x="1397.1" y="299.28" width="10.25" height="10.17" fill="#e3edf3"/>
<rect x="1417" y="299.28" width="10.25" height="10.17" fill="#f8f2ef"/>
<rect x="1426.95" y="299.28" width="10.25" height="10.17" fill="#fcdfcf"/>
<rect x="1436.9" y="299.28" width="10.25" height="10.17" fill="#fbd0b9"/>
<rect x="1446.85" y="299.28" width="20.2" height="10.17" fill="#f8bda1"/>
<rect x="1466.75" y="299.28" width="10.25" height="10.17" fill="#fcdfcf"/>
<rect x="1476.7" y="299.28" width="99.8" height="10.17" fill="#fae8de"/>
<rect x="1576.2" y="299.28" width="20.2" height="10.17" fill="#f8f2ef"/>
<rect x="1625.95" y="299.28" width="10.25" height="10.17" fill="#d7e8f1"/>
<rect x="1635.9" y="299.28" width="10.25" height="10.17" fill="#e3edf3"/>
<rect x="1645.85" y="299.28" width="10.25" height="10.17" fill="#fcdfcf"/>
<rect x="1655.8" y="299.28" width="30.15" height="10.17" fill="#ffffff"/>
<rect x="1685.65" y="299.28" width="10.25" height="10.17" fill="#fae8de"/>
<rect x="1695.6" y="299.28" width="20.2" height="10.17" fill="#f8f2ef"/>
<rect x="1815" y="299.28" width="20.2" height="10.17" fill="#e3edf3"/>
<rect x="1337.4" y="309.15" width="10.25" height="10.17" fill="#3a87bd"/>
<rect x="1347.35" y="309.15" width="10.25" height="10.17" fill="#4997c5"/>
<rect x="1357.3" y="309.15" width="20.2" height="10.17" fill="#65a9cf"/>
<rect x="1377.2" y="309.15" width="10.25" height="10.17" fill="#98c8e0"/>
<rect x="1387.15" y="309.15" width="10.25" height="10.17" fill="#c5dfec"/>
<rect x="1397.1" y="309.15" width="10.25" height="10.17" fill="#d7e8f1"/>
<rect x="1417" y="309.15" width="10.25" height="10.17" fill="#f8f2ef"/>
<rect x="1426.95" y="309.15" width="10.25" height="10.17" fill="#fae8de"/>
<rect x="1436.9" y="309.15" width="10.25" height="10.17" fill="#fcdfcf"/>
<rect x="1446.85" y="309.15" width="10.25" height="10.17" fill="#d86551"/>
<rect x="1456.8" y="309.15" width="20.2" height="10.17" fill="#ffffff"/>
<rect x="1476.7" y="309.15" width="30.15" height="10.17" fill="#fae8de"/>
<rect x="1506.55" y="309.15" width="20.2" height="10.17" fill="#fcdfcf"/>
<rect x="1526.45" y="309.15" width="40.1" height="10.17" fill="#fae8de"/>
<rect x="1566.25" y="309.15" width="10.25" height="10.17" fill="#fcdfcf"/>
<rect x="1576.2" y="309.15" width="10.25" height="10.17" fill="#fae8de"/>
<rect x="1586.15" y="309.15" width="50.05" height="10.17" fill="#f8f2ef"/>
<rect x="1635.9" y="309.15" width="20.2" height="10.17" fill="#fae8de"/>
<rect x="1655.8" y="309.15" width="40.1" height="10.17" fill="#fcdfcf"/>
<rect x="1695.6" y="309.15" width="10.25" height="10.17" fill="#fae8de"/>
<rect x="1705.55" y="309.15" width="10.25" height="10.17" fill="#f8f2ef"/>
<rect x="1337.4" y="319.02" width="10.25" height="10.17" fill="#3a87bd"/>
<rect x="1347.35" y="319.02" width="20.2" height="10.17" fill="#4997c5"/>
<rect x="1367.25" y="319.02" width="10.25" height="10.17" fill="#65a9cf"/>
<rect x="1377.2" y="319.02" width="10.25" height="10.17" fill="#7eb8d7"/>
<rect x="1387.15" y="319.02" width="10.25" height="10.17" fill="#aed3e6"/>
<rect x="1397.1" y="319.02" width="10.25" height="10.17" fill="#d7e8f1"/>
<rect x="1407.05" y="319.02" width="10.25" height="10.17" fill="#e3edf3"/>
<rect x="1417" y="319.02" width="10.25" height="10.17" fill="#f8f2ef"/>
<rect x="1426.95" y="319.02" width="10.25" height="10.17" fill="#fae8de"/>
<rect x="1436.9" y="319.02" width="10.25" height="10.17" fill="#fcdfcf"/>
<rect x="1446.85" y="319.02" width="10.25" height="10.17" fill="#ec9374"/>
<rect x="1456.8" y="319.02" width="20.2" height="10.17" fill="#ffffff"/>
<rect x="1476.7" y="319.02" width="30.15" height="10.17" fill="#fae8de"/>
<rect x="1506.55" y="319.02" width="69.95" height="10.17" fill="#fcdfcf"/>
<rect x="1576.2" y="319.02" width="60" height="10.17" fill="#fae8de"/>
<rect x="1635.9" y="319.02" width="50.05" height="10.17" fill="#fcdfcf"/>
<rect x="1685.65" y="319.02" width="10.25" height="10.17" fill="#fae8de"/>
<rect x="1695.6" y="319.02" width="20.2" height="10.17" fill="#f8f2ef"/>
<rect x="1337.4" y="328.89" width="30.15" height="10.17" fill="#3a87bd"/>
<rect x="1367.25" y="328.89" width="10.25" height="10.17" fill="#4997c5"/>
<rect x="1377.2" y="328.89" width="10.25" height="10.17" fill="#65a9cf"/>
<rect x="1387.15" y="328.89" width="10.25" height="10.17" fill="#98c8e0"/>
<rect x="1397.1" y="328.89" width="10.25" height="10.17" fill="#c5dfec"/>
<rect x="1407.05" y="328.89" width="10.25" height="10.17" fill="#e3edf3"/>
<rect x="1417" y="328.89" width="10.25" height="10.17" fill="#f8f2ef"/>
<rect x="1426.95" y="328.89" width="10.25" height="10.17" fill="#fae8de"/>
<rect x="1436.9" y="328.89" width="30.15" height="10.17" fill="#fcdfcf"/>
<rect x="1466.75" y="328.89" width="10.25" height="10.17" fill="#fbd0b9"/>
<rect x="1476.7" y="328.89" width="10.25" height="10.17" fill="#fae8de"/>
<rect x="1486.65" y="328.89" width="20.2" height="10.17" fill="#f8f2ef"/>
<rect x="1506.55" y="328.89" width="30.15" height="10.17" fill="#fae8de"/>
<rect x="1536.4" y="328.89" width="40.1" height="10.17" fill="#fcdfcf"/>
<rect x="1576.2" y="328.89" width="20.2" height="10.17" fill="#fae8de"/>
<rect x="1596.1" y="328.89" width="20.2" height="10.17" fill="#fcdfcf"/>
<rect x="1616" y="328.89" width="40.1" height="10.17" fill="#fbd0b9"/>
<rect x="1655.8" y="328.89" width="20.2" height="10.17" fill="#fcdfcf"/>
<rect x="1675.7" y="328.89" width="20.2" height="10.17" fill="#fae8de"/>
<rect x="1695.6" y="328.89" width="10.25" height="10.17" fill="#f8f2ef"/>
<rect x="1337.4" y="338.76" width="30.15" height="10.17" fill="#3a87bd"/>
<rect x="1367.25" y="338.76" width="10.25" height="10.17" fill="#4997c5"/>
<rect x="1377.2" y="338.76" width="10.25" height="10.17" fill="#65a9cf"/>
<rect x="1387.15" y="338.76" width="10.25" height="10.17" fill="#7eb8d7"/>
<rect x="1397.1" y="338.76" width="10.25" height="10.17" fill="#aed3e6"/>
<rect x="1407.05" y="338.76" width="10.25" height="10.17" fill="#d7e8f1"/>
<rect x="1426.95" y="338.76" width="20.2" height="10.17" fill="#fae8de"/>
<rect x="1446.85" y="338.76" width="30.15" height="10.17" fill="#fcdfcf"/>
<rect x="1476.7" y="338.76" width="10.25" height="10.17" fill="#fbd0b9"/>
<rect x="1486.65" y="338.76" width="10.25" height="10.17" fill="#fae8de"/>
<rect x="1496.6" y="338.76" width="10.25" height="10.17" fill="#f8f2ef"/>
<rect x="1506.55" y="338.76" width="10.25" height="10.17" fill="#fae8de"/>
<rect x="1516.5" y="338.76" width="20.2" height="10.17" fill="#fcdfcf"/>
<rect x="1536.4" y="338.76" width="10.25" height="10.17" fill="#fbd0b9"/>
<rect x="1546.35" y="338.76" width="30.15" height="10.17" fill="#fcdfcf"/>
<rect x="1576.2" y="338.76" width="20.2" height="10.17" fill="#fae8de"/>
<rect x="1596.1" y="338.76" width="10.25" height="10.17" fill="#fcdfcf"/>
<rect x="1606.05" y="338.76" width="50.05" height="10.17" fill="#fbd0b9"/>
<rect x="1655.8" y="338.76" width="20.2" height="10.17" fill="#fcdfcf"/>
<rect x="1675.7" y="338.76" width="20.2" height="10.17" fill="#fae8de"/>
<rect x="1695.6" y="338.76" width="10.25" height="10.17" fill="#f8f2ef"/>
<rect x="1337.4" y="348.63" width="10.25" height="10.17" fill="#2e77b5"/>
<rect x="1347.35" y="348.63" width="30.15" height="10.17" fill="#3a87bd"/>
<rect x="1377.2" y="348.63" width="10.25" height="10.17" fill="#4997c5"/>
<rect x="1387.15" y="348.63" width="10.25" height="10.17" fill="#65a9cf"/>
<rect x="1397.1" y="348.63" width="10.25" height="10.17" fill="#98c8e0"/>
<rect x="1407.05" y="348.63" width="10.25" height="10.17" fill="#c5dfec"/>
<rect x="1426.95" y="348.63" width="10.25" height="10.17" fill="#f8f2ef"/>
<rect x="1436.9" y="348.63" width="20.2" height="10.17" fill="#fae8de"/>
<rect x="1456.8" y="348.63" width="10.25" height="10.17" fill="#fcdfcf"/>
<rect x="1466.75" y="348.63" width="10.25" height="10.17" fill="#f8bda1"/>
<rect x="1476.7" y="348.63" width="30.15" height="10.17" fill="#ffffff"/>
<rect x="1506.55" y="348.63" width="10.25" height="10.17" fill="#fbd0b9"/>
<rect x="1516.5" y="348.63" width="10.25" height="10.17" fill="#d86551"/>
<rect x="1526.45" y="348.63" width="30.15" height="10.17" fill="#ffffff"/>
<rect x="1556.3" y="348.63" width="10.25" height="10.17" fill="#fae8de"/>
<rect x="1566.25" y="348.63" width="40.1" height="10.17" fill="#fcdfcf"/>
<rect x="1606.05" y="348.63" width="40.1" height="10.17" fill="#fbd0b9"/>
<rect x="1645.85" y="348.63" width="30.15" height="10.17" fill="#fcdfcf"/>
<rect x="1675.7" y="348.63" width="20.2" height="10.17" fill="#f8f2ef"/>
<rect x="1337.4" y="358.5" width="20.2" height="10.17" fill="#2e77b5"/>
<rect x="1357.3" y="358.5" width="40.1" height="10.17" fill="#3a87bd"/>
<rect x="1397.1" y="358.5" width="10.25" height="10.17" fill="#65a9cf"/>
<rect x="1407.05" y="358.5" width="10.25" height="10.17" fill="#98c8e0"/>
<rect x="1417" y="358.5" width="10.25" height="10.17" fill="#aed3e6"/>
<rect x="1426.95" y="358.5" width="10.25" height="10.17" fill="#c5dfec"/>
<rect x="1436.9" y="358.5" width="10.25" height="10.17" fill="#e3edf3"/>
<rect x="1456.8" y="358.5" width="10.25" height="10.17" fill="#f8f2ef"/>
<rect x="1466.75" y="358.5" width="10.25" height="10.17" fill="#f5aa89"/>
<rect x="1476.7" y="358.5" width="79.9" height="10.17" fill="#ffffff"/>
<rect x="1556.3" y="358.5" width="89.85" height="10.17" fill="#fcdfcf"/>
<rect x="1645.85" y="358.5" width="40.1" height="10.17" fill="#fae8de"/>
<rect x="1685.65" y="358.5" width="10.25" height="10.17" fill="#f8f2ef"/>
<rect x="1337.4" y="368.37" width="30.15" height="10.17" fill="#2e77b5"/>
<rect x="1367.25" y="368.37" width="30.15" height="10.17" fill="#3a87bd"/>
<rect x="1397.1" y="368.37" width="10.25" height="10.17" fill="#4997c5"/>
<rect x="1407.05" y="368.37" width="10.25" height="10.17" fill="#7eb8d7"/>
<rect x="1417" y="368.37" width="10.25" height="10.17" fill="#aed3e6"/>
<rect x="1426.95" y="368.37" width="10.25" height="10.17" fill="#c5dfec"/>
<rect x="1436.9" y="368.37" width="10.25" height="10.17" fill="#e3edf3"/>
<rect x="1456.8" y="368.37" width="10.25" height="10.17" fill="#f8f2ef"/>
<rect x="1466.75" y="368.37" width="10.25" height="10.17" fill="#fbd0b9"/>
<rect x="1476.7" y="368.37" width="20.2" height="10.17" fill="#fae8de"/>
<rect x="1496.6" y="368.37" width="20.2" height="10.17" fill="#f8f2ef"/>
<rect x="1516.5" y="368.37" width="30.15" height="10.17" fill="#fcdfcf"/>
<rect x="1546.35" y="368.37" width="10.25" height="10.17" fill="#f8bda1"/>
<rect x="1556.3" y="368.37" width="10.25" height="10.17" fill="#fcdfcf"/>
<rect x="1566.25" y="368.37" width="20.2" height="10.17" fill="#fae8de"/>
<rect x="1586.15" y="368.37" width="60" height="10.17" fill="#fcdfcf"/>
<rect x="1645.85" y="368.37" width="30.15" height="10.17" fill="#fae8de"/>
<rect x="1675.7" y="368.37" width="20.2" height="10.17" fill="#f8f2ef"/>
<rect x="1337.4" y="378.24" width="60" height="10.17" fill="#2e77b5"/>
<rect x="1397.1" y="378.24" width="10.25" height="10.17" fill="#3a87bd"/>
<rect x="1407.05" y="378.24" width="10.25" height="10.17" fill="#65a9cf"/>
<rect x="1417" y="378.24" width="10.25" height="10.17" fill="#98c8e0"/>
<rect x="1426.95" y="378.24" width="10.25" height="10.17" fill="#c5dfec"/>
<rect x="1436.9" y="378.24" width="10.25" height="10.17" fill="#d7e8f1"/>
<rect x="1446.85" y="378.24" width="10.25" height="10.17" fill="#e3edf3"/>
<rect x="1456.8" y="378.24" width="10.25" height="10.17" fill="#f8f2ef"/>
<rect x="1466.75" y="378.24" width="10.25" height="10.17" fill="#fcdfcf"/>
<rect x="1476.7" y="378.24" width="10.25" height="10.17" fill="#f8f2ef"/>
<rect x="1516.5" y="378.24" width="10.25" height="10.17" fill="#f8f2ef"/>
<rect x="1526.45" y="378.24" width="20.2" height="10.17" fill="#fae8de"/>
<rect x="1546.35" y="378.24" width="20.2" height="10.17" fill="#fcdfcf"/>
<rect x="1566.25" y="378.24" width="50.05" height="10.17" fill="#fae8de"/>
<rect x="1616" y="378.24" width="20.2" height="10.17" fill="#fcdfcf"/>
<rect x="1635.9" y="378.24" width="20.2" height="10.17" fill="#fae8de"/>
<rect x="1655.8" y="378.24" width="40.1" height="10.17" fill="#f8f2ef"/>
<rect x="1337.4" y="388.11" width="10.25" height="10.17" fill="#2e77b5"/>
<rect x="1347.35" y="388.11" width="20.2" height="10.17" fill="#2267ac"/>
<rect x="1367.25" y="388.11" width="30.15" height="10.17" fill="#2e77b5"/>
<rect x="1397.1" y="388.11" width="10.25" height="10.17" fill="#3a87bd"/>
<rect x="1407.05" y="388.11" width="10.25" height="10.17" fill="#4997c5"/>
<rect x="1417" y="388.11" width="10.25" height="10.17" fill="#7eb8d7"/>
<rect x="1426.95" y="388.11" width="10.25" height="10.17" fill="#98c8e0"/>
<rect x="1436.9" y="388.11" width="10.25" height="10.17" fill="#c5dfec"/>
<rect x="1446.85" y="388.11" width="10.25" height="10.17" fill="#d7e8f1"/>
<rect x="1516.5" y="388.11" width="10.25" height="10.17" fill="#f8f2ef"/>
<rect x="1526.45" y="388.11" width="40.1" height="10.17" fill="#fae8de"/>
<rect x="1566.25" y="388.11" width="20.2" height="10.17" fill="#f8f2ef"/>
<rect x="1586.15" y="388.11" width="69.95" height="10.17" fill="#fae8de"/>
<rect x="1655.8" y="388.11" width="40.1" height="10.17" fill="#f8f2ef"/>
<rect x="1795.1" y="388.11" width="40.1" height="10.17" fill="#f8f2ef"/>
<rect x="1337.4" y="397.98" width="10.25" height="10.17" fill="#2e77b5"/>
<rect x="1347.35" y="397.98" width="20.2" height="10.17" fill="#2267ac"/>
<rect x="1367.25" y="397.98" width="30.15" height="10.17" fill="#2e77b5"/>
<rect x="1397.1" y="397.98" width="10.25" height="10.17" fill="#3a87bd"/>
<rect x="1407.05" y="397.98" width="10.25" height="10.17" fill="#4997c5"/>
<rect x="1417" y="397.98" width="10.25" height="10.17" fill="#65a9cf"/>
<rect x="1426.95" y="397.98" width="10.25" height="10.17" fill="#7eb8d7"/>
<rect x="1436.9" y="397.98" width="10.25" height="10.17" fill="#aed3e6"/>
<rect x="1446.85" y="397.98" width="10.25" height="10.17" fill="#c5dfec"/>
<rect x="1456.8" y="397.98" width="10.25" height="10.17" fill="#e3edf3"/>
<rect x="1516.5" y="397.98" width="10.25" height="10.17" fill="#f8f2ef"/>
<rect x="1526.45" y="397.98" width="99.8" height="10.17" fill="#fae8de"/>
<rect x="1625.95" y="397.98" width="10.25" height="10.17" fill="#fcdfcf"/>
<rect x="1635.9" y="397.98" width="20.2" height="10.17" fill="#fae8de"/>
<rect x="1655.8" y="397.98" width="40.1" height="10.17" fill="#f8f2ef"/>
<rect x="1795.1" y="397.98" width="40.1" height="10.17" fill="#f8f2ef"/>
<rect x="1337.4" y="407.85" width="10.25" height="10.17" fill="#2e77b5"/>
<rect x="1347.35" y="407.85" width="20.2" height="10.17" fill="#2267ac"/>
<rect x="1367.25" y="407.85" width="40.1" height="10.17" fill="#2e77b5"/>
<rect x="1407.05" y="407.85" width="20.2" height="10.17" fill="#3a87bd"/>
<rect x="1426.95" y="407.85" width="10.25" height="10.17" fill="#65a9cf"/>
<rect x="1436.9" y="407.85" width="10.25" height="10.17" fill="#98c8e0"/>
<rect x="1446.85" y="407.85" width="10.25" height="10.17" fill="#c5dfec"/>
<rect x="1456.8" y="407.85" width="30.15" height="10.17" fill="#e3edf3"/>
<rect x="1516.5" y="407.85" width="179.4" height="10.17" fill="#f8f2ef"/>
<rect x="1735.4" y="407.85" width="99.8" height="10.17" fill="#f8f2ef"/>
<rect x="1337.4" y="417.72" width="10.25" height="10.17" fill="#2267ac"/>
<rect x="1347.35" y="417.72" width="10.25" height="10.17" fill="#2e77b5"/>
<rect x="1357.3" y="417.72" width="20.2" height="10.17" fill="#2267ac"/>
<rect x="1377.2" y="417.72" width="20.2" height="10.17" fill="#2e77b5"/>
<rect x="1397.1" y="417.72" width="20.2" height="10.17" fill="#3a87bd"/>
<rect x="1417" y="417.72" width="10.25" height="10.17" fill="#4997c5"/>
<rect x="1426.95" y="417.72" width="10.25" height="10.17" fill="#7eb8d7"/>
<rect x="1436.9" y="417.72" width="10.25" height="10.17" fill="#98c8e0"/>
<rect x="1446.85" y="417.72" width="10.25" height="10.17" fill="#c5dfec"/>
<rect x="1456.8" y="417.72" width="10.25" height="10.17" fill="#d7e8f1"/>
<rect x="1466.75" y="417.72" width="20.2" height="10.17" fill="#e3edf3"/>
<rect x="1526.45" y="417.72" width="278.9" height="10.17" fill="#f8f2ef"/>
<rect x="1337.4" y="427.59" width="40.1" height="10.17" fill="#2267ac"/>
<rect x="1377.2" y="427.59" width="20.2" height="10.17" fill="#2e77b5"/>
<rect x="1397.1" y="427.59" width="10.25" height="10.17" fill="#3a87bd"/>
<rect x="1407.05" y="427.59" width="30.15" height="10.17" fill="#65a9cf"/>
<rect x="1436.9" y="427.59" width="10.25" height="10.17" fill="#98c8e0"/>
<rect x="1446.85" y="427.59" width="10.25" height="10.17" fill="#c5dfec"/>
<rect x="1456.8" y="427.59" width="20.2" height="10.17" fill="#d7e8f1"/>
<rect x="1476.7" y="427.59" width="10.25" height="10.17" fill="#e3edf3"/>
<rect x="1526.45" y="427.59" width="209.25" height="10.17" fill="#f8f2ef"/>
<rect x="1735.4" y="427.59" width="20.2" height="10.17" fill="#fae8de"/>
<rect x="1755.3" y="427.59" width="40.1" height="10.17" fill="#fcdfcf"/>
<rect x="1795.1" y="427.59" width="10.25" height="10.17" fill="#fae8de"/>
<rect x="1815" y="427.59" width="20.2" height="10.17" fill="#f8f2ef"/>
<rect x="1337.4" y="437.46" width="30.15" height="10.17" fill="#2267ac"/>
<rect x="1367.25" y="437.46" width="10.25" height="10.17" fill="#2e77b5"/>
<rect x="1377.2" y="437.46" width="30.15" height="10.17" fill="#3a87bd"/>
<rect x="1407.05" y="437.46" width="10.25" height="10.17" fill="#4997c5"/>
<rect x="1417" y="437.46" width="10.25" height="10.17" fill="#65a9cf"/>
<rect x="1426.95" y="437.46" width="20.2" height="10.17" fill="#7eb8d7"/>
<rect x="1446.85" y="437.46" width="10.25" height="10.17" fill="#c5dfec"/>
<rect x="1456.8" y="437.46" width="20.2" height="10.17" fill="#d7e8f1"/>
<rect x="1476.7" y="437.46" width="10.25" height="10.17" fill="#e3edf3"/>
<rect x="1526.45" y="437.46" width="189.35" height="10.17" fill="#f8f2ef"/>
<rect x="1715.5" y="437.46" width="30.15" height="10.17" fill="#fae8de"/>
<rect x="1745.35" y="437.46" width="10.25" height="10.17" fill="#fcdfcf"/>
<rect x="1755.3" y="437.46" width="10.25" height="10.17" fill="#f8bda1"/>
<rect x="1765.25" y="437.46" width="30.15" height="10.17" fill="#ffffff"/>
<rect x="1795.1" y="437.46" width="10.25" height="10.17" fill="#f8f2ef"/>
<rect x="1815" y="437.46" width="10.25" height="10.17" fill="#f8f2ef"/>
<rect x="1824.95" y="437.46" width="10.25" height="10.17" fill="#ffffff"/>
<rect x="1337.4" y="447.33" width="30.15" height="10.17" fill="#2267ac"/>
<rect x="1367.25" y="447.33" width="10.25" height="10.17" fill="#2e77b5"/>
<rect x="1377.2" y="447.33" width="20.2" height="10.17" fill="#3a87bd"/>
<rect x="1397.1" y="447.33" width="20.2" height="10.17" fill="#65a9cf"/>
<rect x="1417" y="447.33" width="20.2" height="10.17" fill="#7eb8d7"/>
<rect x="1436.9" y="447.33" width="10.25" height="10.17" fill="#98c8e0"/>
<rect x="1446.85" y="447.33" width="10.25" height="10.17" fill="#c5dfec"/>
<rect x="1456.8" y="447.33" width="10.25" height="10.17" fill="#d7e8f1"/>
<rect x="1466.75" y="447.33" width="10.25" height="10.17" fill="#e3edf3"/>
<rect x="1526.45" y="447.33" width="189.35" height="10.17" fill="#f8f2ef"/>
<rect x="1715.5" y="447.33" width="30.15" height="10.17" fill="#fae8de"/>
<rect x="1745.35" y="447.33" width="10.25" height="10.17" fill="#fbd0b9"/>
<rect x="1755.3" y="447.33" width="10.25" height="10.17" fill="#f5aa89"/>
<rect x="1765.25" y="447.33" width="30.15" height="10.17" fill="#ffffff"/>
<rect x="1795.1" y="447.33" width="10.25" height="10.17" fill="#f8f2ef"/>
<rect x="1805.05" y="447.33" width="10.25" height="10.17" fill="#d7e8f1"/>
<rect x="1815" y="447.33" width="10.25" height="10.17" fill="#fcdfcf"/>
<rect x="1824.95" y="447.33" width="10.25" height="10.17" fill="#ffffff"/>
<rect x="1337.4" y="457.2" width="10.25" height="10.17" fill="#2267ac"/>
<rect x="1347.35" y="457.2" width="20.2" height="10.17" fill="#2e77b5"/>
<rect x="1367.25" y="457.2" width="20.2" height="10.17" fill="#3a87bd"/>
<rect x="1387.15" y="457.2" width="10.25" height="10.17" fill="#4997c5"/>
<rect x="1397.1" y="457.2" width="10.25" height="10.17" fill="#65a9cf"/>
<rect x="1407.05" y="457.2" width="20.2" height="10.17" fill="#7eb8d7"/>
<rect x="1426.95" y="457.2" width="20.2" height="10.17" fill="#aed3e6"/>
<rect x="1446.85" y="457.2" width="10.25" height="10.17" fill="#d7e8f1"/>
<rect x="1456.8" y="457.2" width="20.2" height="10.17" fill="#e3edf3"/>
<rect x="1526.45" y="457.2" width="189.35" height="10.17" fill="#f8f2ef"/>
<rect x="1715.5" y="457.2" width="30.15" height="10.17" fill="#fae8de"/>
<rect x="1745.35" y="457.2" width="10.25" height="10.17" fill="#fcdfcf"/>
<rect x="1755.3" y="457.2" width="10.25" height="10.17" fill="#f5aa89"/>
<rect x="1765.25" y="457.2" width="10.25" height="10.17" fill="#d86551"/>
<rect x="1775.2" y="457.2" width="10.25" height="10.17" fill="#ec9374"/>
<rect x="1785.15" y="457.2" width="10.25" height="10.17" fill="#f8bda1"/>
<rect x="1795.1" y="457.2" width="10.25" height="10.17" fill="#f8f2ef"/>
<rect x="1805.05" y="457.2" width="10.25" height="10.17" fill="#d7e8f1"/>
<rect x="1815" y="457.2" width="10.25" height="10.17" fill="#fcdfcf"/>
<rect x="1824.95" y="457.2" width="10.25" height="10.17" fill="#ffffff"/>
<rect x="1337.4" y="467.07" width="30.15" height="10.17" fill="#2e77b5"/>
<rect x="1367.25" y="467.07" width="20.2" height="10.17" fill="#3a87bd"/>
<rect x="1387.15" y="467.07" width="10.25" height="10.17" fill="#4997c5"/>
<rect x="1397.1" y="467.07" width="10.25" height="10.17" fill="#65a9cf"/>
<rect x="1407.05" y="467.07" width="10.25" height="10.17" fill="#7eb8d7"/>
<rect x="1417" y="467.07" width="10.25" height="10.17" fill="#98c8e0"/>
<rect x="1426.95" y="467.07" width="10.25" height="10.17" fill="#aed3e6"/>
<rect x="1436.9" y="467.07" width="10.25" height="10.17" fill="#c5dfec"/>
<rect x="1446.85" y="467.07" width="10.25" height="10.17" fill="#d7e8f1"/>
<rect x="1456.8" y="467.07" width="10.25" height="10.17" fill="#e3edf3"/>
<rect x="1526.45" y="467.07" width="149.55" height="10.17" fill="#f8f2ef"/>
<rect x="1675.7" y="467.07" width="30.15" height="10.17" fill="#fcdfcf"/>
<rect x="1705.55" y="467.07" width="40.1" height="10.17" fill="#fae8de"/>
<rect x="1745.35" y="467.07" width="10.25" height="10.17" fill="#fbd0b9"/>
<rect x="1755.3" y="467.07" width="30.15" height="10.17" fill="#f8bda1"/>
<rect x="1785.15" y="467.07" width="10.25" height="10.17" fill="#fcdfcf"/>
<rect x="1815" y="467.07" width="10.25" height="10.17" fill="#fbd0b9"/>
<rect x="1824.95" y="467.07" width="10.25" height="10.17" fill="#ffffff"/>
<rect x="1337.4" y="476.94" width="30.15" height="10.17" fill="#2e77b5"/>
<rect x="1367.25" y="476.94" width="20.2" height="10.17" fill="#3a87bd"/>
<rect x="1387.15" y="476.94" width="10.25" height="10.17" fill="#4997c5"/>
<rect x="1397.1" y="476.94" width="10.25" height="10.17" fill="#65a9cf"/>
<rect x="1407.05" y="476.94" width="10.25" height="10.17" fill="#7eb8d7"/>
<rect x="1417" y="476.94" width="10.25" height="10.17" fill="#98c8e0"/>
<rect x="1426.95" y="476.94" width="10.25" height="10.17" fill="#aed3e6"/>
<rect x="1436.9" y="476.94" width="10.25" height="10.17" fill="#c5dfec"/>
<rect x="1446.85" y="476.94" width="10.25" height="10.17" fill="#d7e8f1"/>
<rect x="1456.8" y="476.94" width="10.25" height="10.17" fill="#e3edf3"/>
<rect x="1526.45" y="476.94" width="129.65" height="10.17" fill="#f8f2ef"/>
<rect x="1655.8" y="476.94" width="20.2" height="10.17" fill="#fae8de"/>
<rect x="1675.7" y="476.94" width="10.25" height="10.17" fill="#fbd0b9"/>
<rect x="1685.65" y="476.94" width="30.15" height="10.17" fill="#ffffff"/>
<rect x="1715.5" y="476.94" width="10.25" height="10.17" fill="#f8f2ef"/>
<rect x="1725.45" y="476.94" width="20.2" height="10.17" fill="#fae8de"/>
<rect x="1745.35" y="476.94" width="20.2" height="10.17" fill="#fbd0b9"/>
<rect x="1765.25" y="476.94" width="10.25" height="10.17" fill="#f8bda1"/>
<rect x="1775.2" y="476.94" width="10.25" height="10.17" fill="#fbd0b9"/>
<rect x="1785.15" y="476.94" width="10.25" height="10.17" fill="#fcdfcf"/>
<rect x="1815" y="476.94" width="10.25" height="10.17" fill="#fbd0b9"/>
<rect x="1824.95" y="476.94" width="10.25" height="10.17" fill="#ffffff"/>
<rect x="1337.4" y="486.81" width="40.1" height="10.17" fill="#2e77b5"/>
<rect x="1377.2" y="486.81" width="10.25" height="10.17" fill="#3a87bd"/>
<rect x="1387.15" y="486.81" width="10.25" height="10.17" fill="#4997c5"/>
<rect x="1397.1" y="486.81" width="10.25" height="10.17" fill="#65a9cf"/>
<rect x="1407.05" y="486.81" width="10.25" height="10.17" fill="#7eb8d7"/>
<rect x="1417" y="486.81" width="10.25" height="10.17" fill="#98c8e0"/>
<rect x="1426.95" y="486.81" width="10.25" height="10.17" fill="#aed3e6"/>
<rect x="1436.9" y="486.81" width="10.25" height="10.17" fill="#c5dfec"/>
<rect x="1446.85" y="486.81" width="10.25" height="10.17" fill="#d7e8f1"/>
<rect x="1456.8" y="486.81" width="10.25" height="10.17" fill="#e3edf3"/>
<rect x="1526.45" y="486.81" width="129.65" height="10.17" fill="#f8f2ef"/>
<rect x="1655.8" y="486.81" width="20.2" height="10.17" fill="#fae8de"/>
<rect x="1675.7" y="486.81" width="10.25" height="10.17" fill="#f5aa89"/>
<rect x="1685.65" y="486.81" width="30.15" height="10.17" fill="#ffffff"/>
<rect x="1715.5" y="486.81" width="10.25" height="10.17" fill="#f8f2ef"/>
<rect x="1725.45" y="486.81" width="10.25" height="10.17" fill="#fae8de"/>
<rect x="1735.4" y="486.81" width="10.25" height="10.17" fill="#fcdfcf"/>
<rect x="1745.35" y="486.81" width="40.1" height="10.17" fill="#fbd0b9"/>
<rect x="1785.15" y="486.81" width="10.25" height="10.17" fill="#fae8de"/>
<rect x="1815" y="486.81" width="10.25" height="10.17" fill="#f5aa89"/>
<rect x="1824.95" y="486.81" width="10.25" height="10.17" fill="#ffffff"/>
</g>
<g stroke="#000" stroke-width="1.9" stroke-dasharray="9.5,4.5" fill="none" opacity="0.3">
<line x1="1355" y1="67" x2="1355" y2="492"/>
<line x1="1419" y1="67" x2="1419" y2="492"/>
<line x1="1483" y1="67" x2="1483" y2="492"/>
<line x1="1547" y1="67" x2="1547" y2="492"/>
<line x1="1611" y1="67" x2="1611" y2="492"/>
<line x1="1675" y1="67" x2="1675" y2="492"/>
<line x1="1739" y1="67" x2="1739" y2="492"/>
<line x1="1803" y1="67" x2="1803" y2="492"/>
<line x1="1342.8" y1="99.6" x2="1830.8" y2="99.6"/>
<line x1="1342.8" y1="162.8" x2="1830.8" y2="162.8"/>
<line x1="1342.8" y1="226" x2="1830.8" y2="226"/>
<line x1="1342.8" y1="289.2" x2="1830.8" y2="289.2"/>
<line x1="1342.8" y1="352.4" x2="1830.8" y2="352.4"/>
<line x1="1342.8" y1="415.6" x2="1830.8" y2="415.6"/>
<line x1="1342.8" y1="478.8" x2="1830.8" y2="478.8"/>
</g>
<rect x="1342.8" y="67" width="488" height="425" fill="none" stroke="#000" stroke-width="2.2"/>
<text class="t" x="1353.7" y="534.8" text-anchor="middle" style="font-size:33.5px">72.8°E</text>
<text class="t" x="1481.7" y="534.8" text-anchor="middle" style="font-size:33.5px">73°E</text>
<text class="t" x="1609.2" y="534.8" text-anchor="middle" style="font-size:33.5px">73.2°E</text>
<text class="t" x="1735.9" y="534.8" text-anchor="middle" style="font-size:33.5px">73.4°E</text>
<text class="lab" x="1342" y="46">(C)</text>
<g shape-rendering="crispEdges">
<rect x="1862" y="489.45" width="22" height="15.35" fill="#053061"/>
<rect x="1862" y="474.51" width="22" height="15.35" fill="#0f437b"/>
<rect x="1862" y="459.56" width="22" height="15.35" fill="#195696"/>
<rect x="1862" y="444.61" width="22" height="15.35" fill="#2267ac"/>
<rect x="1862" y="429.67" width="22" height="15.35" fill="#2e77b5"/>
<rect x="1862" y="414.72" width="22" height="15.35" fill="#3a87bd"/>
<rect x="1862" y="399.77" width="22" height="15.35" fill="#4997c5"/>
<rect x="1862" y="384.83" width="22" height="15.35" fill="#65a9cf"/>
<rect x="1862" y="369.88" width="22" height="15.35" fill="#7eb8d7"/>
<rect x="1862" y="354.93" width="22" height="15.35" fill="#98c8e0"/>
<rect x="1862" y="339.99" width="22" height="15.35" fill="#aed3e6"/>
<rect x="1862" y="325.04" width="22" height="15.35" fill="#c5dfec"/>
<rect x="1862" y="310.09" width="22" height="15.35" fill="#d7e8f1"/>
<rect x="1862" y="295.15" width="22" height="15.35" fill="#e3edf3"/>
<rect x="1862" y="280.2" width="22" height="15.35" fill="#f0f4f6"/>
<rect x="1862" y="265.25" width="22" height="15.35" fill="#f8f2ef"/>
<rect x="1862" y="250.31" width="22" height="15.35" fill="#fae8de"/>
<rect x="1862" y="235.36" width="22" height="15.35" fill="#fcdfcf"/>
<rect x="1862" y="220.41" width="22" height="15.35" fill="#fbd0b9"/>
<rect x="1862" y="205.47" width="22" height="15.35" fill="#f8bda1"/>
<rect x="1862" y="190.52" width="22" height="15.35" fill="#f5aa89"/>
<rect x="1862" y="175.57" width="22" height="15.35" fill="#ec9374"/>
<rect x="1862" y="160.63" width="22" height="15.35" fill="#e37e64"/>
<rect x="1862" y="145.68" width="22" height="15.35" fill="#d86551"/>
<rect x="1862" y="130.73" width="22" height="15.35" fill="#cc4c44"/>
<rect x="1862" y="115.79" width="22" height="15.35" fill="#bf3338"/>
<rect x="1862" y="100.84" width="22" height="15.35" fill="#b3192c"/>
<rect x="1862" y="85.89" width="22" height="15.35" fill="#9c1127"/>
<rect x="1862" y="70.95" width="22" height="15.35" fill="#810823"/>
<rect x="1862" y="56" width="22" height="15.35" fill="#67001f"/>
</g>
<rect x="1862" y="56" width="22" height="448.4" fill="none" stroke="#000" stroke-width="2.2"/>
<line x1="1884" y1="56" x2="1896" y2="56" stroke="#000" stroke-width="2"/>
<text class="t" x="1906.5" y="68.2" style="font-size:33.5px">0.4</text>
<line x1="1884" y1="168.1" x2="1896" y2="168.1" stroke="#000" stroke-width="2"/>
<text class="t" x="1906.5" y="180.3" style="font-size:33.5px">0.2</text>
<line x1="1884" y1="280.2" x2="1896" y2="280.2" stroke="#000" stroke-width="2"/>
<text class="t" x="1906.5" y="292.4" style="font-size:33.5px">0.0</text>
<line x1="1884" y1="392.3" x2="1896" y2="392.3" stroke="#000" stroke-width="2"/>
<text class="t" x="1906.5" y="404.5" style="font-size:33.5px">−0.2</text>
<line x1="1884" y1="504.4" x2="1896" y2="504.4" stroke="#000" stroke-width="2"/>
<text class="t" x="1906.5" y="516.6" style="font-size:33.5px">−0.4</text>
<text class="t" x="1851" y="35" style="font-size:36px">°C</text>
<text class="lab" x="778" y="607">(D)</text>
<path d="M1145.2 638.3 L1145.3 638.2 L1145.5 638.1 L1145.6 638 L1145.7 637.9 L1145.8 637.7 L1145.8 637.5 L1145.9 637.4 L1145.9 637.2 L1145.9 637 L1145.8 636.8 L1145.8 636.6 L1145.7 636.3 L1145.6 636.1 L1145.4 636 L1145.2 635.8 L1145 635.6 L1144.8 635.5 L1144.5 635.4 L1144.2 635.3 L1144 635.3 L1143.7 635.3 L1143.3 635.3 L1143 635.4 L1142.7 635.5 L1142.4 635.7 L1142.2 635.9 L1141.9 636.1 L1141.7 636.4 L1141.5 636.7 L1141.3 637.1 L1141.2 637.4 L1141.1 637.8 L1141.1 638.2 L1141.1 638.6 L1141.1 639 L1141.3 639.4 L1141.4 639.8 L1141.6 640.2 L1141.9 640.6 L1142.2 640.9 L1142.6 641.2 L1143 641.5 L1143.4 641.7 L1143.9 641.8 L1144.4 641.9 L1144.9 642 L1145.4 642 L1145.9 641.9 L1146.4 641.8 L1146.9 641.5 L1147.4 641.3 L1147.8 641 L1148.3 640.6 L1148.6 640.1 L1149 639.6 L1149.2 639.1 L1149.4 638.6 L1149.6 638 L1149.6 637.3 L1149.6 636.7 L1149.5 636.1 L1149.4 635.5 L1149.1 634.9 L1148.8 634.3 L1148.5 633.7 L1148 633.2 L1147.5 632.8 L1146.9 632.4 L1146.3 632.1 L1145.6 631.8 L1144.9 631.6 L1144.2 631.5 L1143.5 631.5 L1142.8 631.6 L1142 631.8 L1141.3 632 L1140.6 632.4 L1140 632.8 L1139.4 633.3 L1138.8 633.9 L1138.4 634.5 L1138 635.2 L1137.6 636 L1137.4 636.8 L1137.3 637.6 L1137.3 638.5 L1137.3 639.3 L1137.5 640.2 L1137.8 641 L1138.1 641.8 L1138.6 642.5 L1139.2 643.2 L1139.8 643.9 L1140.5 644.4 L1141.3 644.9 L1142.2 645.3 L1143.1 645.6 L1144 645.7 L1144.9 645.8 L1145.9 645.7 L1146.9 645.6 L1147.8 645.3 L1148.7 644.9 L1149.6 644.4 L1150.4 643.8 L1151.1 643.1 L1151.8 642.3 L1152.3 641.5 L1152.8 640.5 L1153.1 639.5 L1153.3 638.5 L1153.4 637.4 L1153.4 636.4 L1153.3 635.3 L1153 634.2 L1152.6 633.2 L1152.1 632.3 L1151.4 631.3 L1150.7 630.5 L1149.8 629.8 L1148.9 629.1 L1147.9 628.6 L1146.8 628.2 L1145.7 627.9 L1144.5 627.7 L1143.3 627.7 L1142.1 627.8 L1141 628.1 L1139.8 628.5 L1138.7 629 L1137.7 629.7 L1136.8 630.5 L1135.9 631.4 L1135.2 632.4 L1134.6 633.5 L1134.1 634.7 L1133.7 635.9 L1133.5 637.2 L1133.4 638.4 L1133.5 639.7 L1133.8 641 L1134.2 642.3 L1134.7 643.5 L1135.4 644.6 L1136.2 645.7 L1137.2 646.6 L1138.2 647.5 L1139.4 648.2 L1140.7 648.8 L1142 649.2 L1143.3 649.5 L1144.7 649.6 L1146.1 649.6 L1147.5 649.4 L1148.9 649 L1150.3 648.4 L1151.5 647.7 L1152.7 646.9 L1153.8 645.9 L1154.7 644.8" fill="none" stroke="#e57a0f" stroke-width="1.9" stroke-linecap="round"/>
<circle cx="1144.4" cy="637.7" r="13.6" fill="none" stroke="#e57a0f" stroke-width="2.2"/>
<line x1="1162.9" y1="637.7" x2="1171.4" y2="637.7" stroke="#e57a0f" stroke-width="2.4" stroke-linecap="round"/>
<line x1="1160.4" y1="647" x2="1167.8" y2="651.2" stroke="#e57a0f" stroke-width="2.4" stroke-linecap="round"/>
<line x1="1153.7" y1="653.7" x2="1157.9" y2="661.1" stroke="#e57a0f" stroke-width="2.4" stroke-linecap="round"/>
<line x1="1144.4" y1="656.2" x2="1144.4" y2="664.7" stroke="#e57a0f" stroke-width="2.4" stroke-linecap="round"/>
<line x1="1135.2" y1="653.7" x2="1130.9" y2="661.1" stroke="#e57a0f" stroke-width="2.4" stroke-linecap="round"/>
<line x1="1128.4" y1="647" x2="1121" y2="651.2" stroke="#e57a0f" stroke-width="2.4" stroke-linecap="round"/>
<line x1="1125.9" y1="637.7" x2="1117.4" y2="637.7" stroke="#e57a0f" stroke-width="2.4" stroke-linecap="round"/>
<line x1="1128.4" y1="628.5" x2="1121" y2="624.2" stroke="#e57a0f" stroke-width="2.4" stroke-linecap="round"/>
<line x1="1135.2" y1="621.7" x2="1130.9" y2="614.3" stroke="#e57a0f" stroke-width="2.4" stroke-linecap="round"/>
<line x1="1144.4" y1="619.2" x2="1144.4" y2="610.7" stroke="#e57a0f" stroke-width="2.4" stroke-linecap="round"/>
<line x1="1153.7" y1="621.7" x2="1157.9" y2="614.3" stroke="#e57a0f" stroke-width="2.4" stroke-linecap="round"/>
<line x1="1160.4" y1="628.5" x2="1167.8" y2="624.2" stroke="#e57a0f" stroke-width="2.4" stroke-linecap="round"/>
<polygon points="1098.6,663.3 1074.1,688.2 1066.4,686.2 1059.1,707.1 1079.9,699.5 1077.8,691.8 1102.4,666.9" fill="#f28c78"/>
<polygon points="1120.5,674.9 1094.8,701 1087.1,699 1079.8,719.9 1100.6,712.3 1098.5,704.6 1124.3,678.5" fill="#f28c78"/>
<path d="M770 762.5 L773 762.5 C781.7 762.5 788.5 753.6 797.2 753.6 C804.5 753.6 810.1 762.5 817.4 762.5 C824.7 762.5 830.3 753.6 837.6 753.6 C844.9 753.6 850.6 762.5 857.9 762.5 C864.9 762.5 870.3 753.6 877.3 753.6 C883.7 753.6 888.6 762.5 895 762.5 C901.3 762.5 906.3 753.6 912.6 753.6 C919.6 753.6 925 762.5 932 762.5 C938.7 762.5 943.9 753.6 950.6 753.6 C957 753.6 961.9 762.5 968.3 762.5 L969.4 762.5" fill="none" stroke="#d4650e" stroke-width="3"/>
<path d="M969.4 762.5 L975 762.5 C982.8 762.5 988.9 753.6 996.7 753.6 C1004.1 753.6 1009.8 762.5 1017.2 762.5 C1024.6 762.5 1030.3 753.6 1037.7 753.6 C1045.1 753.6 1050.8 762.5 1058.2 762.5 C1065.3 762.5 1070.8 753.6 1077.9 753.6 C1084.3 753.6 1089.4 762.5 1095.8 762.5 C1102 762.5 1106.7 753.6 1112.9 753.6 C1120 753.6 1125.5 762.5 1132.6 762.5 C1139 762.5 1144.1 753.6 1150.5 753.6 C1156.7 753.6 1161.4 762.5 1167.6 762.5 L1169.8 762.5" fill="none" stroke="#0a7de6" stroke-width="3"/>
<path d="M1169.8 762.5 L1172 762.5 C1179.9 762.5 1186.1 753.6 1194 753.6 C1201.4 753.6 1207.2 762.5 1214.6 762.5 C1221.7 762.5 1227.1 753.6 1234.2 753.6 C1241.3 753.6 1246.8 762.5 1253.9 762.5 C1261.3 762.5 1267 753.6 1274.4 753.6 C1281.2 753.6 1286.4 762.5 1293.2 762.5 L1294 762.5" fill="none" stroke="#f28c78" stroke-width="3"/>
<polygon points="1148,779.6 1125.8,779.6 1122.8,775.4 1101.8,782.6 1122.8,789.9 1125.8,785.6 1148,785.6" fill="#0a7de6"/>
<polygon points="1294,779.5 1204,779.5 1201,774.8 1179.5,781.8 1201,788.8 1204,784.1 1294,784.1" fill="#c8141e"/>
<rect x="672" y="759" width="2" height="5" fill="#e8a060"/>
<line x1="754" y1="825.8" x2="1262.5" y2="825.8" stroke="#000" stroke-width="2" stroke-dasharray="3.2,2.6"/>
<path d="M772.1 1054.2 L834.4 1046.4 C880 940 938 790 960 790 C966 790 969.2 796 969.2 806 L969 822 C969 848 998 864.5 1030 864.5 C1062 864.5 1088.8 848 1088.8 825 L1088.8 805 C1088.8 796 1092 792 1097 792 C1110 792 1130 825 1147 865 C1166 908 1202 985 1222.4 1046.4 L1285.2 1053.4" fill="none" stroke="#621618" stroke-width="8" stroke-linejoin="miter" stroke-linecap="butt"/>
<path d="M1149.1 829.4 L1149.3 831.3 L1149.6 833.1 L1150.2 834.9 L1150.9 836.6 L1151.9 838.2 L1153 839.7 L1154.2 841.1 L1155.6 842.3 L1157.1 843.4 L1158.7 844.3 L1160.4 845 L1162.2 845.6 L1164 845.9 L1165.9 846.1 L1167.8 846 L1169.6 845.8 L1171.4 845.4 L1173.2 844.7 L1174.8 843.9 L1176.4 842.9 L1177.9 841.8 L1179.2 840.5 L1180.4 839 L1181.4 837.4 L1182.2 835.8 L1182.9 834.1 L1183.4 832.2 L1183.6 830.4 L1183.7 828.5 L1183.6 826.7 L1183.2 824.9 L1182.7 823.1 L1182 821.4 L1181.1 819.7 L1180.1 818.2 L1178.8 816.8 L1177.5 815.5 L1176 814.4 L1174.4 813.5 L1172.7 812.7 L1170.9 812.1 L1169.1 811.7 L1167.3 811.5 L1165.4 811.5 L1163.5 811.7 L1161.7 812.1 L1160 812.7 L1158.3 813.5" fill="none" stroke="#0b1271" stroke-width="3.5"/>
<polygon points="1144.9,824.6 1155.8,810.2 1163.1,820.2" fill="#0f1f6b"/>
<circle cx="1185.6" cy="878" r="15.7" fill="none" stroke="#0b1271" stroke-width="3.5"/>
<polygon points="1171.8,870.3 1183.1,857.4 1188.6,867.9" fill="#0f1f6b"/>
<circle cx="1205.3" cy="924.1" r="15.9" fill="none" stroke="#0b1271" stroke-width="3.5"/>
<polygon points="1191.3,916.3 1202.7,903.3 1208.4,913.8" fill="#0f1f6b"/>
<circle cx="1228.2" cy="973" r="16.3" fill="none" stroke="#0b1271" stroke-width="3.5"/>
<polygon points="1213.9,965 1225.6,951.7 1231.4,962.5" fill="#0f1f6b"/>
<path d="M1294 950 C1290.4 946.5 1279.2 938.2 1272.6 929.1 C1266 920 1259.2 905.4 1254.5 895.6 C1249.8 885.8 1247 876.5 1244.7 870.5 C1242.4 864.5 1241.2 861.2 1240.5 859.3" fill="none" stroke="#0606ad" stroke-width="3.1" stroke-linecap="round"/>
<polygon points="1234.4,844.8 1246.2,856.9 1239.5,857 1234.8,861.7" fill="#1d3a8e"/>
<path d="M1294 978 C1290.9 975 1281.3 967 1275.4 959.8 C1269.5 952.6 1262.4 941 1258.7 934.7 C1255 928.4 1254 924.3 1253.1 922.2" fill="none" stroke="#0606ad" stroke-width="3.1" stroke-linecap="round"/>
<polygon points="1248.3,910.4 1258.8,919.9 1252.2,919.9 1247.4,924.5" fill="#1d3a8e"/>
<path d="M1294 1000.3 C1290.9 998.2 1280.4 992 1275.4 987.8 C1270.5 983.6 1266.2 977.3 1264.3 975.2" fill="none" stroke="#0606ad" stroke-width="3.1" stroke-linecap="round"/>
<polygon points="1257.6,960.7 1269.9,972.6 1263.3,972.9 1258.7,977.8" fill="#1d3a8e"/>
<text class="lab" x="1358.8" y="602.6">(E)</text>
<path d="M1296 566.2H1315.6M1282.4 586H1315.6" stroke="#ededed" stroke-width="1"/>
<path d="M1733.1 633.9 L1733.2 633.8 L1733.4 633.7 L1733.5 633.6 L1733.6 633.5 L1733.7 633.3 L1733.7 633.1 L1733.8 633 L1733.8 632.8 L1733.8 632.6 L1733.7 632.4 L1733.7 632.2 L1733.6 631.9 L1733.5 631.7 L1733.3 631.6 L1733.1 631.4 L1732.9 631.2 L1732.7 631.1 L1732.4 631 L1732.1 630.9 L1731.9 630.9 L1731.6 630.9 L1731.2 630.9 L1730.9 631 L1730.6 631.1 L1730.3 631.3 L1730.1 631.5 L1729.8 631.7 L1729.6 632 L1729.4 632.3 L1729.2 632.7 L1729.1 633 L1729 633.4 L1729 633.8 L1729 634.2 L1729 634.6 L1729.2 635 L1729.3 635.4 L1729.5 635.8 L1729.8 636.2 L1730.1 636.5 L1730.5 636.8 L1730.9 637.1 L1731.3 637.3 L1731.8 637.4 L1732.3 637.5 L1732.8 637.6 L1733.3 637.6 L1733.8 637.5 L1734.3 637.4 L1734.8 637.1 L1735.3 636.9 L1735.7 636.6 L1736.2 636.2 L1736.5 635.7 L1736.9 635.2 L1737.1 634.7 L1737.3 634.2 L1737.5 633.6 L1737.5 632.9 L1737.5 632.3 L1737.4 631.7 L1737.3 631.1 L1737 630.5 L1736.7 629.9 L1736.4 629.3 L1735.9 628.8 L1735.4 628.4 L1734.8 628 L1734.2 627.7 L1733.5 627.4 L1732.8 627.2 L1732.1 627.1 L1731.4 627.1 L1730.7 627.2 L1729.9 627.4 L1729.2 627.6 L1728.5 628 L1727.9 628.4 L1727.3 628.9 L1726.7 629.5 L1726.3 630.1 L1725.9 630.8 L1725.5 631.6 L1725.3 632.4 L1725.2 633.2 L1725.2 634.1 L1725.2 634.9 L1725.4 635.8 L1725.7 636.6 L1726 637.4 L1726.5 638.1 L1727.1 638.8 L1727.7 639.5 L1728.4 640 L1729.2 640.5 L1730.1 640.9 L1731 641.2 L1731.9 641.3 L1732.8 641.4 L1733.8 641.3 L1734.8 641.2 L1735.7 640.9 L1736.6 640.5 L1737.5 640 L1738.3 639.4 L1739 638.7 L1739.7 637.9 L1740.2 637.1 L1740.7 636.1 L1741 635.1 L1741.2 634.1 L1741.3 633 L1741.3 632 L1741.2 630.9 L1740.9 629.8 L1740.5 628.8 L1740 627.9 L1739.3 626.9 L1738.6 626.1 L1737.7 625.4 L1736.8 624.7 L1735.8 624.2 L1734.7 623.8 L1733.6 623.5 L1732.4 623.3 L1731.2 623.3 L1730 623.4 L1728.9 623.7 L1727.7 624.1 L1726.6 624.6 L1725.6 625.3 L1724.7 626.1 L1723.8 627 L1723.1 628 L1722.5 629.1 L1722 630.3 L1721.6 631.5 L1721.4 632.8 L1721.3 634 L1721.4 635.3 L1721.7 636.6 L1722.1 637.9 L1722.6 639.1 L1723.3 640.2 L1724.1 641.3 L1725.1 642.2 L1726.1 643.1 L1727.3 643.8 L1728.6 644.4 L1729.9 644.8 L1731.2 645.1 L1732.6 645.2 L1734 645.2 L1735.4 645 L1736.8 644.6 L1738.2 644 L1739.4 643.3 L1740.6 642.5 L1741.7 641.5 L1742.6 640.4" fill="none" stroke="#e57a0f" stroke-width="1.9" stroke-linecap="round"/>
<circle cx="1732.3" cy="633.3" r="13.6" fill="none" stroke="#e57a0f" stroke-width="2.2"/>
<line x1="1750.8" y1="633.3" x2="1759.3" y2="633.3" stroke="#e57a0f" stroke-width="2.4" stroke-linecap="round"/>
<line x1="1748.3" y1="642.5" x2="1755.7" y2="646.8" stroke="#e57a0f" stroke-width="2.4" stroke-linecap="round"/>
<line x1="1741.5" y1="649.3" x2="1745.8" y2="656.7" stroke="#e57a0f" stroke-width="2.4" stroke-linecap="round"/>
<line x1="1732.3" y1="651.8" x2="1732.3" y2="660.3" stroke="#e57a0f" stroke-width="2.4" stroke-linecap="round"/>
<line x1="1723" y1="649.3" x2="1718.8" y2="656.7" stroke="#e57a0f" stroke-width="2.4" stroke-linecap="round"/>
<line x1="1716.3" y1="642.5" x2="1708.9" y2="646.8" stroke="#e57a0f" stroke-width="2.4" stroke-linecap="round"/>
<line x1="1713.8" y1="633.3" x2="1705.3" y2="633.3" stroke="#e57a0f" stroke-width="2.4" stroke-linecap="round"/>
<line x1="1716.3" y1="624" x2="1708.9" y2="619.8" stroke="#e57a0f" stroke-width="2.4" stroke-linecap="round"/>
<line x1="1723" y1="617.3" x2="1718.8" y2="609.9" stroke="#e57a0f" stroke-width="2.4" stroke-linecap="round"/>
<line x1="1732.3" y1="614.8" x2="1732.3" y2="606.3" stroke="#e57a0f" stroke-width="2.4" stroke-linecap="round"/>
<line x1="1741.5" y1="617.3" x2="1745.8" y2="609.9" stroke="#e57a0f" stroke-width="2.4" stroke-linecap="round"/>
<line x1="1748.3" y1="624" x2="1755.7" y2="619.8" stroke="#e57a0f" stroke-width="2.4" stroke-linecap="round"/>
<polygon points="1687.1,658.3 1663.4,682.5 1655.6,680.5 1648.4,701.4 1669.2,693.8 1667.1,686.1 1690.9,661.9" fill="#f28c78"/>
<polygon points="1708.4,669.5 1683,695 1675.3,693 1668,713.9 1688.8,706.4 1686.7,698.7 1712,673.1" fill="#f28c78"/>
<path d="M1341.9 760.4 L1349 760.4 C1355.6 760.4 1360.7 751.9 1367.3 751.9 C1374.6 751.9 1380.4 760.4 1387.7 760.4 C1394.8 760.4 1400.2 751.9 1407.3 751.9 C1414.6 751.9 1420.4 760.4 1427.7 760.4 C1434.3 760.4 1439.4 751.9 1446 751.9 C1452.6 751.9 1457.7 760.4 1464.3 760.4 C1470.4 760.4 1475.2 751.9 1481.3 751.9 C1488.1 751.9 1493.5 760.4 1500.3 760.4 C1506.6 760.4 1511.6 751.9 1517.9 751.9 C1523.7 751.9 1528.2 760.4 1534 760.4 L1536.2 760.4" fill="none" stroke="#f39a48" stroke-width="3"/>
<path d="M1729.8 758.1 L1736 758.1 C1743.4 758.1 1749.2 748.8 1756.6 748.8 C1763.7 748.8 1769.1 758.1 1776.2 758.1 C1782.9 758.1 1788 748.8 1794.7 748.8 C1802.1 748.8 1807.9 758.1 1815.3 758.1 C1821.6 758.1 1826.5 748.8 1832.8 748.8 C1839.5 748.8 1844.7 758.1 1851.4 758.1 C1858.1 758.1 1863.2 748.8 1869.9 748.8 C1876.6 748.8 1881.8 758.1 1888.5 758.1 C1895.2 758.1 1900.3 748.8 1907 748.8 C1912.4 748.8 1916.6 758.1 1922 758.1 L1924.5 758.1" fill="none" stroke="#f39a48" stroke-width="3"/>
<path d="M1577.4 758.1 L1580 758.1 C1584.2 758.1 1587.6 764.3 1591.8 764.3 C1596.3 764.3 1599.7 758.1 1604.2 758.1 C1608.3 758.1 1611.4 764.3 1615.5 764.3 C1619.6 764.3 1622.7 758.1 1626.8 758.1 C1630.7 758.1 1633.6 764.3 1637.5 764.3 C1641.7 764.3 1644.9 758.1 1649.1 758.1 C1653 758.1 1655.9 764.3 1659.8 764.3 C1663.9 764.3 1667 758.1 1671.1 758.1 C1675 758.1 1678.1 764.3 1682 764.3 C1685.2 764.3 1687.8 758.1 1691 758.1 L1692 758.1" fill="none" stroke="#d01a2a" stroke-width="2.4"/>
<polygon points="1927.6,786.2 1825.9,786.2 1822.9,781.1 1800.9,788.4 1822.9,795.6 1825.9,790.6 1927.6,790.6" fill="#c8141e"/>
<line x1="1365.4" y1="829.8" x2="1863" y2="829.8" stroke="#000" stroke-width="2" stroke-dasharray="3.2,2.6"/>
<path d="M1362.8 1053 L1434.5 1050.7 C1490 880 1540 739.2 1563.2 739.2 C1572 739.2 1577.2 750 1577.2 778.6 L1577.2 829 C1577.2 855 1600 868.3 1636 868.3 C1672 868.3 1693.5 855 1693.5 827.5 L1693.5 775.4 C1693.5 750 1697 738 1705 738 C1718 738 1740 775 1760.3 827.5 C1780 878 1815 965 1835.3 1045.8 L1908.6 1057.2" fill="none" stroke="#621618" stroke-width="8" stroke-linejoin="miter" stroke-linecap="butt"/>
<path d="M1776.4 830.9 L1776.6 832.7 L1776.9 834.4 L1777.5 836.1 L1778.2 837.8 L1779.1 839.3 L1780.1 840.7 L1781.3 842.1 L1782.6 843.3 L1784.1 844.3 L1785.6 845.2 L1787.3 845.9 L1789 846.4 L1790.7 846.7 L1792.5 846.9 L1794.3 846.8 L1796.1 846.6 L1797.8 846.2 L1799.5 845.6 L1801.1 844.8 L1802.6 843.8 L1804 842.7 L1805.3 841.5 L1806.4 840.1 L1807.4 838.6 L1808.2 837 L1808.8 835.3 L1809.3 833.6 L1809.5 831.8 L1809.6 830.1 L1809.5 828.3 L1809.2 826.5 L1808.7 824.8 L1808 823.2 L1807.1 821.6 L1806.1 820.1 L1804.9 818.8 L1803.6 817.6 L1802.2 816.5 L1800.7 815.6 L1799 814.8 L1797.3 814.3 L1795.6 813.9 L1793.8 813.7 L1792 813.7 L1790.3 813.9 L1788.5 814.3 L1786.8 814.9 L1785.2 815.6" fill="none" stroke="#0b1271" stroke-width="3.5"/>
<polygon points="1771.5,826.1 1782.4,811.7 1789.7,821.7" fill="#0f1f6b"/>
<circle cx="1811.8" cy="877.7" r="15.4" fill="none" stroke="#0b1271" stroke-width="3.5"/>
<polygon points="1798.3,870.1 1809.3,857.5 1814.8,867.8" fill="#0f1f6b"/>
<circle cx="1831.6" cy="924.5" r="15.6" fill="none" stroke="#0b1271" stroke-width="3.5"/>
<polygon points="1817.9,916.9 1829.1,904.1 1834.6,914.4" fill="#0f1f6b"/>
<circle cx="1854" cy="971.8" r="16.4" fill="none" stroke="#0b1271" stroke-width="3.5"/>
<polygon points="1839.6,963.8 1851.4,950.3 1857.2,961.2" fill="#0f1f6b"/>
<path d="M1953.8 956.6 C1951.4 957.3 1944.6 961.1 1939.6 960.7 C1934.6 960.4 1928.9 958.2 1923.6 954.5 C1918.3 950.8 1912.6 944.7 1907.6 938.5 C1902.6 932.3 1898.2 925.1 1893.4 917.1 C1888.7 909.1 1883.2 898.5 1879.1 890.5 C1874.9 882.5 1871 874.1 1868.5 869.1 C1866 864.1 1864.8 861.7 1864 860.2" fill="none" stroke="#0606ad" stroke-width="3.1" stroke-linecap="round"/>
<polygon points="1857.8,846.4 1869.7,857.7 1863,857.9 1858.3,862.7" fill="#1d3a8e"/>
<path d="M1949.4 986.5 C1947.2 986.6 1941.2 988.3 1936 987.4 C1930.8 986.5 1923.8 984.9 1918.2 981.2 C1912.6 977.5 1906.9 971.4 1902.2 965.2 C1897.5 959 1893.5 950.2 1889.8 943.8 C1886.1 937.4 1881.6 929.7 1880 926.9" fill="none" stroke="#0606ad" stroke-width="3.1" stroke-linecap="round"/>
<polygon points="1872,910 1885.6,924.2 1878.9,924.6 1874.4,929.6" fill="#1d3a8e"/>
<path d="M1945.8 1003.4 C1943 1003.1 1934.7 1003.1 1928.9 1001.6 C1923.1 1000.1 1916.4 997.3 1911.1 994.5 C1905.8 991.7 1900.8 988 1896.9 984.7 C1893.1 981.4 1889.5 976.5 1888 974.9" fill="none" stroke="#0606ad" stroke-width="3.1" stroke-linecap="round"/>
<polygon points="1880.9,959.5 1893.6,972.3 1887,972.6 1882.4,977.5" fill="#1d3a8e"/>
</svg></body></html>
